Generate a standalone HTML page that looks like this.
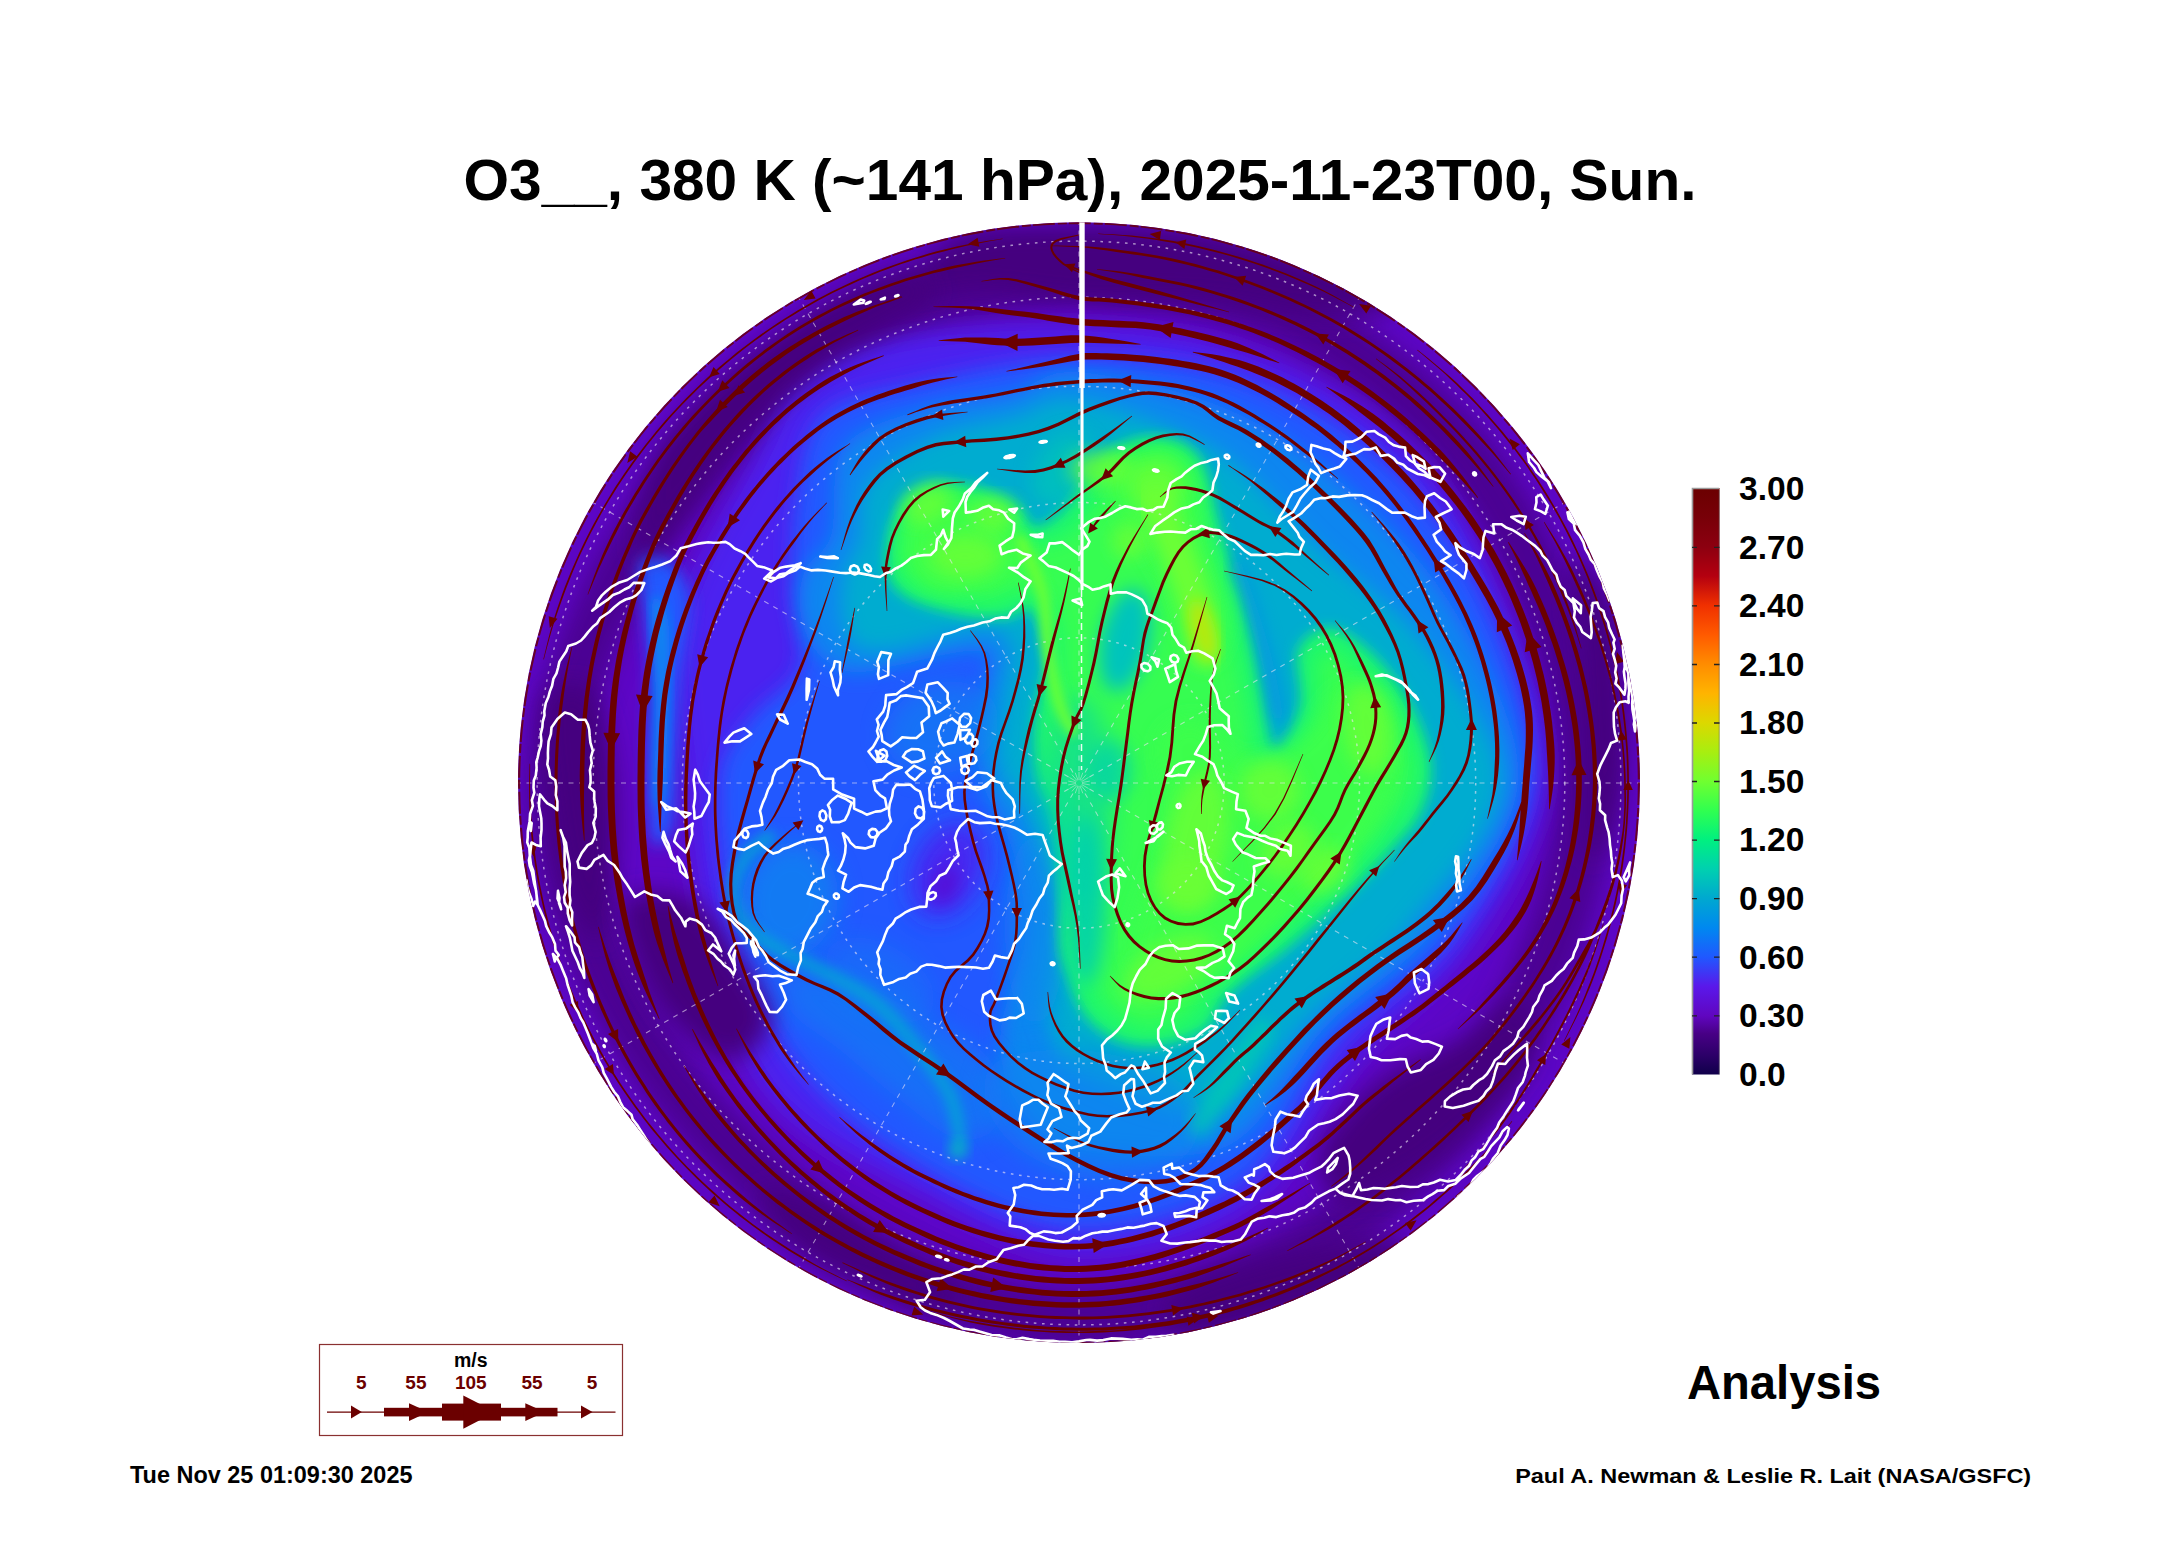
<!DOCTYPE html>
<html><head><meta charset="utf-8"><title>O3 380K</title>
<style>html,body{margin:0;padding:0;background:#fff}body{width:2165px;height:1561px;overflow:hidden}
svg{display:block;font-family:"Liberation Sans",sans-serif}</style></head>
<body><svg width="2165" height="1561" viewBox="0 0 2165 1561">
<rect width="2165" height="1561" fill="#fff"/>
<defs><clipPath id="clip"><ellipse cx="1079" cy="782.6" rx="561" ry="560.3"/></clipPath>
<filter id="b5" x="-30%" y="-30%" width="160%" height="160%"><feGaussianBlur stdDeviation="5"/></filter>
<filter id="b6" x="-30%" y="-30%" width="160%" height="160%"><feGaussianBlur stdDeviation="6"/></filter>
<filter id="b7" x="-30%" y="-30%" width="160%" height="160%"><feGaussianBlur stdDeviation="7"/></filter>
<filter id="b8" x="-30%" y="-30%" width="160%" height="160%"><feGaussianBlur stdDeviation="8"/></filter>
<filter id="b9" x="-30%" y="-30%" width="160%" height="160%"><feGaussianBlur stdDeviation="9"/></filter>
<filter id="b10" x="-30%" y="-30%" width="160%" height="160%"><feGaussianBlur stdDeviation="10"/></filter>
<filter id="b12" x="-30%" y="-30%" width="160%" height="160%"><feGaussianBlur stdDeviation="12"/></filter>
<filter id="b14" x="-30%" y="-30%" width="160%" height="160%"><feGaussianBlur stdDeviation="14"/></filter>
<filter id="er18" x="-10%" y="-10%" width="120%" height="120%"><feMorphology operator="erode" radius="16"/><feGaussianBlur stdDeviation="10"/></filter>
</defs>
<g clip-path="url(#clip)">
<rect x="500" y="200" width="1160" height="1160" fill="#5d06c6"/>
<path d="M1079.0 271.0C1111.7 277.5 1215.1 284.5 1274.9 310.0C1334.8 335.4 1393.6 377.0 1438.2 423.8C1482.9 470.6 1518.5 531.0 1542.8 590.9C1567.1 650.8 1584.3 719.1 1584.0 783.0C1583.7 846.9 1565.6 914.8 1540.9 974.3C1516.3 1033.9 1479.9 1091.9 1436.1 1140.1C1392.3 1188.3 1337.5 1233.3 1278.0 1263.4C1218.5 1293.6 1145.3 1321.0 1079.0 1321.0C1012.7 1321.0 939.5 1293.6 880.0 1263.4C820.5 1233.3 767.3 1187.6 721.9 1140.1C676.5 1092.5 635.3 1037.7 607.8 978.2C580.3 918.7 556.2 847.7 557.0 783.0C557.8 718.3 583.8 648.1 612.4 589.7C641.1 531.4 683.4 478.5 729.0 433.0C774.5 387.4 827.4 343.4 885.7 316.4C944.1 289.4 1046.8 278.6 1079.0 271.0" fill="none" stroke="#44007f" stroke-width="58" stroke-linecap="round" filter="url(#b12)" opacity="0.72"/>
<path d="M1079.0 327.0C1139.1 329.8 1200.4 335.6 1255.8 356.2C1311.2 376.8 1370.3 408.7 1411.3 450.7C1452.4 492.6 1479.9 552.3 1502.1 607.7C1524.4 663.1 1550.2 726.7 1545.0 783.0C1539.8 839.3 1502.2 899.1 1470.7 945.3C1439.3 991.5 1392.5 1017.2 1356.2 1060.2C1319.9 1103.2 1299.3 1170.9 1253.1 1203.4C1206.9 1235.8 1136.1 1257.3 1079.0 1255.0C1021.9 1252.7 962.5 1216.3 910.6 1189.5C858.8 1162.7 801.7 1136.2 767.9 1094.1C734.0 1052.0 721.4 988.7 707.6 936.8C693.8 885.0 689.6 836.2 685.0 783.0C680.4 729.8 668.2 671.7 679.9 617.7C691.6 563.7 735.3 498.2 755.1 459.1C775.0 420.1 775.7 403.2 799.1 383.3C822.5 363.3 848.7 348.9 895.3 339.5C942.0 330.2 1018.9 324.2 1079.0 327.0Z" fill="#4c24f0" filter="url(#b12)"/>
<path d="M1079.0 358.0C1134.4 357.4 1193.5 361.7 1245.8 380.2C1298.2 398.7 1352.2 430.3 1393.0 469.0C1433.7 507.8 1467.1 560.4 1490.1 612.7C1513.1 665.0 1537.2 728.8 1531.0 783.0C1524.8 837.2 1485.5 895.0 1453.2 938.0C1420.9 981.0 1372.0 1000.7 1337.1 1041.1C1302.2 1081.5 1286.6 1149.0 1243.6 1180.3C1200.5 1211.6 1132.9 1231.3 1079.0 1229.0C1025.1 1226.7 967.1 1193.8 920.2 1166.4C873.3 1139.0 828.4 1104.6 797.6 1064.4C766.8 1024.3 748.4 972.3 735.3 925.4C722.2 878.5 716.5 817.4 719.0 783.0C721.5 748.6 736.7 738.3 750.2 719.1C763.7 699.8 792.9 688.9 800.0 667.4C807.1 645.9 793.6 618.0 793.0 590.1C792.3 562.2 791.3 529.2 796.2 500.2C801.0 471.1 802.5 435.4 822.0 416.0C841.6 396.6 870.9 393.6 913.7 383.9C956.5 374.2 1023.6 358.6 1079.0 358.0Z" fill="#2258ff" filter="url(#b10)"/>
<path d="M640.0 560.0C643.8 550.0 659.7 553.3 668.0 560.0C676.3 566.7 688.0 580.0 690.0 600.0C692.0 620.0 682.3 653.3 680.0 680.0C677.7 706.7 677.3 735.0 676.0 760.0C674.7 785.0 676.0 816.7 672.0 830.0C668.0 843.3 656.0 851.7 652.0 840.0C648.0 828.3 648.3 786.7 648.0 760.0C647.7 733.3 650.5 703.3 650.0 680.0C649.5 656.7 646.7 640.0 645.0 620.0C643.3 600.0 636.2 570.0 640.0 560.0Z" fill="#2258ff" filter="url(#b8)"/>
<path d="M652.0 600.0C654.0 586.7 665.3 603.3 668.0 620.0C670.7 636.7 668.7 671.7 668.0 700.0C667.3 728.3 666.2 773.3 664.0 790.0C661.8 806.7 656.3 815.0 655.0 800.0C653.7 785.0 656.5 733.3 656.0 700.0C655.5 666.7 650.0 613.3 652.0 600.0Z" fill="#0a86f0" filter="url(#b6)"/>
<path d="M1079.0 372.0C1116.1 374.9 1185.7 390.2 1232.8 411.6C1280.0 433.0 1323.6 464.7 1361.8 500.2C1400.1 535.6 1436.4 577.0 1462.4 624.2C1488.4 671.3 1522.6 732.0 1518.0 783.0C1513.4 834.0 1467.0 889.4 1434.7 930.3C1402.4 971.2 1358.6 992.6 1324.4 1028.4C1290.1 1064.2 1269.9 1124.9 1229.0 1145.2C1188.1 1165.4 1110.5 1152.5 1079.0 1150.0C1047.5 1147.5 1051.5 1140.0 1040.0 1130.0C1028.5 1120.0 1016.7 1105.0 1010.0 1090.0C1003.3 1075.0 1000.0 1056.7 1000.0 1040.0C1000.0 1023.3 1005.8 1006.7 1010.0 990.0C1014.2 973.3 1023.3 958.3 1025.0 940.0C1026.7 921.7 1023.3 898.3 1020.0 880.0C1016.7 861.7 1010.8 845.0 1005.0 830.0C999.2 815.0 990.0 805.0 985.0 790.0C980.0 775.0 975.0 756.7 975.0 740.0C975.0 723.3 982.5 704.2 985.0 690.0C987.5 675.8 994.2 661.3 990.0 655.0C985.8 648.7 975.0 650.3 960.0 652.0C945.0 653.7 918.3 661.7 900.0 665.0C881.7 668.3 864.2 674.5 850.0 672.0C835.8 669.5 823.3 660.3 815.0 650.0C806.7 639.7 801.7 623.3 800.0 610.0C798.3 596.7 799.8 582.5 805.0 570.0C810.2 557.5 824.5 555.5 831.0 535.0C837.5 514.5 828.5 468.0 844.0 447.0C859.5 426.0 896.3 417.8 924.0 409.0C951.7 400.2 984.2 400.2 1010.0 394.0C1035.8 387.8 1041.9 369.1 1079.0 372.0Z" fill="#0a86f0" filter="url(#b10)"/>
<path d="M1079.0 400.0C1112.7 405.6 1177.3 426.1 1216.8 450.4C1256.2 474.8 1281.6 514.4 1315.9 546.1C1350.2 577.8 1392.0 601.2 1422.7 640.6C1453.4 680.1 1501.5 736.2 1500.0 783.0C1498.5 829.8 1444.8 882.8 1413.4 921.5C1382.1 960.3 1344.7 984.1 1311.6 1015.6C1278.5 1047.2 1253.6 1101.1 1214.9 1111.0C1176.1 1120.9 1106.5 1088.5 1079.0 1075.0C1051.5 1061.5 1056.5 1044.2 1050.0 1030.0C1043.5 1015.8 1040.8 1006.2 1040.0 990.0C1039.2 973.8 1043.7 952.2 1045.0 933.0C1046.3 913.8 1050.5 894.2 1048.0 875.0C1045.5 855.8 1037.2 834.0 1030.0 818.0C1022.8 802.0 1010.7 792.0 1005.0 779.0C999.3 766.0 996.0 754.8 996.0 740.0C996.0 725.2 1002.3 705.0 1005.0 690.0C1007.7 675.0 1013.7 660.0 1012.0 650.0C1010.3 640.0 1003.5 633.0 995.0 630.0C986.5 627.0 973.5 629.8 961.0 632.0C948.5 634.2 932.8 640.0 920.0 643.0C907.2 646.0 894.8 649.7 884.0 650.0C873.2 650.3 862.0 650.8 855.0 645.0C848.0 639.2 843.7 627.5 842.0 615.0C840.3 602.5 842.0 582.5 845.0 570.0C848.0 557.5 856.1 554.6 860.0 540.0C863.9 525.4 855.9 499.6 868.5 482.4C881.1 465.1 911.2 447.5 935.5 436.5C959.8 425.5 990.5 422.7 1014.4 416.6C1038.3 410.5 1045.3 394.4 1079.0 400.0Z" fill="#00acd0" filter="url(#b10)"/>
<path d="M996.5 708.2C998.7 714.3 999.2 721.7 997.8 728.5C996.4 735.2 992.8 742.6 988.0 748.7C983.2 754.7 976.3 760.7 969.1 764.8C961.9 769.0 953.1 772.2 944.9 773.6C936.7 775.1 927.6 775.0 920.1 773.4C912.5 771.9 905.0 768.5 899.6 764.2C894.1 760.0 889.7 754.0 887.5 747.8C885.3 741.7 884.8 734.3 886.2 727.5C887.6 720.8 891.2 713.4 896.0 707.3C900.8 701.3 907.7 695.3 914.9 691.2C922.1 687.0 930.9 683.8 939.1 682.4C947.3 680.9 956.4 681.0 963.9 682.6C971.5 684.1 979.0 687.5 984.4 691.8C989.9 696.0 994.3 702.0 996.5 708.2Z" fill="#0a86f0" filter="url(#b12)" opacity="0.55"/>
<path d="M837.3 908.3C835.8 916.6 832.5 925.4 828.2 932.3C823.9 939.2 817.9 945.6 811.6 949.9C805.3 954.1 797.7 956.9 790.7 957.5C783.7 958.2 776.0 956.8 769.7 953.8C763.3 950.8 757.1 945.6 752.7 939.5C748.2 933.4 744.7 925.2 743.0 917.3C741.4 909.3 741.3 899.9 742.7 891.7C744.2 883.4 747.5 874.6 751.8 867.7C756.1 860.8 762.1 854.4 768.4 850.1C774.7 845.9 782.3 843.1 789.3 842.5C796.3 841.8 804.0 843.2 810.3 846.2C816.7 849.2 822.9 854.4 827.3 860.5C831.8 866.6 835.3 874.8 837.0 882.7C838.6 890.7 838.7 900.1 837.3 908.3Z" fill="#0a86f0" filter="url(#b12)" opacity="0.75"/>
<path d="M790.0 970.0C801.7 965.8 836.7 976.7 860.0 985.0C883.3 993.3 908.3 1007.5 930.0 1020.0C951.7 1032.5 978.3 1043.3 990.0 1060.0C1001.7 1076.7 1005.0 1106.7 1000.0 1120.0C995.0 1133.3 976.7 1143.3 960.0 1140.0C943.3 1136.7 920.0 1115.0 900.0 1100.0C880.0 1085.0 858.3 1065.0 840.0 1050.0C821.7 1035.0 798.3 1023.3 790.0 1010.0C781.7 996.7 778.3 974.2 790.0 970.0Z" fill="#0a86f0" filter="url(#b12)" opacity="0.5"/>
<path d="M1065.0 930.0C1065.0 943.7 1063.9 958.8 1062.0 971.2C1060.1 983.6 1057.1 995.7 1053.7 1004.3C1050.3 1012.8 1045.9 1019.6 1041.7 1022.6C1037.4 1025.7 1032.6 1025.7 1028.3 1022.6C1024.1 1019.6 1019.7 1012.8 1016.3 1004.3C1012.9 995.7 1009.9 983.6 1008.0 971.2C1006.1 958.8 1005.0 943.7 1005.0 930.0C1005.0 916.3 1006.1 901.2 1008.0 888.8C1009.9 876.4 1012.9 864.3 1016.3 855.7C1019.7 847.2 1024.1 840.4 1028.3 837.4C1032.6 834.3 1037.4 834.3 1041.7 837.4C1045.9 840.4 1050.3 847.2 1053.7 855.7C1057.1 864.3 1060.1 876.4 1062.0 888.8C1063.9 901.2 1065.0 916.3 1065.0 930.0Z" fill="#0a86f0" filter="url(#b12)" opacity="0.7"/>
<path d="M1000.0 1060.0C1015.8 1051.7 1053.3 1048.3 1080.0 1050.0C1106.7 1051.7 1140.0 1060.0 1160.0 1070.0C1180.0 1080.0 1196.7 1095.0 1200.0 1110.0C1203.3 1125.0 1196.7 1148.3 1180.0 1160.0C1163.3 1171.7 1126.7 1181.7 1100.0 1180.0C1073.3 1178.3 1039.2 1163.3 1020.0 1150.0C1000.8 1136.7 988.3 1115.0 985.0 1100.0C981.7 1085.0 984.2 1068.3 1000.0 1060.0Z" fill="#0a86f0" filter="url(#b12)" opacity="0.6"/>
<path d="M932.0 1010.0C929.4 1014.4 924.8 1018.1 919.2 1020.2C913.7 1022.2 906.2 1023.1 898.7 1022.4C891.3 1021.7 882.4 1019.5 874.5 1016.2C866.6 1013.0 858.1 1008.1 851.4 1002.9C844.6 997.7 838.2 991.1 833.9 985.0C829.6 978.9 826.6 972.0 825.6 966.1C824.6 960.3 825.5 954.4 828.0 950.0C830.6 945.6 835.2 941.9 840.8 939.8C846.3 937.8 853.8 936.9 861.3 937.6C868.7 938.3 877.6 940.5 885.5 943.8C893.4 947.0 901.9 951.9 908.6 957.1C915.4 962.3 921.8 968.9 926.1 975.0C930.4 981.1 933.4 988.0 934.4 993.9C935.4 999.7 934.5 1005.6 932.0 1010.0Z" fill="#0a86f0" filter="url(#b12)" opacity="0.35"/>
<path d="M769.0 837.0C765.2 840.2 752.0 847.2 746.0 856.0C740.0 864.8 733.2 878.5 733.0 890.0C732.8 901.5 737.2 915.0 745.0 925.0C752.8 935.0 765.8 941.7 780.0 950.0C794.2 958.3 814.2 966.3 830.0 975.0C845.8 983.7 860.8 990.3 875.0 1002.0C889.2 1013.7 902.5 1029.5 915.0 1045.0C927.5 1060.5 942.5 1079.2 950.0 1095.0C957.5 1110.8 958.3 1132.5 960.0 1140.0" fill="none" stroke="#00acd0" stroke-width="13" stroke-linecap="round" filter="url(#b6)" opacity="0.75"/>
<path d="M968.0 1150.0C968.0 1151.4 967.6 1153.0 967.0 1154.3C966.4 1155.6 965.4 1156.9 964.2 1157.8C963.1 1158.7 961.6 1159.4 960.2 1159.7C958.8 1160.1 957.2 1160.1 955.8 1159.7C954.4 1159.4 952.9 1158.7 951.8 1157.8C950.6 1156.9 949.6 1155.6 949.0 1154.3C948.4 1153.0 948.0 1151.4 948.0 1150.0C948.0 1148.6 948.4 1147.0 949.0 1145.7C949.6 1144.4 950.6 1143.1 951.8 1142.2C952.9 1141.3 954.4 1140.6 955.8 1140.3C957.2 1139.9 958.8 1139.9 960.2 1140.3C961.6 1140.6 963.1 1141.3 964.2 1142.2C965.4 1143.1 966.4 1144.4 967.0 1145.7C967.6 1147.0 968.0 1148.6 968.0 1150.0Z" fill="#00d0ae" filter="url(#b6)" opacity="0.6"/>
<path d="M978.8 884.4C975.8 890.9 971.3 897.6 966.6 902.6C961.9 907.6 956.1 911.9 950.7 914.4C945.3 916.8 939.3 917.9 934.3 917.4C929.2 916.8 924.2 914.5 920.5 911.0C916.9 907.5 913.8 902.2 912.3 896.5C910.7 890.8 910.2 883.5 911.1 876.7C911.9 869.9 914.1 862.2 917.2 855.6C920.2 849.1 924.7 842.4 929.4 837.4C934.1 832.4 939.9 828.1 945.3 825.6C950.7 823.2 956.7 822.1 961.7 822.6C966.8 823.2 971.8 825.5 975.5 829.0C979.1 832.5 982.2 837.8 983.7 843.5C985.3 849.2 985.8 856.5 984.9 863.3C984.1 870.1 981.9 877.8 978.8 884.4Z" fill="#4c24f0" filter="url(#b12)" opacity="0.9"/>
<path d="M957.2 889.4C956.2 892.2 954.7 895.0 953.0 897.2C951.4 899.3 949.3 901.3 947.3 902.5C945.3 903.7 943.0 904.3 941.0 904.3C939.1 904.3 937.1 903.6 935.6 902.3C934.1 901.1 932.8 899.1 932.0 896.9C931.3 894.7 930.9 891.9 931.0 889.1C931.2 886.4 931.8 883.3 932.8 880.6C933.8 877.8 935.3 875.0 937.0 872.8C938.6 870.7 940.7 868.7 942.7 867.5C944.7 866.3 947.0 865.7 949.0 865.7C950.9 865.7 952.9 866.4 954.4 867.7C955.9 868.9 957.2 870.9 958.0 873.1C958.7 875.3 959.1 878.1 959.0 880.9C958.8 883.6 958.2 886.7 957.2 889.4Z" fill="#5d06c6" filter="url(#b8)" opacity="0.55"/>
<path d="M887.0 570.0C885.3 559.7 886.5 542.6 889.6 530.7C892.7 518.8 898.1 506.2 905.7 498.4C913.3 490.5 924.2 485.6 935.4 483.6C946.6 481.6 962.2 484.3 973.0 486.3C983.8 488.3 991.9 491.9 1000.0 495.7C1008.1 499.5 1015.8 503.8 1021.5 509.0C1027.2 514.2 1027.9 526.2 1034.0 527.0C1040.1 527.8 1051.0 520.2 1058.0 514.0C1065.0 507.8 1070.3 497.7 1076.0 490.0C1081.7 482.3 1086.3 474.7 1092.0 468.0C1097.7 461.3 1101.6 455.0 1110.0 450.0C1118.4 445.0 1131.3 439.2 1142.6 437.9C1153.8 436.5 1168.1 438.5 1177.5 441.9C1186.9 445.2 1193.6 450.4 1199.0 458.0C1204.4 465.6 1206.6 477.3 1209.8 487.6C1213.0 497.9 1214.8 508.8 1218.0 520.0C1221.2 531.2 1224.7 542.5 1228.7 555.0C1232.7 567.5 1238.1 582.0 1242.0 595.3C1245.9 608.6 1248.7 619.2 1252.0 635.0C1255.3 650.8 1258.2 670.8 1262.0 690.0C1265.8 709.2 1268.7 747.5 1275.0 750.0C1281.3 752.5 1296.2 721.7 1300.0 705.0C1303.8 688.3 1293.3 662.8 1298.0 650.0C1302.7 637.2 1317.3 628.8 1328.0 628.0C1338.7 627.2 1350.8 636.3 1362.0 645.0C1373.2 653.7 1385.3 666.7 1395.0 680.0C1404.7 693.3 1414.0 709.8 1420.0 725.0C1426.0 740.2 1431.0 756.0 1431.0 771.0C1431.0 786.0 1426.5 801.8 1420.0 815.0C1413.5 828.2 1402.3 838.3 1392.0 850.0C1381.7 861.7 1369.7 873.7 1358.0 885.0C1346.3 896.3 1334.2 907.2 1322.0 918.0C1309.8 928.8 1297.3 940.0 1285.0 950.0C1272.7 960.0 1258.2 969.7 1248.0 978.0C1237.8 986.3 1231.0 991.5 1224.0 1000.0C1217.0 1008.5 1215.4 1021.7 1206.0 1029.0C1196.6 1036.3 1180.4 1041.5 1167.6 1044.0C1154.8 1046.5 1140.6 1046.5 1129.0 1044.0C1117.4 1041.5 1106.3 1035.3 1098.0 1029.0C1089.7 1022.7 1084.0 1015.0 1079.0 1006.0C1074.0 997.0 1070.9 985.3 1067.7 975.0C1064.5 964.7 1061.1 960.7 1060.0 944.0C1058.9 927.3 1062.1 896.0 1061.0 875.0C1059.9 854.0 1057.3 833.7 1053.5 817.7C1049.7 801.7 1041.2 792.3 1038.0 779.0C1034.8 765.7 1034.0 751.2 1034.0 738.0C1034.0 724.8 1036.0 712.5 1038.0 699.7C1040.0 686.9 1045.8 673.8 1045.8 661.0C1045.8 648.2 1041.2 631.5 1038.0 622.8C1034.8 614.1 1031.3 609.7 1026.8 608.7C1022.2 607.7 1019.7 615.4 1010.7 616.8C1001.7 618.1 987.0 618.6 973.0 616.8C959.0 615.0 939.2 610.0 927.0 606.0C914.8 602.0 906.7 598.6 900.0 592.6C893.3 586.6 888.7 580.3 887.0 570.0Z" fill="#1cf66e" filter="url(#b7)"/>
<path d="M887.0 570.0C885.3 559.7 886.5 542.6 889.6 530.7C892.7 518.8 898.1 506.2 905.7 498.4C913.3 490.5 924.2 485.6 935.4 483.6C946.6 481.6 962.2 484.3 973.0 486.3C983.8 488.3 991.9 491.9 1000.0 495.7C1008.1 499.5 1015.8 503.8 1021.5 509.0C1027.2 514.2 1027.9 526.2 1034.0 527.0C1040.1 527.8 1051.0 520.2 1058.0 514.0C1065.0 507.8 1070.3 497.7 1076.0 490.0C1081.7 482.3 1086.3 474.7 1092.0 468.0C1097.7 461.3 1101.6 455.0 1110.0 450.0C1118.4 445.0 1131.3 439.2 1142.6 437.9C1153.8 436.5 1168.1 438.5 1177.5 441.9C1186.9 445.2 1193.6 450.4 1199.0 458.0C1204.4 465.6 1206.6 477.3 1209.8 487.6C1213.0 497.9 1214.8 508.8 1218.0 520.0C1221.2 531.2 1224.7 542.5 1228.7 555.0C1232.7 567.5 1238.1 582.0 1242.0 595.3C1245.9 608.6 1248.7 619.2 1252.0 635.0C1255.3 650.8 1258.2 670.8 1262.0 690.0C1265.8 709.2 1268.7 747.5 1275.0 750.0C1281.3 752.5 1296.2 721.7 1300.0 705.0C1303.8 688.3 1293.3 662.8 1298.0 650.0C1302.7 637.2 1317.3 628.8 1328.0 628.0C1338.7 627.2 1350.8 636.3 1362.0 645.0C1373.2 653.7 1385.3 666.7 1395.0 680.0C1404.7 693.3 1414.0 709.8 1420.0 725.0C1426.0 740.2 1431.0 756.0 1431.0 771.0C1431.0 786.0 1426.5 801.8 1420.0 815.0C1413.5 828.2 1402.3 838.3 1392.0 850.0C1381.7 861.7 1369.7 873.7 1358.0 885.0C1346.3 896.3 1334.2 907.2 1322.0 918.0C1309.8 928.8 1297.3 940.0 1285.0 950.0C1272.7 960.0 1258.2 969.7 1248.0 978.0C1237.8 986.3 1231.0 991.5 1224.0 1000.0C1217.0 1008.5 1215.4 1021.7 1206.0 1029.0C1196.6 1036.3 1180.4 1041.5 1167.6 1044.0C1154.8 1046.5 1140.6 1046.5 1129.0 1044.0C1117.4 1041.5 1106.3 1035.3 1098.0 1029.0C1089.7 1022.7 1084.0 1015.0 1079.0 1006.0C1074.0 997.0 1070.9 985.3 1067.7 975.0C1064.5 964.7 1061.1 960.7 1060.0 944.0C1058.9 927.3 1062.1 896.0 1061.0 875.0C1059.9 854.0 1057.3 833.7 1053.5 817.7C1049.7 801.7 1041.2 792.3 1038.0 779.0C1034.8 765.7 1034.0 751.2 1034.0 738.0C1034.0 724.8 1036.0 712.5 1038.0 699.7C1040.0 686.9 1045.8 673.8 1045.8 661.0C1045.8 648.2 1041.2 631.5 1038.0 622.8C1034.8 614.1 1031.3 609.7 1026.8 608.7C1022.2 607.7 1019.7 615.4 1010.7 616.8C1001.7 618.1 987.0 618.6 973.0 616.8C959.0 615.0 939.2 610.0 927.0 606.0C914.8 602.0 906.7 598.6 900.0 592.6C893.3 586.6 888.7 580.3 887.0 570.0Z" fill="#3cff4c" filter="url(#er18)" opacity="0.8"/>
<path d="M1262.0 1030.0C1256.7 1038.3 1240.3 1064.2 1230.0 1080.0C1219.7 1095.8 1205.0 1117.5 1200.0 1125.0" fill="none" stroke="#00d0ae" stroke-width="22" stroke-linecap="round" filter="url(#b8)" opacity="0.7"/>
<path d="M1236.0 565.0C1238.7 572.5 1246.7 593.3 1252.0 610.0C1257.3 626.7 1263.7 647.5 1268.0 665.0C1272.3 682.5 1276.3 706.7 1278.0 715.0" fill="none" stroke="#0a86f0" stroke-width="13" stroke-linecap="round" filter="url(#b8)" opacity="0.6"/>
<path d="M1148.5 645.0C1146.9 652.3 1144.3 660.2 1141.5 666.6C1138.6 672.9 1134.8 678.9 1131.2 682.9C1127.6 686.9 1123.3 689.8 1119.7 690.7C1116.0 691.6 1112.2 690.8 1109.2 688.5C1106.3 686.1 1103.6 681.8 1101.9 676.7C1100.2 671.5 1099.2 664.5 1099.2 657.6C1099.1 650.6 1100.0 642.4 1101.5 635.0C1103.1 627.7 1105.7 619.8 1108.5 613.4C1111.4 607.1 1115.2 601.1 1118.8 597.1C1122.4 593.1 1126.7 590.2 1130.3 589.3C1134.0 588.4 1137.8 589.2 1140.8 591.5C1143.7 593.9 1146.4 598.2 1148.1 603.3C1149.8 608.5 1150.8 615.5 1150.8 622.4C1150.9 629.4 1150.0 637.6 1148.5 645.0Z" fill="#00c4bc" filter="url(#b9)"/>
<path d="M1106.0 900.0C1106.0 912.3 1105.3 925.8 1104.0 936.9C1102.8 948.0 1100.7 958.8 1098.5 966.5C1096.2 974.1 1093.3 980.1 1090.5 982.9C1087.6 985.6 1084.4 985.6 1081.5 982.9C1078.7 980.1 1075.8 974.1 1073.5 966.5C1071.3 958.8 1069.2 948.0 1068.0 936.9C1066.7 925.8 1066.0 912.3 1066.0 900.0C1066.0 887.7 1066.7 874.2 1068.0 863.1C1069.2 852.0 1071.3 841.2 1073.5 833.5C1075.8 825.9 1078.7 819.9 1081.5 817.1C1084.4 814.4 1087.6 814.4 1090.5 817.1C1093.3 819.9 1096.2 825.9 1098.5 833.5C1100.7 841.2 1102.8 852.0 1104.0 863.1C1105.3 874.2 1106.0 887.7 1106.0 900.0Z" fill="#00d0ae" filter="url(#b10)" opacity="0.9"/>
<path d="M1132.0 770.0C1132.0 774.3 1131.2 779.1 1129.8 783.0C1128.4 786.9 1126.2 790.7 1123.7 793.5C1121.2 796.2 1118.0 798.3 1114.9 799.2C1111.8 800.2 1108.2 800.2 1105.1 799.2C1102.0 798.3 1098.8 796.2 1096.3 793.5C1093.8 790.7 1091.6 786.9 1090.2 783.0C1088.8 779.1 1088.0 774.3 1088.0 770.0C1088.0 765.7 1088.8 760.9 1090.2 757.0C1091.6 753.1 1093.8 749.3 1096.3 746.5C1098.8 743.8 1102.0 741.7 1105.1 740.8C1108.2 739.8 1111.8 739.8 1114.9 740.8C1118.0 741.7 1121.2 743.8 1123.7 746.5C1126.2 749.3 1128.4 753.1 1129.8 757.0C1131.2 760.9 1132.0 765.7 1132.0 770.0Z" fill="#00d0ae" filter="url(#b9)" opacity="0.7"/>
<path d="M1112.0 800.0C1112.0 815.2 1110.8 831.9 1108.6 845.6C1106.5 859.2 1103.0 872.6 1099.2 882.1C1095.4 891.6 1090.4 899.0 1085.6 902.4C1080.8 905.7 1075.2 905.7 1070.4 902.4C1065.6 899.0 1060.6 891.6 1056.8 882.1C1053.0 872.6 1049.5 859.2 1047.4 845.6C1045.2 831.9 1044.0 815.2 1044.0 800.0C1044.0 784.8 1045.2 768.1 1047.4 754.4C1049.5 740.8 1053.0 727.4 1056.8 717.9C1060.6 708.4 1065.6 701.0 1070.4 697.6C1075.2 694.3 1080.8 694.3 1085.6 697.6C1090.4 701.0 1095.4 708.4 1099.2 717.9C1103.0 727.4 1106.5 740.8 1108.6 754.4C1110.8 768.1 1112.0 784.8 1112.0 800.0Z" fill="#00d0ae" filter="url(#b12)" opacity="0.55"/>
<path d="M1084.5 483.0C1081.6 488.0 1077.6 493.0 1073.6 496.7C1069.6 500.4 1064.8 503.5 1060.4 505.2C1056.1 506.8 1051.3 507.4 1047.5 506.7C1043.7 505.9 1040.0 503.8 1037.5 500.9C1035.0 497.9 1033.1 493.6 1032.3 489.0C1031.6 484.4 1031.8 478.6 1033.0 473.3C1034.2 468.0 1036.6 462.0 1039.5 457.0C1042.4 452.0 1046.4 447.0 1050.4 443.3C1054.4 439.6 1059.2 436.5 1063.6 434.8C1067.9 433.2 1072.7 432.6 1076.5 433.3C1080.3 434.1 1084.0 436.2 1086.5 439.1C1089.0 442.1 1090.9 446.4 1091.7 451.0C1092.4 455.6 1092.2 461.4 1091.0 466.7C1089.8 472.0 1087.4 478.0 1084.5 483.0Z" fill="#00d0ae" filter="url(#b10)" opacity="0.5"/>
<path d="M902.8 533.7C904.3 522.4 909.2 510.9 917.6 504.0C926.0 497.1 941.7 492.0 953.0 492.0C964.3 492.0 976.2 499.0 985.5 504.0C994.8 509.0 1002.6 515.1 1009.0 522.0C1015.4 528.9 1024.0 537.2 1024.0 545.5C1024.0 553.8 1017.4 565.1 1009.0 572.0C1000.6 578.9 985.5 583.5 973.7 587.0C961.9 590.5 948.8 595.3 938.0 592.8C927.2 590.3 914.6 581.9 908.7 572.0C902.8 562.1 901.3 545.0 902.8 533.7Z" fill="#3cff4c" filter="url(#b10)" opacity="0.9"/>
<path d="M1112.0 470.0C1114.2 459.5 1124.5 455.7 1135.0 452.0C1145.5 448.3 1164.1 443.7 1174.7 448.0C1185.3 452.3 1193.5 465.3 1198.4 477.6C1203.3 489.9 1201.9 507.8 1204.3 522.0C1206.7 536.2 1209.0 547.2 1213.0 563.0C1217.0 578.8 1228.0 600.2 1228.0 616.5C1228.0 632.8 1219.4 655.9 1213.0 660.8C1206.6 665.7 1196.9 658.3 1189.5 646.0C1182.1 633.7 1176.2 603.8 1168.8 587.0C1161.4 570.2 1152.8 557.5 1145.0 545.5C1137.2 533.5 1127.5 527.6 1122.0 515.0C1116.5 502.4 1109.8 480.5 1112.0 470.0Z" fill="#3cff4c" filter="url(#b10)" opacity="0.9"/>
<path d="M1160.0 740.0C1165.0 725.0 1186.7 716.7 1200.0 720.0C1213.3 723.3 1223.3 756.7 1240.0 760.0C1256.7 763.3 1283.3 751.7 1300.0 740.0C1316.7 728.3 1325.8 696.7 1340.0 690.0C1354.2 683.3 1376.3 686.7 1385.0 700.0C1393.7 713.3 1394.5 748.3 1392.0 770.0C1389.5 791.7 1382.0 810.8 1370.0 830.0C1358.0 849.2 1336.7 868.3 1320.0 885.0C1303.3 901.7 1287.5 914.2 1270.0 930.0C1252.5 945.8 1233.3 970.0 1215.0 980.0C1196.7 990.0 1174.2 995.0 1160.0 990.0C1145.8 985.0 1131.7 968.3 1130.0 950.0C1128.3 931.7 1143.3 903.3 1150.0 880.0C1156.7 856.7 1168.3 833.3 1170.0 810.0C1171.7 786.7 1155.0 755.0 1160.0 740.0Z" fill="#3cff4c" filter="url(#b10)" opacity="0.9"/>
<path d="M949.5 491.0C950.8 493.3 951.4 496.2 951.2 499.1C951.0 501.9 949.8 505.2 948.1 508.1C946.3 511.0 943.7 514.0 940.8 516.3C937.9 518.6 934.2 520.8 930.8 522.1C927.3 523.4 923.4 524.2 920.0 524.3C916.6 524.4 913.2 523.7 910.6 522.5C908.0 521.3 905.8 519.3 904.5 517.0C903.2 514.7 902.6 511.8 902.8 508.9C903.0 506.1 904.2 502.8 905.9 499.9C907.7 497.0 910.3 494.0 913.2 491.7C916.1 489.4 919.8 487.2 923.2 485.9C926.7 484.6 930.6 483.8 934.0 483.7C937.4 483.6 940.8 484.3 943.4 485.5C946.0 486.7 948.2 488.7 949.5 491.0Z" fill="#6cff34" filter="url(#b9)" opacity="0.8"/>
<path d="M1016.0 514.0C1016.0 516.5 1015.2 519.2 1013.8 521.4C1012.4 523.6 1010.2 525.8 1007.7 527.3C1005.2 528.8 1002.0 530.0 998.9 530.6C995.8 531.1 992.2 531.1 989.1 530.6C986.0 530.0 982.8 528.8 980.3 527.3C977.8 525.8 975.6 523.6 974.2 521.4C972.8 519.2 972.0 516.5 972.0 514.0C972.0 511.5 972.8 508.8 974.2 506.6C975.6 504.4 977.8 502.2 980.3 500.7C982.8 499.2 986.0 498.0 989.1 497.4C992.2 496.9 995.8 496.9 998.9 497.4C1002.0 498.0 1005.2 499.2 1007.7 500.7C1010.2 502.2 1012.4 504.4 1013.8 506.6C1015.2 508.8 1016.0 511.5 1016.0 514.0Z" fill="#6cff34" filter="url(#b9)" opacity="0.8"/>
<path d="M1001.0 556.0C1001.0 559.2 999.7 562.7 997.4 565.5C995.2 568.4 991.5 571.2 987.4 573.2C983.4 575.2 978.1 576.7 973.0 577.4C967.9 578.2 962.1 578.2 957.0 577.4C951.9 576.7 946.6 575.2 942.6 573.2C938.5 571.2 934.8 568.4 932.6 565.5C930.3 562.7 929.0 559.2 929.0 556.0C929.0 552.8 930.3 549.3 932.6 546.5C934.8 543.6 938.5 540.8 942.6 538.8C946.6 536.8 951.9 535.3 957.0 534.6C962.1 533.8 967.9 533.8 973.0 534.6C978.1 535.3 983.4 536.8 987.4 538.8C991.5 540.8 995.2 543.6 997.4 546.5C999.7 549.3 1001.0 552.8 1001.0 556.0Z" fill="#6cff34" filter="url(#b9)" opacity="0.8"/>
<path d="M1134.0 469.0C1134.0 471.6 1132.8 474.5 1130.8 476.8C1128.8 479.2 1125.6 481.4 1122.0 483.1C1118.3 484.7 1113.6 486.0 1109.1 486.5C1104.6 487.1 1099.4 487.1 1094.9 486.5C1090.4 486.0 1085.7 484.7 1082.0 483.1C1078.4 481.4 1075.2 479.2 1073.2 476.8C1071.2 474.5 1070.0 471.6 1070.0 469.0C1070.0 466.4 1071.2 463.5 1073.2 461.2C1075.2 458.8 1078.4 456.6 1082.0 454.9C1085.7 453.3 1090.4 452.0 1094.9 451.5C1099.4 450.9 1104.6 450.9 1109.1 451.5C1113.6 452.0 1118.3 453.3 1122.0 454.9C1125.6 456.6 1128.8 458.8 1130.8 461.2C1132.8 463.5 1134.0 466.4 1134.0 469.0Z" fill="#6cff34" filter="url(#b9)" opacity="0.8"/>
<path d="M1183.0 487.0C1183.0 490.9 1182.0 495.2 1180.3 498.7C1178.6 502.2 1175.9 505.7 1172.8 508.1C1169.8 510.5 1165.8 512.5 1162.0 513.3C1158.2 514.2 1153.8 514.2 1150.0 513.3C1146.2 512.5 1142.2 510.5 1139.2 508.1C1136.1 505.7 1133.4 502.2 1131.7 498.7C1130.0 495.2 1129.0 490.9 1129.0 487.0C1129.0 483.1 1130.0 478.8 1131.7 475.3C1133.4 471.8 1136.1 468.3 1139.2 465.9C1142.2 463.5 1146.2 461.5 1150.0 460.7C1153.8 459.8 1158.2 459.8 1162.0 460.7C1165.8 461.5 1169.8 463.5 1172.8 465.9C1175.9 468.3 1178.6 471.8 1180.3 475.3C1182.0 478.8 1183.0 483.1 1183.0 487.0Z" fill="#6cff34" filter="url(#b9)" opacity="0.8"/>
<path d="M1147.0 541.0C1147.0 543.6 1146.3 546.5 1145.2 548.8C1144.1 551.2 1142.3 553.4 1140.2 555.1C1138.2 556.7 1135.5 558.0 1133.0 558.5C1130.5 559.1 1127.5 559.1 1125.0 558.5C1122.5 558.0 1119.8 556.7 1117.8 555.1C1115.7 553.4 1113.9 551.2 1112.8 548.8C1111.7 546.5 1111.0 543.6 1111.0 541.0C1111.0 538.4 1111.7 535.5 1112.8 533.2C1113.9 530.8 1115.7 528.6 1117.8 526.9C1119.8 525.3 1122.5 524.0 1125.0 523.5C1127.5 522.9 1130.5 522.9 1133.0 523.5C1135.5 524.0 1138.2 525.3 1140.2 526.9C1142.3 528.6 1144.1 530.8 1145.2 533.2C1146.3 535.5 1147.0 538.4 1147.0 541.0Z" fill="#6cff34" filter="url(#b9)" opacity="0.8"/>
<path d="M1391.8 725.7C1392.7 732.2 1392.8 739.6 1392.2 745.8C1391.5 751.9 1389.9 758.0 1387.8 762.5C1385.7 767.0 1382.7 770.7 1379.5 772.7C1376.4 774.6 1372.5 775.1 1369.0 774.2C1365.4 773.2 1361.5 770.4 1358.2 766.7C1354.9 763.0 1351.7 757.5 1349.4 751.8C1347.0 746.0 1345.2 738.9 1344.2 732.3C1343.3 725.8 1343.2 718.4 1343.8 712.2C1344.5 706.1 1346.1 700.0 1348.2 695.5C1350.3 691.0 1353.3 687.3 1356.5 685.3C1359.6 683.4 1363.5 682.9 1367.0 683.8C1370.6 684.8 1374.5 687.6 1377.8 691.3C1381.1 695.0 1384.3 700.5 1386.6 706.2C1389.0 712.0 1390.8 719.1 1391.8 725.7Z" fill="#6cff34" filter="url(#b9)" opacity="0.8"/>
<path d="M1225.5 845.2C1223.8 855.2 1220.8 865.9 1217.3 874.6C1213.9 883.3 1209.4 891.5 1204.9 897.1C1200.5 902.8 1195.3 906.9 1190.7 908.4C1186.2 909.9 1181.3 909.0 1177.6 906.0C1173.8 903.1 1170.3 897.5 1168.1 890.6C1165.8 883.8 1164.4 874.5 1164.1 865.2C1163.8 855.9 1164.7 844.8 1166.5 834.8C1168.2 824.8 1171.2 814.1 1174.7 805.4C1178.1 796.7 1182.6 788.5 1187.1 782.9C1191.5 777.2 1196.7 773.1 1201.3 771.6C1205.8 770.1 1210.7 771.0 1214.4 774.0C1218.2 776.9 1221.7 782.5 1223.9 789.4C1226.2 796.2 1227.6 805.5 1227.9 814.8C1228.2 824.1 1227.3 835.2 1225.5 845.2Z" fill="#6cff34" filter="url(#b9)" opacity="0.8"/>
<path d="M1344.9 853.3C1346.8 855.5 1348.1 858.5 1348.5 861.6C1348.9 864.6 1348.6 868.3 1347.5 871.6C1346.4 874.8 1344.4 878.4 1342.0 881.2C1339.6 884.1 1336.3 886.8 1333.1 888.7C1329.9 890.5 1326.0 891.9 1322.6 892.4C1319.2 892.9 1315.6 892.7 1312.6 891.7C1309.7 890.8 1306.9 888.9 1305.1 886.7C1303.2 884.5 1301.9 881.5 1301.5 878.4C1301.1 875.4 1301.4 871.7 1302.5 868.4C1303.6 865.2 1305.6 861.6 1308.0 858.8C1310.4 855.9 1313.7 853.2 1316.9 851.3C1320.1 849.5 1324.0 848.1 1327.4 847.6C1330.8 847.1 1334.4 847.3 1337.4 848.3C1340.3 849.2 1343.1 851.1 1344.9 853.3Z" fill="#6cff34" filter="url(#b9)" opacity="0.8"/>
<path d="M1219.0 885.0C1219.0 888.8 1217.8 892.9 1215.8 896.3C1213.8 899.7 1210.6 903.0 1207.0 905.3C1203.3 907.7 1198.6 909.5 1194.1 910.3C1189.6 911.2 1184.4 911.2 1179.9 910.3C1175.4 909.5 1170.7 907.7 1167.0 905.3C1163.4 903.0 1160.2 899.7 1158.2 896.3C1156.2 892.9 1155.0 888.8 1155.0 885.0C1155.0 881.2 1156.2 877.1 1158.2 873.7C1160.2 870.3 1163.4 867.0 1167.0 864.7C1170.7 862.3 1175.4 860.5 1179.9 859.7C1184.4 858.8 1189.6 858.8 1194.1 859.7C1198.6 860.5 1203.3 862.3 1207.0 864.7C1210.6 867.0 1213.8 870.3 1215.8 873.7C1217.8 877.1 1219.0 881.2 1219.0 885.0Z" fill="#6cff34" filter="url(#b9)" opacity="0.8"/>
<path d="M1311.0 830.7C1313.2 833.4 1314.8 837.0 1315.4 840.6C1316.0 844.2 1315.6 848.5 1314.4 852.4C1313.2 856.2 1310.9 860.3 1308.2 863.6C1305.4 866.9 1301.7 870.1 1297.9 872.2C1294.2 874.3 1289.7 875.9 1285.7 876.4C1281.7 876.9 1277.4 876.5 1274.0 875.4C1270.5 874.2 1267.2 871.9 1265.0 869.3C1262.8 866.6 1261.2 863.0 1260.6 859.4C1260.0 855.8 1260.4 851.5 1261.6 847.6C1262.8 843.8 1265.1 839.7 1267.8 836.4C1270.6 833.1 1274.3 829.9 1278.1 827.8C1281.8 825.7 1286.3 824.1 1290.3 823.6C1294.3 823.1 1298.6 823.5 1302.0 824.6C1305.5 825.8 1308.8 828.1 1311.0 830.7Z" fill="#6cff34" filter="url(#b9)" opacity="0.8"/>
<path d="M1211.3 943.0C1213.1 946.1 1213.5 950.5 1212.4 954.9C1211.3 959.3 1208.5 964.6 1204.8 969.3C1201.0 974.1 1195.5 979.3 1189.8 983.5C1184.1 987.8 1177.1 991.8 1170.6 994.7C1164.0 997.5 1156.8 999.6 1150.8 1000.5C1144.8 1001.4 1138.8 1001.2 1134.4 999.9C1130.1 998.7 1126.5 996.1 1124.7 993.0C1122.9 989.9 1122.5 985.5 1123.6 981.1C1124.7 976.7 1127.5 971.4 1131.2 966.7C1135.0 961.9 1140.5 956.7 1146.2 952.5C1151.9 948.2 1158.9 944.2 1165.4 941.3C1172.0 938.5 1179.2 936.4 1185.2 935.5C1191.2 934.6 1197.2 934.8 1201.6 936.1C1205.9 937.3 1209.5 939.9 1211.3 943.0Z" fill="#6cff34" filter="url(#b9)" opacity="0.8"/>
<path d="M1300.0 790.0C1300.0 794.3 1298.9 799.1 1297.0 803.0C1295.1 806.9 1292.1 810.7 1288.7 813.5C1285.3 816.2 1280.9 818.3 1276.7 819.2C1272.4 820.2 1267.6 820.2 1263.3 819.2C1259.1 818.3 1254.7 816.2 1251.3 813.5C1247.9 810.7 1244.9 806.9 1243.0 803.0C1241.1 799.1 1240.0 794.3 1240.0 790.0C1240.0 785.7 1241.1 780.9 1243.0 777.0C1244.9 773.1 1247.9 769.3 1251.3 766.5C1254.7 763.8 1259.1 761.7 1263.3 760.8C1267.6 759.8 1272.4 759.8 1276.7 760.8C1280.9 761.7 1285.3 763.8 1288.7 766.5C1292.1 769.3 1295.1 773.1 1297.0 777.0C1298.9 780.9 1300.0 785.7 1300.0 790.0Z" fill="#6cff34" filter="url(#b9)" opacity="0.8"/>
<path d="M1021.0 541.0C1024.7 550.0 1038.5 577.0 1043.0 595.0C1047.5 613.0 1045.3 631.0 1048.0 649.0C1050.7 667.0 1055.0 689.5 1059.0 703.0C1063.0 716.5 1069.8 725.5 1072.0 730.0" fill="none" stroke="#6cff34" stroke-width="12" stroke-linecap="round" filter="url(#b5)" opacity="0.9"/>
<path d="M1156.0 501.0C1160.0 510.8 1173.2 541.8 1180.0 560.0C1186.8 578.2 1192.7 594.7 1197.0 610.0C1201.3 625.3 1204.5 645.0 1206.0 652.0" fill="none" stroke="#6cff34" stroke-width="32" stroke-linecap="round" filter="url(#b8)"/>
<path d="M1214.6 626.9C1215.8 631.4 1216.7 636.4 1217.0 640.6C1217.4 644.8 1217.3 649.1 1216.7 652.2C1216.1 655.4 1215.0 658.0 1213.7 659.4C1212.3 660.9 1210.4 661.4 1208.5 660.8C1206.6 660.3 1204.3 658.5 1202.2 656.1C1200.2 653.7 1198.0 650.0 1196.2 646.2C1194.3 642.4 1192.6 637.6 1191.4 633.1C1190.2 628.6 1189.3 623.6 1189.0 619.4C1188.6 615.2 1188.7 610.9 1189.3 607.8C1189.9 604.6 1191.0 602.0 1192.3 600.6C1193.7 599.1 1195.6 598.6 1197.5 599.2C1199.4 599.7 1201.7 601.5 1203.8 603.9C1205.8 606.3 1208.0 610.0 1209.8 613.8C1211.7 617.6 1213.4 622.4 1214.6 626.9Z" fill="#b4ea0a" filter="url(#b7)"/>
<path d="M960.0 235.0C990.0 222.7 1040.0 226.5 1080.0 226.0C1120.0 225.5 1160.0 226.0 1200.0 232.0C1240.0 238.0 1286.7 250.7 1320.0 262.0C1353.3 273.3 1398.3 290.7 1400.0 300.0C1401.7 309.3 1363.3 318.0 1330.0 318.0C1296.7 318.0 1241.7 303.0 1200.0 300.0C1158.3 297.0 1116.7 301.7 1080.0 300.0C1043.3 298.3 1010.0 290.0 980.0 290.0C950.0 290.0 903.3 309.2 900.0 300.0C896.7 290.8 930.0 247.3 960.0 235.0Z" fill="#44007f" filter="url(#b12)"/>
<path d="M700.0 400.0C725.0 375.0 766.7 341.7 800.0 320.0C833.3 298.3 878.3 273.3 900.0 270.0C921.7 266.7 941.7 285.0 930.0 300.0C918.3 315.0 861.7 336.7 830.0 360.0C798.3 383.3 765.0 413.3 740.0 440.0C715.0 466.7 696.7 500.0 680.0 520.0C663.3 540.0 645.0 568.3 640.0 560.0C635.0 551.7 640.0 496.7 650.0 470.0C660.0 443.3 675.0 425.0 700.0 400.0Z" fill="#44007f" filter="url(#b12)"/>
<path d="M545.0 700.0C551.7 681.7 578.8 680.0 590.0 690.0C601.2 700.0 607.8 731.7 612.0 760.0C616.2 788.3 617.0 830.0 615.0 860.0C613.0 890.0 607.5 933.3 600.0 940.0C592.5 946.7 578.3 923.3 570.0 900.0C561.7 876.7 554.2 833.3 550.0 800.0C545.8 766.7 538.3 718.3 545.0 700.0Z" fill="#44007f" filter="url(#b12)"/>
<path d="M625.0 900.0C634.2 890.0 670.8 890.0 690.0 900.0C709.2 910.0 726.7 940.0 740.0 960.0C753.3 980.0 771.7 1003.3 770.0 1020.0C768.3 1036.7 746.7 1060.0 730.0 1060.0C713.3 1060.0 685.8 1036.7 670.0 1020.0C654.2 1003.3 642.5 980.0 635.0 960.0C627.5 940.0 615.8 910.0 625.0 900.0Z" fill="#44007f" filter="url(#b12)"/>
<path d="M1570.0 560.0C1575.0 550.0 1600.8 576.7 1610.0 600.0C1619.2 623.3 1623.3 666.7 1625.0 700.0C1626.7 733.3 1625.8 773.3 1620.0 800.0C1614.2 826.7 1595.8 866.7 1590.0 860.0C1584.2 853.3 1586.7 793.3 1585.0 760.0C1583.3 726.7 1582.5 693.3 1580.0 660.0C1577.5 626.7 1565.0 570.0 1570.0 560.0Z" fill="#44007f" filter="url(#b12)"/>
<path d="M1380.0 1080.0C1403.3 1061.7 1436.7 1053.3 1460.0 1040.0C1483.3 1026.7 1508.3 996.7 1520.0 1000.0C1531.7 1003.3 1538.3 1038.3 1530.0 1060.0C1521.7 1081.7 1491.7 1110.0 1470.0 1130.0C1448.3 1150.0 1421.7 1168.3 1400.0 1180.0C1378.3 1191.7 1353.3 1205.0 1340.0 1200.0C1326.7 1195.0 1313.3 1170.0 1320.0 1150.0C1326.7 1130.0 1356.7 1098.3 1380.0 1080.0Z" fill="#44007f" filter="url(#b12)"/>
<path d="M1180.0 1290.0C1200.0 1275.8 1263.3 1258.3 1300.0 1250.0C1336.7 1241.7 1386.7 1233.3 1400.0 1240.0C1413.3 1246.7 1400.0 1276.7 1380.0 1290.0C1360.0 1303.3 1313.3 1312.5 1280.0 1320.0C1246.7 1327.5 1196.7 1340.0 1180.0 1335.0C1163.3 1330.0 1160.0 1304.2 1180.0 1290.0Z" fill="#44007f" filter="url(#b12)"/>
<path d="M760.0 1190.0C766.7 1185.0 806.7 1198.3 830.0 1210.0C853.3 1221.7 878.3 1246.7 900.0 1260.0C921.7 1273.3 953.3 1281.7 960.0 1290.0C966.7 1298.3 956.7 1311.7 940.0 1310.0C923.3 1308.3 885.0 1291.7 860.0 1280.0C835.0 1268.3 806.7 1255.0 790.0 1240.0C773.3 1225.0 753.3 1195.0 760.0 1190.0Z" fill="#44007f" filter="url(#b12)"/>
<g fill="none" stroke="#ece4f4" stroke-width="1.5" stroke-dasharray="2.6 5.6" opacity="0.62"><circle cx="1079" cy="783" r="541.9"/><circle cx="1079" cy="783" r="485.8"/><circle cx="1079" cy="783" r="396.7"/><circle cx="1079" cy="783" r="280.5"/><circle cx="1079" cy="783" r="145.2"/></g>
<g fill="none" stroke="#ece4f4" stroke-width="1.05" stroke-dasharray="5 5.5" opacity="0.6"><path d="M1079.0 771.0L1079.0 222.0"/><path d="M1085.0 772.6L1359.5 297.2"/><path d="M1089.4 777.0L1564.8 502.5"/><path d="M1091.0 783.0L1640.0 783.0"/><path d="M1089.4 789.0L1564.8 1063.5"/><path d="M1085.0 793.4L1359.5 1268.8"/><path d="M1079.0 795.0L1079.0 1344.0"/><path d="M1073.0 793.4L798.5 1268.8"/><path d="M1068.6 789.0L593.2 1063.5"/><path d="M1067.0 783.0L518.0 783.0"/><path d="M1068.6 777.0L593.2 502.5"/><path d="M1073.0 772.6L798.5 297.2"/></g>
<g stroke="#e8e8e8" stroke-width="0.8" opacity=".6"><path d="M1079.0 780.0L1079.0 772.0"/><path d="M1080.0 780.2L1082.8 772.7"/><path d="M1080.9 780.7L1086.1 774.6"/><path d="M1081.6 781.5L1088.5 777.5"/><path d="M1082.0 782.5L1089.8 781.1"/><path d="M1082.0 783.5L1089.8 784.9"/><path d="M1081.6 784.5L1088.5 788.5"/><path d="M1080.9 785.3L1086.1 791.4"/><path d="M1080.0 785.8L1082.8 793.3"/><path d="M1079.0 786.0L1079.0 794.0"/><path d="M1078.0 785.8L1075.2 793.3"/><path d="M1077.1 785.3L1071.9 791.4"/><path d="M1076.4 784.5L1069.5 788.5"/><path d="M1076.0 783.5L1068.2 784.9"/><path d="M1076.0 782.5L1068.2 781.1"/><path d="M1076.4 781.5L1069.5 777.5"/><path d="M1077.1 780.7L1071.9 774.6"/><path d="M1078.0 780.2L1075.2 772.7"/></g>
<path d="M1517.5 860.3L1518.7 855.8L1520.3 849.3L1522.0 842.0L1523.5 835.0L1524.7 828.6L1525.7 822.1L1526.6 815.7L1527.4 809.2L1528.0 802.7L1528.5 796.1L1528.9 789.6L1529.3 783.3L1529.9 777.2L1530.4 771.4L1530.9 765.6L1531.4 759.7L1531.9 753.8L1532.4 747.8L1532.7 741.8L1532.9 735.7L1533.0 729.7L1532.9 723.8L1532.6 717.7L1532.0 711.4L1531.1 704.9L1530.0 698.2L1528.7 691.5L1527.2 684.9L1525.6 678.4L1523.8 672.0L1521.9 665.6L1519.9 659.2L1517.7 652.9L1515.5 646.7L1513.1 640.5L1510.6 634.2L1507.8 627.6L1504.7 620.9L1501.6 614.2L1498.3 607.6L1494.9 601.2L1491.3 594.8L1487.7 588.5L1484.0 582.3L1480.2 576.0L1476.3 569.7L1472.5 563.5L1468.9 557.8L1465.6 552.5L1462.4 547.6L1459.4 542.8L1456.2 538.0L1452.9 533.1L1449.6 528.3L1446.2 523.5L1442.8 518.7L1439.3 514.0L1435.7 509.3L1432.1 504.6L1428.5 500.0L1424.8 495.4L1421.0 490.9L1417.2 486.4L1413.4 482.0L1409.5 477.6L1405.6 473.3L1401.6 469.1L1397.4 464.7L1392.9 460.2L1388.2 455.5L1383.5 450.9L1378.7 446.4L1373.9 441.9L1369.0 437.5L1364.1 433.2L1359.1 428.9L1354.0 424.7L1348.9 420.6L1343.7 416.5L1338.5 412.6L1333.2 408.6L1327.8 404.8L1322.4 401.1L1316.9 397.4L1311.4 393.9L1305.7 390.4L1300.0 387.0L1294.3 383.8L1288.5 380.7L1282.6 377.6L1276.7 374.7L1270.6 371.9L1264.5 369.2L1258.2 366.6L1251.9 364.2L1245.5 362.0L1239.0 360.1L1232.5 358.4L1225.9 356.9L1219.4 355.6L1212.1 354.3L1204.5 353.3L1197.7 352.4L1192.9 351.8L1192.8 352.4L1197.4 353.8L1204.0 355.7L1211.3 358.0L1218.2 360.2L1224.5 362.2L1230.7 364.4L1237.0 366.6L1243.2 368.8L1249.4 371.1L1255.5 373.5L1261.7 375.9L1267.7 378.4L1273.6 381.1L1279.4 384.0L1285.2 386.9L1290.9 389.9L1296.6 393.1L1302.2 396.4L1307.7 399.7L1313.2 403.2L1318.6 406.8L1324.0 410.4L1329.3 414.1L1334.5 418.0L1339.7 421.8L1344.8 425.8L1349.8 429.9L1354.8 434.0L1359.8 438.2L1364.7 442.4L1369.5 446.7L1374.3 451.1L1379.0 455.6L1383.7 460.1L1388.4 464.7L1392.8 469.2L1396.9 473.5L1400.9 477.7L1404.7 481.9L1408.6 486.2L1412.4 490.6L1416.1 495.0L1419.8 499.5L1423.5 504.0L1427.1 508.6L1430.6 513.2L1434.1 517.8L1437.6 522.5L1441.0 527.2L1444.3 532.0L1447.6 536.7L1450.8 541.6L1454.0 546.3L1457.0 551.0L1460.1 555.9L1463.4 561.2L1467.0 567.0L1470.7 573.1L1474.6 579.4L1478.3 585.7L1481.9 591.9L1485.4 598.1L1488.9 604.4L1492.2 610.7L1495.4 617.2L1498.4 623.8L1501.3 630.4L1504.1 636.9L1506.6 643.1L1508.9 649.2L1511.0 655.3L1513.1 661.4L1515.0 667.7L1516.9 674.0L1518.6 680.3L1520.2 686.6L1521.6 693.0L1522.9 699.5L1524.0 706.0L1524.8 712.2L1525.3 718.2L1525.7 724.0L1525.8 729.8L1525.8 735.6L1525.7 741.5L1525.4 747.4L1524.9 753.3L1524.5 759.2L1524.1 765.0L1523.6 770.8L1523.1 776.7L1522.7 782.7L1522.2 789.1L1521.7 795.6L1521.2 802.1L1520.7 808.6L1520.3 815.1L1519.9 821.5L1519.5 828.0L1519.1 834.4L1518.5 841.4L1517.9 848.9L1517.3 855.6L1516.9 860.2ZM1140.7 344.0L1135.2 343.0L1127.3 341.5L1118.5 340.0L1110.1 338.7L1102.4 337.5L1094.7 336.5L1086.9 335.7L1079.0 335.3L1071.1 335.3L1063.3 335.8L1055.5 336.4L1047.8 337.0L1040.0 337.5L1032.0 338.0L1024.3 338.5L1017.0 338.7L1010.4 338.6L1004.2 338.4L998.1 338.0L991.7 337.8L985.2 337.6L978.6 337.5L971.9 337.4L965.2 337.6L957.9 338.2L950.2 339.0L943.4 339.8L938.7 340.4L938.7 341.0L943.5 341.1L950.3 341.2L958.0 341.4L965.2 341.8L971.7 342.4L978.2 343.2L984.8 344.1L991.3 344.7L997.6 345.2L1003.8 345.6L1010.2 345.9L1017.1 346.0L1024.6 345.8L1032.5 345.4L1040.4 344.9L1048.3 344.4L1056.1 343.9L1063.8 343.4L1071.4 343.0L1079.0 342.7L1086.6 342.8L1094.2 342.9L1101.9 343.2L1109.7 343.5L1118.1 343.8L1127.1 344.1L1135.1 344.4L1140.6 344.6ZM883.6 355.3L878.7 356.9L871.6 359.2L863.7 361.9L856.3 364.7L849.7 367.5L843.1 370.5L836.5 373.7L830.1 377.1L823.8 380.8L817.6 384.8L811.6 388.9L805.8 392.9L800.4 396.9L795.3 400.9L790.4 405.0L785.5 409.1L780.6 413.4L775.8 417.8L771.1 422.3L766.5 426.9L762.0 431.5L757.5 436.2L753.2 441.0L748.9 445.9L744.7 450.8L740.7 455.8L736.7 460.9L732.7 466.0L728.9 471.1L725.1 476.4L721.5 481.6L717.9 486.9L714.3 492.2L710.9 497.6L707.5 503.0L704.2 508.5L701.0 513.9L697.8 519.4L694.7 525.0L691.7 530.5L688.7 536.1L685.7 541.7L682.8 547.3L680.1 553.0L677.6 558.6L675.2 564.2L673.0 569.8L670.9 575.4L668.7 581.0L666.7 586.6L664.7 592.3L662.7 598.0L660.9 603.7L659.1 609.4L657.4 615.1L655.7 620.8L654.1 626.6L652.6 632.3L651.2 638.1L649.8 643.8L648.5 649.6L647.2 655.4L646.1 661.2L645.0 667.0L644.0 672.8L643.1 678.7L642.3 684.5L641.5 690.3L640.9 696.2L640.3 702.0L639.8 707.9L639.4 713.7L639.0 719.5L638.7 725.3L638.4 731.1L638.2 736.9L638.1 742.7L637.9 748.5L637.8 754.3L637.7 760.0L637.6 765.7L637.6 771.3L637.5 777.1L637.5 783.0L637.5 789.2L637.6 795.6L637.6 802.1L637.8 808.6L638.0 815.0L638.3 821.4L638.6 827.8L639.0 834.3L639.4 840.7L640.0 847.1L640.6 853.5L641.2 860.0L642.0 866.4L642.8 872.8L643.7 879.2L644.6 885.7L645.7 892.1L646.8 898.5L648.0 904.9L649.2 911.4L650.6 917.8L652.0 924.3L653.5 930.7L655.2 937.0L657.0 943.0L659.0 948.8L661.1 954.6L663.3 960.4L665.8 966.7L668.5 973.3L671.0 979.2L672.7 983.3L673.3 983.1L672.1 978.8L670.3 972.7L668.4 965.8L666.7 959.3L665.2 953.3L663.7 947.4L662.3 941.5L660.9 935.5L659.4 929.3L658.0 922.9L656.6 916.5L655.3 910.1L654.1 903.8L653.0 897.4L652.0 891.1L651.0 884.7L650.2 878.3L649.3 872.0L648.6 865.6L647.9 859.2L647.3 852.9L646.8 846.5L646.3 840.2L645.8 833.8L645.5 827.5L645.2 821.1L644.9 814.8L644.7 808.4L644.6 802.0L644.5 795.6L644.5 789.2L644.5 783.0L644.5 777.1L644.6 771.4L644.6 765.8L644.7 760.1L644.8 754.4L644.9 748.6L645.0 742.9L645.2 737.2L645.4 731.4L645.6 725.6L645.9 719.9L646.2 714.1L646.6 708.4L647.1 702.6L647.6 696.9L648.2 691.1L648.9 685.4L649.6 679.6L650.5 673.9L651.4 668.1L652.4 662.4L653.5 656.7L654.7 650.9L655.9 645.2L657.2 639.5L658.5 633.8L660.0 628.1L661.5 622.4L663.0 616.7L664.6 611.1L666.3 605.4L668.1 599.7L669.9 594.1L671.8 588.5L673.8 582.8L675.8 577.2L677.9 571.7L680.0 566.1L682.3 560.6L684.6 555.0L687.2 549.5L690.0 543.9L692.9 538.3L695.9 532.8L698.8 527.2L701.8 521.7L704.9 516.2L708.1 510.8L711.3 505.3L714.6 500.0L718.0 494.6L721.5 489.3L725.0 484.0L728.6 478.8L732.3 473.6L736.1 468.5L740.0 463.4L743.9 458.4L747.9 453.5L752.1 448.6L756.3 443.8L760.6 439.0L765.0 434.4L769.4 429.8L774.0 425.3L778.7 420.9L783.4 416.6L788.2 412.3L793.1 408.3L798.0 404.3L803.1 400.4L808.4 396.5L814.1 392.6L820.1 388.6L826.3 384.8L832.4 381.1L838.6 377.5L844.9 374.1L851.2 370.8L857.6 367.6L864.7 364.3L872.3 360.9L879.1 358.0L883.8 355.9ZM692.1 1029.4L694.0 1033.6L696.7 1039.5L699.7 1046.2L702.8 1052.4L705.7 1058.1L708.7 1063.7L711.9 1069.2L715.1 1074.7L718.5 1080.2L722.1 1085.5L725.7 1090.8L729.5 1096.0L733.3 1101.3L737.1 1106.4L741.1 1111.5L745.1 1116.6L749.3 1121.6L753.4 1126.5L757.7 1131.4L762.0 1136.3L766.4 1141.1L770.9 1145.8L775.4 1150.5L780.0 1155.2L784.7 1159.8L789.4 1164.3L794.2 1168.8L799.1 1173.2L804.1 1177.6L809.1 1181.9L814.2 1186.1L819.3 1190.2L824.5 1194.3L829.8 1198.3L835.2 1202.3L840.6 1206.1L846.1 1209.9L851.6 1213.6L857.2 1217.2L862.9 1220.8L868.6 1224.2L874.4 1227.6L880.3 1230.8L886.2 1234.0L892.1 1237.1L898.1 1240.0L904.1 1242.9L910.4 1245.8L916.8 1248.7L923.4 1251.5L930.1 1254.4L936.9 1257.1L943.6 1259.6L950.4 1262.1L957.3 1264.4L964.2 1266.6L971.1 1268.7L978.1 1270.7L985.2 1272.5L992.2 1274.2L999.3 1275.8L1006.5 1277.3L1013.6 1278.6L1020.8 1279.8L1028.0 1280.8L1035.3 1281.7L1042.6 1282.5L1049.8 1283.1L1057.1 1283.5L1064.4 1283.8L1071.7 1284.0L1079.0 1284.0L1086.3 1283.8L1093.6 1283.5L1100.9 1282.9L1108.2 1282.3L1115.5 1281.4L1122.7 1280.4L1129.9 1279.3L1137.1 1278.0L1144.2 1276.6L1151.3 1275.0L1158.4 1273.3L1165.4 1271.5L1172.4 1269.6L1179.3 1267.5L1186.2 1265.4L1193.0 1263.1L1199.8 1260.8L1206.6 1258.3L1213.3 1255.8L1219.9 1253.1L1226.6 1250.2L1233.2 1247.2L1239.6 1244.1L1245.8 1241.0L1252.2 1237.6L1258.6 1233.9L1264.2 1230.6L1268.0 1228.3L1267.8 1227.8L1263.7 1229.7L1257.8 1232.5L1251.2 1235.5L1244.6 1238.4L1238.2 1240.9L1231.6 1243.4L1224.8 1245.9L1218.1 1248.4L1211.4 1250.8L1204.8 1253.3L1198.1 1255.6L1191.3 1257.9L1184.5 1260.1L1177.7 1262.1L1170.8 1264.1L1163.9 1266.0L1157.0 1267.7L1150.0 1269.4L1143.0 1270.9L1136.0 1272.2L1128.9 1273.5L1121.8 1274.6L1114.7 1275.5L1107.6 1276.4L1100.5 1277.0L1093.3 1277.5L1086.1 1277.8L1079.0 1278.0L1071.8 1278.0L1064.6 1277.9L1057.4 1277.6L1050.3 1277.2L1043.1 1276.6L1036.0 1275.9L1028.8 1275.0L1021.7 1274.0L1014.6 1272.9L1007.6 1271.6L1000.5 1270.2L993.5 1268.7L986.5 1267.0L979.6 1265.2L972.7 1263.3L965.8 1261.3L959.0 1259.2L952.2 1256.9L945.5 1254.6L938.8 1252.1L932.1 1249.5L925.4 1246.8L918.9 1243.9L912.5 1241.1L906.3 1238.3L900.2 1235.5L894.3 1232.7L888.4 1229.7L882.6 1226.6L876.8 1223.4L871.0 1220.2L865.3 1216.8L859.7 1213.4L854.1 1209.8L848.6 1206.2L843.1 1202.5L837.7 1198.7L832.4 1194.8L827.1 1190.9L821.9 1186.9L816.8 1182.8L811.8 1178.7L806.8 1174.4L801.8 1170.2L797.0 1165.8L792.2 1161.4L787.5 1156.9L782.8 1152.4L778.2 1147.8L773.7 1143.1L769.3 1138.4L764.9 1133.6L760.6 1128.8L756.4 1124.0L752.2 1119.1L748.2 1114.1L744.2 1109.1L740.3 1104.0L736.4 1098.9L732.7 1093.8L729.0 1088.5L725.5 1083.2L722.0 1077.9L718.6 1072.6L715.2 1067.2L711.8 1061.9L708.5 1056.5L705.2 1051.1L701.7 1045.1L698.1 1038.8L694.9 1033.1L692.7 1029.1ZM1331.4 1186.8L1334.9 1184.2L1340.1 1180.5L1345.9 1176.3L1351.4 1171.9L1356.6 1167.6L1361.8 1163.0L1367.1 1158.3L1372.2 1153.6L1377.2 1148.9L1382.1 1144.1L1387.0 1139.3L1392.0 1134.6L1397.0 1130.0L1402.2 1125.3L1407.3 1120.7L1412.2 1116.3L1417.0 1112.1L1421.6 1108.0L1426.1 1104.0L1430.8 1099.9L1435.4 1095.8L1440.1 1091.6L1444.8 1087.5L1449.4 1083.2L1454.1 1078.9L1458.7 1074.6L1463.3 1070.3L1467.9 1065.8L1472.5 1061.3L1477.0 1056.8L1481.4 1052.2L1485.8 1047.4L1490.1 1042.7L1494.4 1037.8L1498.5 1032.8L1502.6 1027.8L1506.7 1022.8L1510.7 1017.6L1514.6 1012.4L1518.5 1007.2L1522.4 1001.9L1526.2 996.5L1530.0 991.1L1533.7 985.7L1537.3 980.1L1540.8 974.5L1544.3 968.9L1547.7 963.2L1551.0 957.4L1554.2 951.5L1557.4 945.6L1560.4 939.6L1563.2 933.6L1566.0 927.4L1568.6 921.3L1571.2 915.1L1573.6 908.8L1575.8 902.4L1578.0 896.1L1580.0 889.7L1582.0 883.2L1583.8 876.7L1585.5 870.2L1587.1 863.6L1588.6 857.0L1590.0 850.4L1591.3 843.7L1592.4 837.1L1593.4 830.4L1594.3 823.6L1595.1 816.9L1595.7 810.2L1596.3 803.4L1596.7 796.8L1597.0 790.0L1597.1 783.0L1597.1 775.8L1597.0 768.3L1596.7 760.8L1596.3 753.3L1595.8 745.9L1595.1 738.5L1594.3 731.1L1593.4 723.7L1592.4 716.4L1591.2 709.0L1590.0 701.7L1588.6 694.4L1587.1 687.1L1585.4 679.9L1583.7 672.7L1581.9 665.5L1579.9 658.4L1577.9 651.3L1575.7 644.2L1573.5 637.1L1571.1 630.1L1568.7 623.2L1566.1 616.2L1563.5 609.3L1560.8 602.4L1558.0 595.6L1555.1 588.8L1552.1 582.1L1549.0 575.7L1545.9 569.4L1542.6 563.2L1539.2 557.1L1535.4 550.4L1531.2 543.5L1527.4 537.3L1524.7 533.0L1524.2 533.3L1526.5 537.8L1529.9 544.2L1533.6 551.4L1537.0 558.3L1539.9 564.6L1542.8 570.9L1545.6 577.3L1548.5 583.8L1551.3 590.4L1554.2 597.1L1557.0 604.0L1559.7 610.8L1562.3 617.6L1564.8 624.5L1567.3 631.5L1569.6 638.4L1571.8 645.4L1573.9 652.4L1575.9 659.5L1577.9 666.6L1579.7 673.7L1581.4 680.8L1583.0 688.0L1584.5 695.2L1585.8 702.4L1587.1 709.7L1588.2 717.0L1589.3 724.3L1590.2 731.6L1590.9 738.9L1591.6 746.2L1592.1 753.6L1592.5 761.0L1592.8 768.4L1592.9 775.8L1592.9 783.0L1592.7 789.9L1592.5 796.6L1592.1 803.2L1591.6 809.8L1591.0 816.5L1590.2 823.1L1589.4 829.8L1588.4 836.4L1587.4 843.1L1586.2 849.7L1584.9 856.2L1583.5 862.8L1582.0 869.3L1580.4 875.8L1578.6 882.2L1576.8 888.7L1574.8 895.0L1572.7 901.4L1570.5 907.7L1568.2 913.9L1565.8 920.1L1563.2 926.2L1560.5 932.3L1557.7 938.3L1554.8 944.3L1551.7 950.2L1548.5 956.0L1545.3 961.8L1541.9 967.4L1538.5 973.1L1535.0 978.7L1531.4 984.2L1527.7 989.6L1524.0 995.0L1520.2 1000.3L1516.4 1005.6L1512.5 1010.8L1508.6 1016.0L1504.6 1021.1L1500.6 1026.2L1496.5 1031.1L1492.4 1036.1L1488.2 1040.9L1483.9 1045.7L1479.5 1050.4L1475.1 1055.0L1470.6 1059.5L1466.1 1064.0L1461.5 1068.4L1456.9 1072.7L1452.3 1077.0L1447.7 1081.3L1443.0 1085.5L1438.3 1089.7L1433.7 1093.8L1429.0 1098.0L1424.4 1102.0L1419.8 1106.1L1415.2 1110.1L1410.5 1114.4L1405.5 1118.8L1400.4 1123.4L1395.2 1128.0L1390.2 1132.7L1385.2 1137.4L1380.2 1142.2L1375.3 1146.9L1370.4 1151.7L1365.4 1156.5L1360.3 1161.4L1355.3 1166.1L1350.3 1170.6L1345.0 1175.1L1339.4 1179.6L1334.5 1183.6L1331.0 1186.3ZM1493.6 486.5L1490.7 482.4L1486.4 476.6L1481.6 470.1L1477.0 464.0L1472.6 458.5L1468.2 453.1L1463.6 447.7L1459.0 442.5L1454.3 437.4L1449.5 432.4L1444.6 427.4L1439.5 422.4L1434.3 417.4L1429.0 412.4L1423.6 407.4L1418.1 402.5L1412.6 397.8L1407.0 393.0L1401.4 388.4L1395.7 383.9L1389.9 379.4L1384.1 375.0L1378.2 370.7L1372.2 366.4L1366.2 362.3L1360.2 358.2L1354.0 354.2L1347.9 350.3L1341.6 346.5L1335.4 342.8L1329.0 339.2L1322.6 335.6L1316.2 332.2L1309.7 328.8L1303.2 325.5L1296.6 322.3L1290.0 319.3L1283.5 316.3L1276.8 313.4L1269.9 310.5L1262.8 307.7L1255.5 304.9L1248.2 302.2L1240.8 299.5L1233.4 297.0L1226.0 294.7L1218.5 292.4L1211.1 290.2L1203.6 288.1L1196.0 286.1L1188.4 284.3L1180.8 282.5L1173.1 280.9L1165.3 279.4L1157.6 278.0L1150.2 276.6L1143.4 275.3L1136.8 274.1L1130.3 273.0L1123.8 272.0L1116.5 271.0L1108.7 270.2L1101.8 269.5L1097.0 269.0L1096.9 269.6L1101.7 270.3L1108.6 271.3L1116.3 272.5L1123.5 273.7L1130.0 275.0L1136.3 276.4L1142.8 277.9L1149.7 279.3L1157.1 280.8L1164.8 282.2L1172.6 283.7L1180.2 285.3L1187.8 287.1L1195.3 288.9L1202.8 290.9L1210.3 293.0L1217.7 295.2L1225.1 297.5L1232.5 299.9L1239.8 302.4L1247.1 305.0L1254.4 307.8L1261.7 310.6L1268.7 313.4L1275.5 316.3L1282.2 319.2L1288.7 322.2L1295.2 325.3L1301.7 328.5L1308.2 331.7L1314.6 335.1L1321.0 338.6L1327.3 342.1L1333.6 345.8L1339.8 349.5L1346.0 353.3L1352.1 357.2L1358.2 361.2L1364.2 365.3L1370.1 369.4L1376.0 373.6L1381.9 377.9L1387.7 382.3L1393.4 386.8L1399.0 391.3L1404.6 395.9L1410.2 400.6L1415.6 405.4L1421.1 410.2L1426.4 415.2L1431.7 420.2L1436.9 425.1L1441.9 430.1L1446.7 435.1L1451.5 440.0L1456.3 445.1L1461.0 450.1L1465.8 455.2L1470.5 460.3L1475.1 465.5L1480.1 471.3L1485.3 477.5L1489.9 483.0L1493.1 486.8ZM826.5 502.6L823.2 506.0L818.3 510.7L813.0 516.2L808.1 521.4L803.7 526.5L799.4 531.7L795.3 536.9L791.4 541.8L788.0 546.4L784.8 550.9L781.8 555.2L778.9 559.7L775.9 564.2L773.0 568.9L770.2 573.5L767.5 578.2L764.9 583.0L762.3 587.9L759.8 592.7L757.4 597.4L755.1 601.9L753.0 606.2L751.0 610.6L749.0 614.9L747.1 619.4L745.2 623.9L743.4 628.4L741.7 632.9L740.0 637.4L738.4 642.0L736.8 646.6L735.3 651.1L733.9 655.7L732.5 660.4L731.1 665.0L729.8 669.6L728.6 674.3L727.4 678.9L726.2 683.6L725.1 688.2L724.1 692.9L723.1 697.6L722.2 702.3L721.4 707.0L720.6 711.8L719.9 716.5L719.2 721.2L718.6 726.0L718.1 730.7L717.6 735.5L717.1 740.2L716.7 744.9L716.3 749.7L715.9 754.4L715.6 759.2L715.2 763.9L714.9 768.6L714.6 773.3L714.4 778.0L714.2 782.9L714.0 788.1L713.9 793.4L713.8 798.8L713.8 804.2L713.8 809.5L713.9 814.9L714.1 820.2L714.3 825.5L714.6 830.9L714.9 836.2L715.3 841.6L715.8 846.9L716.2 852.3L716.8 857.7L717.4 863.0L718.1 868.4L718.8 873.8L719.5 879.2L720.3 884.5L721.2 889.9L722.1 895.4L723.1 900.8L724.1 906.2L725.2 911.6L726.4 916.7L727.7 921.7L729.0 926.7L730.3 931.7L731.7 936.7L733.1 941.8L734.6 946.8L736.1 951.8L737.7 956.9L739.4 961.9L741.1 966.9L742.8 972.0L744.7 977.0L746.6 982.0L748.5 987.0L750.6 991.9L752.7 996.9L754.8 1001.9L757.1 1006.8L759.4 1011.7L761.8 1016.6L764.3 1021.5L766.8 1026.3L769.5 1031.1L772.2 1035.9L775.0 1040.6L777.8 1045.3L780.8 1050.0L784.0 1054.5L787.2 1059.0L790.6 1063.5L794.0 1067.8L797.8 1072.6L802.0 1077.5L805.8 1081.8L808.4 1084.8L808.8 1084.4L806.4 1081.3L802.9 1076.7L799.1 1071.6L795.5 1066.7L792.4 1062.1L789.3 1057.6L786.3 1053.0L783.3 1048.4L780.4 1043.7L777.5 1039.1L774.8 1034.4L772.0 1029.7L769.4 1024.9L766.9 1020.1L764.4 1015.3L762.0 1010.4L759.7 1005.6L757.5 1000.7L755.3 995.8L753.2 990.8L751.2 985.9L749.3 980.9L747.4 976.0L745.6 971.0L743.8 966.0L742.1 961.0L740.5 956.0L738.9 951.0L737.3 946.0L735.9 941.0L734.4 936.0L733.1 930.9L731.7 926.0L730.4 921.0L729.2 916.0L728.0 911.0L726.9 905.7L725.9 900.3L724.9 894.9L724.0 889.5L723.1 884.1L722.3 878.7L721.5 873.4L720.8 868.0L720.1 862.7L719.5 857.4L719.0 852.0L718.5 846.7L718.0 841.4L717.6 836.0L717.3 830.7L717.0 825.4L716.8 820.1L716.6 814.8L716.5 809.5L716.5 804.2L716.5 798.8L716.6 793.5L716.7 788.2L716.8 783.1L717.1 778.2L717.3 773.4L717.6 768.8L717.9 764.1L718.2 759.4L718.6 754.6L718.9 749.9L719.3 745.2L719.8 740.4L720.2 735.7L720.7 731.0L721.3 726.3L721.9 721.6L722.5 716.9L723.2 712.2L724.0 707.5L724.9 702.8L725.8 698.1L726.7 693.5L727.7 688.8L728.8 684.2L730.0 679.6L731.2 674.9L732.4 670.3L733.7 665.7L735.0 661.1L736.4 656.5L737.8 652.0L739.3 647.4L740.9 642.9L742.5 638.3L744.1 633.8L745.9 629.3L747.7 624.9L749.5 620.4L751.4 616.0L753.4 611.7L755.4 607.4L757.5 603.1L759.8 598.6L762.1 593.9L764.6 589.1L767.2 584.3L769.8 579.5L772.5 574.9L775.3 570.2L778.2 565.7L781.1 561.1L784.0 556.7L787.0 552.4L790.2 548.0L793.6 543.4L797.2 538.4L801.1 533.1L805.2 527.7L809.4 522.5L814.0 517.1L819.1 511.5L823.7 506.5L827.0 503.0ZM839.3 1117.5L842.2 1120.3L846.4 1124.4L851.2 1128.9L855.8 1133.2L860.1 1136.9L864.4 1140.6L868.9 1144.3L873.4 1147.8L878.1 1151.2L882.8 1154.5L887.6 1157.7L892.4 1160.9L897.3 1163.9L902.3 1166.9L907.3 1169.9L912.4 1172.7L917.5 1175.4L922.6 1178.1L927.8 1180.6L933.1 1183.2L938.7 1185.8L944.3 1188.4L950.1 1191.0L955.9 1193.5L961.7 1195.8L967.6 1198.0L973.5 1200.2L979.5 1202.2L985.5 1204.2L991.5 1206.0L997.6 1207.7L1003.7 1209.2L1009.8 1210.7L1016.0 1212.0L1022.3 1213.2L1028.5 1214.3L1034.8 1215.2L1041.1 1215.9L1047.4 1216.6L1053.7 1217.0L1060.0 1217.3L1066.4 1217.5L1072.8 1217.5L1079.1 1217.3L1085.4 1216.9L1091.8 1216.4L1098.1 1215.7L1104.4 1214.8L1110.6 1213.8L1116.9 1212.6L1123.0 1211.2L1129.2 1209.8L1135.3 1208.2L1141.4 1206.4L1147.4 1204.5L1153.4 1202.6L1159.3 1200.5L1165.2 1198.3L1171.0 1196.0L1176.7 1193.7L1182.5 1191.2L1188.1 1188.7L1193.8 1186.1L1199.3 1183.5L1204.9 1180.9L1210.5 1178.1L1216.0 1175.3L1221.2 1172.5L1226.2 1169.6L1230.9 1166.7L1235.4 1163.7L1239.9 1160.7L1244.4 1157.5L1248.9 1154.3L1253.2 1151.1L1257.6 1147.8L1261.8 1144.4L1266.0 1141.1L1270.2 1137.6L1274.3 1134.2L1278.3 1130.7L1282.4 1127.2L1286.3 1123.7L1290.2 1120.2L1294.1 1116.8L1298.0 1113.3L1301.8 1109.8L1305.7 1106.0L1309.6 1101.7L1313.5 1097.3L1317.3 1092.8L1321.1 1088.4L1324.8 1084.1L1328.5 1079.7L1332.2 1075.5L1336.0 1071.6L1340.0 1067.8L1344.2 1064.1L1348.5 1060.5L1352.7 1057.2L1356.9 1054.0L1361.0 1051.0L1365.1 1048.1L1369.3 1045.2L1373.7 1042.2L1378.1 1039.3L1382.6 1036.4L1387.1 1033.4L1391.7 1030.4L1396.3 1027.4L1400.9 1024.4L1405.6 1021.3L1410.3 1018.1L1415.0 1014.9L1419.7 1011.6L1424.3 1008.2L1428.8 1004.8L1433.2 1001.3L1437.7 997.7L1442.5 993.9L1447.7 989.8L1453.3 985.5L1458.9 981.0L1464.6 976.4L1470.2 971.8L1475.9 967.2L1481.6 962.4L1487.1 957.4L1492.6 952.3L1498.0 947.1L1503.3 941.7L1508.3 936.1L1513.1 930.2L1517.7 924.2L1521.9 918.0L1525.7 911.8L1528.9 905.6L1531.5 899.5L1533.7 893.3L1535.7 887.0L1537.6 880.0L1539.3 872.6L1540.7 865.9L1541.6 861.3L1541.0 861.1L1539.4 865.6L1537.1 871.9L1534.4 879.0L1531.7 885.6L1529.2 891.5L1526.5 897.3L1523.7 903.1L1520.5 908.9L1516.9 914.8L1512.8 920.8L1508.5 926.7L1504.0 932.5L1499.2 937.9L1494.2 943.3L1488.9 948.5L1483.5 953.5L1478.1 958.4L1472.5 963.2L1466.9 967.8L1461.3 972.4L1455.7 977.0L1450.1 981.5L1444.7 985.9L1439.5 990.1L1434.7 994.0L1430.2 997.6L1425.9 1001.0L1421.5 1004.4L1416.9 1007.8L1412.3 1011.1L1407.6 1014.3L1403.0 1017.4L1398.4 1020.5L1393.7 1023.5L1389.1 1026.5L1384.5 1029.5L1380.0 1032.4L1375.5 1035.4L1371.0 1038.3L1366.6 1041.2L1362.4 1044.2L1358.2 1047.1L1354.0 1050.1L1349.7 1053.3L1345.4 1056.7L1341.0 1060.3L1336.7 1064.1L1332.5 1068.0L1328.5 1072.1L1324.7 1076.4L1321.0 1080.8L1317.2 1085.1L1313.4 1089.5L1309.6 1093.9L1305.7 1098.2L1302.0 1102.3L1298.2 1105.9L1294.4 1109.3L1290.5 1112.7L1286.6 1116.1L1282.6 1119.5L1278.7 1123.0L1274.7 1126.5L1270.7 1129.9L1266.6 1133.3L1262.5 1136.7L1258.3 1140.0L1254.1 1143.3L1249.8 1146.6L1245.5 1149.8L1241.2 1153.0L1236.8 1156.1L1232.3 1159.1L1227.9 1162.1L1223.3 1165.0L1218.6 1167.8L1213.5 1170.6L1208.1 1173.4L1202.6 1176.2L1197.1 1178.9L1191.6 1181.5L1186.1 1184.1L1180.5 1186.7L1174.8 1189.1L1169.2 1191.5L1163.4 1193.8L1157.6 1196.0L1151.8 1198.1L1145.9 1200.0L1140.0 1201.9L1134.0 1203.7L1128.0 1205.3L1122.0 1206.7L1115.9 1208.1L1109.8 1209.3L1103.7 1210.3L1097.5 1211.1L1091.3 1211.8L1085.1 1212.3L1078.9 1212.7L1072.7 1212.9L1066.5 1212.9L1060.2 1212.7L1054.0 1212.4L1047.8 1212.0L1041.6 1211.4L1035.4 1210.6L1029.2 1209.8L1023.1 1208.7L1016.9 1207.6L1010.8 1206.3L1004.7 1204.9L998.7 1203.4L992.7 1201.8L986.7 1200.0L980.8 1198.1L974.9 1196.2L969.1 1194.1L963.2 1191.9L957.5 1189.6L951.7 1187.3L946.0 1184.8L940.3 1182.2L934.8 1179.6L929.5 1177.1L924.3 1174.6L919.2 1172.0L914.2 1169.4L909.2 1166.6L904.2 1163.8L899.3 1160.8L894.4 1157.8L889.6 1154.7L884.8 1151.5L880.1 1148.3L875.5 1145.0L870.8 1141.7L866.2 1138.3L861.7 1134.9L857.2 1131.5L852.3 1127.6L847.3 1123.4L842.8 1119.7L839.7 1117.0ZM1549.7 809.3L1550.4 804.6L1551.5 797.9L1552.6 790.4L1553.5 783.1L1554.0 776.3L1554.4 769.5L1554.7 762.6L1554.7 755.8L1554.5 748.9L1554.0 742.1L1553.4 735.3L1552.7 728.5L1552.0 721.7L1551.1 714.9L1550.1 708.1L1549.0 701.4L1547.8 694.6L1546.5 687.9L1545.1 681.2L1543.6 674.5L1541.9 667.9L1540.2 661.3L1538.4 654.7L1536.5 648.1L1534.5 641.6L1532.3 635.1L1530.1 628.6L1527.8 622.1L1525.4 615.7L1522.9 609.3L1520.3 603.0L1517.7 596.8L1515.0 590.7L1512.3 584.8L1509.5 578.9L1506.6 573.1L1503.6 567.3L1500.5 561.5L1497.4 555.8L1494.2 550.1L1490.8 544.5L1487.4 538.9L1484.0 533.4L1480.4 527.9L1476.8 522.5L1473.1 517.1L1469.3 511.8L1465.4 506.6L1461.5 501.4L1457.5 496.2L1453.4 491.1L1449.3 486.1L1445.1 481.1L1440.8 476.2L1436.4 471.4L1432.0 466.6L1427.5 461.9L1423.0 457.3L1418.4 452.7L1413.7 448.2L1408.9 443.6L1403.9 439.1L1398.9 434.6L1393.8 430.2L1388.6 425.9L1383.4 421.6L1378.2 417.5L1372.8 413.5L1367.3 409.7L1361.7 406.0L1356.0 402.5L1350.2 399.1L1343.8 395.6L1337.0 392.0L1330.9 388.9L1326.6 386.8L1326.3 387.3L1330.2 390.1L1335.7 394.1L1341.9 398.6L1347.8 402.9L1353.0 406.8L1358.3 410.9L1363.5 414.9L1368.7 419.0L1373.9 423.1L1379.1 427.1L1384.2 431.2L1389.3 435.4L1394.3 439.8L1399.3 444.2L1404.2 448.6L1409.0 453.1L1413.6 457.6L1418.2 462.1L1422.6 466.7L1427.0 471.3L1431.4 476.0L1435.7 480.8L1439.9 485.6L1444.0 490.5L1448.1 495.4L1452.1 500.4L1456.1 505.5L1459.9 510.6L1463.7 515.8L1467.4 521.1L1471.1 526.4L1474.6 531.7L1478.1 537.1L1481.5 542.6L1484.9 548.1L1488.1 553.6L1491.3 559.2L1494.4 564.8L1497.4 570.5L1500.3 576.3L1503.1 582.0L1505.8 587.8L1508.5 593.6L1511.1 599.6L1513.7 605.7L1516.2 612.0L1518.7 618.3L1521.0 624.6L1523.2 631.0L1525.4 637.4L1527.5 643.8L1529.4 650.2L1531.3 656.7L1533.1 663.2L1534.7 669.7L1536.3 676.2L1537.8 682.8L1539.1 689.4L1540.4 696.0L1541.6 702.6L1542.6 709.2L1543.6 715.9L1544.4 722.6L1545.2 729.3L1545.8 735.9L1546.3 742.6L1546.7 749.4L1547.1 756.1L1547.5 762.8L1547.9 769.5L1548.2 776.2L1548.5 782.9L1548.7 790.1L1548.9 797.8L1549.0 804.5L1549.1 809.3ZM1279.4 362.8L1275.2 360.6L1269.1 357.5L1262.3 354.0L1255.7 350.9L1249.7 348.3L1243.7 345.8L1237.6 343.3L1231.1 341.1L1224.1 338.9L1216.9 336.9L1209.5 335.0L1202.2 333.2L1195.0 331.5L1187.7 329.9L1180.4 328.3L1173.1 326.9L1165.9 325.5L1158.6 324.3L1151.3 323.2L1143.6 322.3L1135.7 321.6L1127.5 321.2L1119.4 320.8L1111.3 320.5L1103.1 320.1L1094.7 319.7L1086.7 319.3L1079.3 318.8L1072.8 318.1L1066.8 317.4L1061.1 316.6L1055.1 315.8L1049.0 314.9L1042.8 314.0L1036.5 313.1L1030.2 312.2L1024.0 311.5L1018.0 310.9L1011.7 310.2L1004.7 309.5L996.6 308.6L987.7 307.7L978.5 306.8L969.3 306.2L959.5 306.0L949.1 306.1L939.9 306.3L933.4 306.5L933.4 307.1L939.8 307.3L949.1 307.5L959.4 308.0L969.1 308.7L978.1 309.9L987.2 311.4L996.0 312.9L1004.1 314.2L1011.1 315.2L1017.4 316.0L1023.4 316.7L1029.4 317.6L1035.7 318.6L1041.9 319.6L1048.0 320.7L1054.2 321.7L1060.2 322.7L1065.9 323.6L1072.0 324.5L1078.7 325.2L1086.3 325.8L1094.4 326.2L1102.7 326.6L1111.0 327.0L1119.1 327.4L1127.2 327.7L1135.2 328.1L1143.0 328.7L1150.4 329.6L1157.6 330.7L1164.7 332.0L1171.9 333.3L1179.1 334.8L1186.3 336.3L1193.5 338.0L1200.6 339.7L1207.9 341.6L1215.1 343.5L1222.2 345.5L1229.1 347.5L1235.5 349.4L1241.8 351.3L1247.9 353.1L1254.1 355.1L1261.0 357.3L1268.2 359.7L1274.7 361.8L1279.2 363.3ZM858.0 329.8L853.6 331.7L847.3 334.3L840.3 337.4L833.7 340.4L827.8 343.4L821.9 346.4L816.0 349.6L810.3 353.0L804.7 356.5L799.2 360.2L793.8 364.0L788.4 368.0L782.9 372.1L777.5 376.4L772.1 380.8L766.8 385.3L761.6 389.9L756.5 394.5L751.5 399.3L746.6 404.2L741.8 409.1L737.1 414.1L732.5 419.2L727.9 424.4L723.5 429.6L719.1 434.9L714.9 440.3L710.7 445.7L706.6 451.2L702.6 456.7L698.7 462.3L694.8 467.9L691.1 473.6L687.4 479.3L683.8 485.1L680.2 490.8L676.8 496.6L673.4 502.5L670.1 508.4L666.8 514.3L663.6 520.2L660.4 526.1L657.4 532.1L654.5 538.1L651.8 544.1L649.3 550.0L646.9 556.0L644.5 561.9L642.2 567.9L640.0 573.9L637.9 579.9L635.8 585.9L633.7 592.0L631.8 598.0L629.9 604.1L628.1 610.2L626.4 616.3L624.7 622.4L623.1 628.5L621.6 634.6L620.2 640.8L618.8 646.9L617.5 653.1L616.3 659.3L615.2 665.5L614.2 671.7L613.2 677.9L612.4 684.1L611.6 690.3L610.9 696.5L610.3 702.7L609.8 709.0L609.4 715.2L609.0 721.4L608.6 727.6L608.3 733.8L608.1 739.9L607.9 746.1L607.8 752.3L607.7 758.4L607.6 764.5L607.5 770.6L607.5 776.7L607.5 783.0L607.6 789.7L607.6 796.5L607.8 803.4L608.0 810.4L608.3 817.2L608.7 824.0L609.1 830.9L609.6 837.7L610.2 844.6L610.8 851.4L611.6 858.3L612.4 865.1L613.3 871.9L614.2 878.8L615.3 885.6L616.5 892.4L617.7 899.2L619.0 906.0L620.4 912.8L622.0 919.6L623.6 926.4L625.3 933.2L627.1 940.0L629.0 946.6L630.9 953.0L632.9 959.2L635.0 965.4L637.2 971.5L639.6 977.6L642.1 983.7L644.7 989.7L647.4 995.7L650.5 1002.2L653.9 1009.0L657.0 1015.1L659.1 1019.3L659.6 1019.1L658.0 1014.7L655.6 1008.3L652.9 1001.2L650.4 994.5L648.3 988.3L646.3 982.1L644.3 975.9L642.3 969.7L640.2 963.6L638.2 957.5L636.3 951.3L634.4 945.0L632.7 938.5L631.0 931.8L629.3 925.0L627.8 918.3L626.4 911.6L625.1 904.8L623.9 898.1L622.7 891.4L621.6 884.6L620.6 877.8L619.7 871.1L618.9 864.3L618.2 857.5L617.5 850.8L616.9 844.0L616.4 837.2L615.9 830.4L615.5 823.7L615.2 816.9L614.9 810.1L614.7 803.3L614.6 796.4L614.5 789.6L614.5 783.0L614.5 776.7L614.5 770.6L614.5 764.6L614.6 758.5L614.7 752.4L614.8 746.3L614.9 740.1L615.1 734.0L615.3 727.9L615.6 721.7L615.9 715.6L616.3 709.4L616.8 703.3L617.3 697.1L617.9 691.0L618.6 684.9L619.3 678.7L620.2 672.6L621.1 666.4L622.1 660.3L623.2 654.2L624.4 648.1L625.7 642.0L627.0 635.9L628.5 629.8L629.9 623.7L631.5 617.7L633.1 611.6L634.8 605.5L636.6 599.5L638.5 593.5L640.4 587.5L642.4 581.5L644.5 575.5L646.6 569.5L648.8 563.5L651.0 557.6L653.3 551.7L655.7 545.8L658.3 539.9L661.1 534.0L664.1 528.0L667.2 522.1L670.3 516.2L673.5 510.3L676.8 504.4L680.1 498.6L683.5 492.8L686.9 487.0L690.5 481.3L694.1 475.6L697.8 469.9L701.6 464.3L705.5 458.8L709.4 453.3L713.4 447.8L717.6 442.4L721.8 437.1L726.1 431.8L730.5 426.6L735.0 421.5L739.6 416.4L744.2 411.4L749.0 406.5L753.8 401.7L758.8 397.0L763.8 392.3L768.9 387.8L774.2 383.3L779.5 379.0L784.9 374.7L790.3 370.6L795.7 366.7L801.1 363.0L806.6 359.4L812.1 355.8L817.6 352.3L823.3 348.9L828.9 345.5L834.7 342.3L841.0 338.9L847.9 335.5L854.0 332.5L858.2 330.4ZM683.8 1066.2L686.2 1070.3L689.6 1076.3L693.5 1082.9L697.3 1089.2L701.0 1094.8L704.7 1100.4L708.6 1105.9L712.6 1111.3L716.7 1116.6L721.0 1121.8L725.3 1127.0L729.7 1132.1L734.2 1137.2L738.7 1142.2L743.4 1147.1L748.0 1152.0L752.8 1156.8L757.6 1161.6L762.5 1166.3L767.5 1170.9L772.5 1175.5L777.6 1180.0L782.8 1184.4L788.1 1188.8L793.4 1193.1L798.7 1197.3L804.2 1201.5L809.6 1205.6L815.2 1209.6L820.8 1213.5L826.5 1217.4L832.2 1221.1L838.0 1224.8L843.9 1228.4L849.8 1232.0L855.8 1235.4L861.8 1238.8L867.9 1242.1L874.0 1245.2L880.2 1248.3L886.3 1251.3L892.6 1254.2L898.9 1257.0L905.3 1259.8L912.0 1262.6L918.9 1265.4L925.9 1268.1L932.9 1270.7L939.8 1273.2L946.9 1275.5L954.0 1277.8L961.1 1279.9L968.3 1282.0L975.5 1283.9L982.7 1285.7L990.0 1287.3L997.3 1288.9L1004.6 1290.3L1012.0 1291.6L1019.3 1292.7L1026.8 1293.7L1034.2 1294.6L1041.6 1295.4L1049.1 1295.9L1056.6 1296.4L1064.0 1296.7L1071.5 1296.9L1079.0 1296.9L1086.5 1296.7L1094.0 1296.4L1101.5 1295.9L1108.9 1295.3L1116.4 1294.4L1123.8 1293.5L1131.2 1292.4L1138.6 1291.1L1145.9 1289.7L1153.2 1288.2L1160.4 1286.6L1167.7 1284.8L1174.9 1282.9L1182.0 1281.0L1189.1 1278.9L1196.2 1276.7L1203.2 1274.3L1210.1 1271.7L1217.0 1269.1L1223.8 1266.4L1231.2 1263.3L1239.0 1260.1L1246.0 1257.1L1250.8 1255.0L1250.6 1254.4L1245.6 1256.1L1238.5 1258.5L1230.4 1261.2L1222.8 1263.6L1215.8 1265.8L1208.8 1267.9L1201.7 1269.9L1194.7 1271.9L1187.6 1273.9L1180.6 1275.9L1173.5 1277.8L1166.4 1279.6L1159.2 1281.2L1152.0 1282.8L1144.8 1284.2L1137.6 1285.6L1130.3 1286.8L1123.0 1287.8L1115.7 1288.8L1108.4 1289.5L1101.1 1290.2L1093.7 1290.6L1086.3 1291.0L1079.0 1291.1L1071.6 1291.1L1064.2 1291.0L1056.9 1290.7L1049.5 1290.2L1042.1 1289.7L1034.8 1288.9L1027.5 1288.1L1020.2 1287.1L1012.9 1286.0L1005.6 1284.8L998.3 1283.4L991.1 1281.9L983.9 1280.3L976.8 1278.6L969.7 1276.8L962.6 1274.8L955.5 1272.8L948.5 1270.6L941.5 1268.3L934.6 1265.9L927.6 1263.4L920.7 1260.7L913.9 1258.0L907.2 1255.3L900.8 1252.6L894.5 1249.9L888.3 1247.1L882.2 1244.2L876.0 1241.2L869.9 1238.1L863.9 1234.9L857.9 1231.6L852.0 1228.2L846.1 1224.8L840.3 1221.2L834.5 1217.6L828.8 1213.9L823.1 1210.1L817.5 1206.3L812.0 1202.3L806.5 1198.3L801.1 1194.2L795.8 1190.1L790.5 1185.8L785.3 1181.5L780.1 1177.1L775.1 1172.7L770.0 1168.1L765.1 1163.6L760.2 1158.9L755.4 1154.2L750.7 1149.4L746.0 1144.6L741.4 1139.7L736.9 1134.7L732.5 1129.7L728.2 1124.6L723.9 1119.4L719.7 1114.2L715.6 1109.0L711.5 1103.7L707.4 1098.4L703.4 1093.1L699.4 1087.8L695.2 1081.8L690.9 1075.5L687.0 1069.8L684.3 1065.8ZM1394.6 861.8L1396.6 859.1L1399.5 855.3L1402.9 851.1L1406.2 847.0L1409.6 843.3L1413.1 839.5L1416.8 835.7L1420.3 831.7L1423.6 827.7L1426.7 823.8L1430.0 819.5L1433.7 814.8L1438.2 809.2L1443.2 803.2L1448.3 796.8L1452.9 790.3L1457.2 783.8L1461.2 777.1L1464.9 770.3L1467.8 763.2L1469.9 755.7L1471.4 748.1L1472.3 740.4L1472.9 732.8L1473.0 725.4L1472.6 718.1L1471.9 710.9L1471.0 703.7L1470.0 696.5L1468.8 689.3L1467.2 682.2L1465.2 675.1L1462.7 668.2L1459.6 661.4L1456.4 654.7L1453.1 648.1L1449.6 641.5L1445.9 634.8L1442.4 628.4L1439.3 622.5L1436.8 617.4L1434.8 612.8L1432.9 608.3L1430.9 603.8L1428.8 599.1L1426.7 594.3L1424.6 589.6L1422.4 584.9L1420.1 580.2L1417.8 575.5L1415.4 570.9L1413.0 566.2L1410.5 561.7L1407.9 557.3L1405.2 552.8L1402.2 548.2L1398.9 543.6L1395.3 538.8L1391.5 534.1L1387.7 529.4L1383.5 524.5L1378.9 519.4L1374.8 514.9L1371.9 511.8L1371.4 512.2L1374.1 515.5L1378.0 520.2L1382.3 525.5L1386.2 530.6L1389.8 535.4L1393.3 540.3L1396.6 545.2L1399.8 549.9L1402.7 554.4L1405.3 558.8L1407.9 563.2L1410.4 567.6L1412.9 572.2L1415.2 576.8L1417.5 581.5L1419.7 586.1L1421.9 590.8L1424.1 595.5L1426.2 600.2L1428.3 604.9L1430.3 609.5L1432.2 613.9L1434.3 618.6L1436.7 623.8L1439.9 629.7L1443.4 636.2L1447.0 642.8L1450.4 649.5L1453.7 656.0L1456.9 662.7L1459.8 669.3L1462.3 676.0L1464.3 682.9L1465.8 689.9L1467.0 697.0L1468.0 704.1L1468.9 711.2L1469.6 718.3L1470.0 725.5L1469.9 732.7L1469.4 740.1L1468.5 747.6L1467.2 755.1L1465.1 762.2L1462.3 769.1L1458.9 775.8L1454.9 782.3L1450.7 788.8L1446.2 795.2L1441.1 801.5L1436.1 807.6L1431.6 813.1L1427.9 817.9L1424.6 822.1L1421.5 826.0L1418.3 830.0L1414.9 834.0L1411.5 838.0L1408.1 842.0L1404.9 845.9L1401.7 850.2L1398.6 854.7L1396.0 858.7L1394.1 861.4ZM1338.1 478.6L1334.9 475.7L1330.2 471.5L1325.1 467.0L1320.4 462.8L1316.3 459.2L1312.4 455.7L1308.5 452.3L1304.5 449.0L1300.3 445.7L1296.1 442.4L1291.9 439.2L1287.6 436.1L1283.3 433.0L1279.0 430.0L1274.6 427.0L1270.0 424.0L1265.2 420.9L1260.1 417.7L1255.0 414.6L1249.8 411.5L1244.6 408.6L1239.4 405.6L1234.1 402.8L1228.7 400.2L1223.2 397.7L1217.6 395.3L1212.0 393.1L1206.3 391.2L1200.7 389.4L1195.0 387.9L1189.3 386.5L1183.6 385.2L1177.9 384.1L1172.1 383.1L1166.3 382.3L1160.5 381.5L1154.7 380.9L1148.9 380.4L1143.1 379.9L1137.3 379.5L1131.6 379.2L1125.8 378.9L1120.1 378.7L1114.2 378.6L1108.4 378.6L1102.4 378.7L1096.5 378.9L1090.6 379.1L1084.7 379.5L1078.9 379.9L1073.0 380.4L1067.2 381.0L1061.5 381.5L1055.8 382.1L1050.1 382.9L1043.9 383.8L1037.4 384.9L1030.5 386.3L1023.5 387.7L1016.5 389.1L1009.6 390.5L1002.5 391.9L995.7 393.4L989.4 394.6L983.8 395.5L978.7 396.3L973.8 397.0L968.8 397.8L963.5 398.6L958.3 399.3L953.0 400.1L947.8 401.1L942.5 402.2L937.3 403.4L932.1 404.8L927.0 406.4L921.5 408.5L915.8 410.9L910.7 413.1L907.2 414.6L907.5 415.2L911.1 413.9L916.3 412.1L922.1 410.2L927.6 408.5L932.7 407.3L937.9 406.3L943.2 405.3L948.4 404.4L953.6 403.5L958.8 402.7L964.0 401.9L969.3 401.0L974.3 400.3L979.2 399.5L984.3 398.7L990.0 397.8L996.3 396.6L1003.2 395.2L1010.2 393.7L1017.2 392.3L1024.1 391.0L1031.1 389.6L1038.0 388.3L1044.5 387.3L1050.5 386.4L1056.2 385.7L1061.8 385.1L1067.5 384.6L1073.3 384.1L1079.1 383.6L1085.0 383.2L1090.8 382.9L1096.6 382.7L1102.5 382.5L1108.4 382.5L1114.2 382.5L1119.9 382.6L1125.7 382.8L1131.4 383.1L1137.1 383.5L1142.8 383.9L1148.6 384.4L1154.3 384.9L1160.0 385.6L1165.7 386.3L1171.4 387.2L1177.1 388.1L1182.8 389.2L1188.4 390.5L1194.0 391.8L1199.5 393.3L1205.1 395.0L1210.6 396.9L1216.1 399.0L1221.6 401.2L1227.0 403.6L1232.4 406.2L1237.6 408.9L1242.8 411.7L1248.0 414.6L1253.2 417.6L1258.3 420.7L1263.4 423.8L1268.2 426.8L1272.8 429.8L1277.2 432.7L1281.5 435.7L1285.7 438.7L1290.0 441.8L1294.2 445.0L1298.4 448.2L1302.5 451.4L1306.6 454.6L1310.7 457.7L1314.8 460.9L1319.1 464.3L1324.0 468.2L1329.4 472.5L1334.3 476.3L1337.7 479.0ZM849.9 443.3L846.6 445.4L841.9 448.2L836.6 451.5L831.7 454.8L827.3 457.8L823.0 461.0L818.8 464.2L814.5 467.8L810.1 471.6L805.6 475.7L801.3 479.9L797.0 484.2L792.8 488.5L788.8 492.9L784.8 497.4L780.9 501.9L777.1 506.5L773.4 511.2L769.8 515.9L766.3 520.7L762.8 525.5L759.4 530.4L756.1 535.4L752.9 540.3L749.7 545.4L746.6 550.4L743.6 555.5L740.7 560.6L737.8 565.8L734.9 571.0L732.1 576.2L729.5 581.3L727.1 586.2L724.8 591.0L722.7 595.7L720.6 600.5L718.5 605.4L716.5 610.2L714.6 615.1L712.7 620.0L710.9 625.0L709.2 629.9L707.5 634.9L705.8 639.8L704.2 644.8L702.7 649.8L701.3 654.9L699.9 659.9L698.5 664.9L697.2 670.0L696.0 675.1L694.9 680.2L693.8 685.3L692.8 690.4L691.9 695.5L691.0 700.6L690.2 705.8L689.5 710.9L688.9 716.1L688.3 721.2L687.8 726.4L687.3 731.5L686.9 736.7L686.5 741.8L686.1 746.9L685.8 752.1L685.5 757.2L685.2 762.4L685.0 767.4L684.7 772.5L684.5 777.6L684.3 782.9L684.1 788.5L684.0 794.3L684.0 800.1L684.0 805.9L684.0 811.7L684.2 817.4L684.3 823.2L684.6 829.0L684.9 834.8L685.2 840.5L685.6 846.3L686.1 852.1L686.7 857.9L687.3 863.7L687.9 869.5L688.6 875.3L689.4 881.1L690.2 887.0L691.1 892.8L692.1 898.6L693.1 904.5L694.2 910.3L695.4 916.2L696.6 921.9L697.9 927.5L699.3 932.9L700.7 938.3L702.3 943.6L703.9 949.0L705.7 954.4L707.5 959.7L709.4 965.1L711.6 970.9L714.1 977.0L716.2 982.5L717.8 986.3L718.3 986.1L717.1 982.2L715.4 976.5L713.5 970.3L711.7 964.3L710.2 958.9L708.7 953.5L707.3 948.0L705.9 942.6L704.4 937.3L703.0 931.9L701.6 926.6L700.2 921.1L699.0 915.4L697.9 909.7L696.8 903.8L695.7 898.0L694.8 892.2L693.9 886.4L693.0 880.6L692.2 874.9L691.5 869.1L690.8 863.3L690.2 857.6L689.7 851.8L689.2 846.0L688.8 840.3L688.4 834.6L688.1 828.8L687.8 823.1L687.7 817.3L687.5 811.6L687.4 805.9L687.4 800.1L687.5 794.3L687.6 788.6L687.7 783.1L687.9 777.8L688.1 772.7L688.4 767.6L688.6 762.5L688.9 757.4L689.2 752.3L689.5 747.2L689.9 742.0L690.3 736.9L690.7 731.8L691.1 726.7L691.7 721.6L692.2 716.5L692.9 711.3L693.6 706.2L694.3 701.1L695.2 696.1L696.1 691.0L697.1 685.9L698.1 680.9L699.2 675.8L700.4 670.8L701.7 665.8L703.0 660.8L704.4 655.8L705.8 650.8L707.3 645.8L708.9 640.8L710.5 635.9L712.2 631.0L713.9 626.0L715.7 621.1L717.5 616.3L719.5 611.4L721.4 606.6L723.5 601.7L725.5 597.0L727.6 592.3L729.9 587.5L732.2 582.7L734.8 577.6L737.6 572.5L740.4 567.2L743.3 562.1L746.2 557.0L749.2 552.0L752.3 546.9L755.4 542.0L758.6 537.0L761.9 532.1L765.2 527.3L768.7 522.5L772.2 517.7L775.8 513.0L779.5 508.4L783.2 503.8L787.1 499.3L791.0 494.9L795.0 490.5L799.1 486.3L803.4 482.1L807.8 477.9L812.2 473.9L816.5 470.1L820.6 466.5L824.7 463.0L828.7 459.7L832.9 456.4L837.5 452.9L842.6 449.3L847.1 446.1L850.2 443.8ZM736.1 1028.7L737.9 1032.4L740.5 1037.9L743.5 1044.0L746.4 1049.7L749.2 1054.9L752.2 1060.0L755.2 1065.1L758.3 1070.1L761.6 1075.1L765.0 1079.9L768.6 1084.8L772.1 1089.5L775.8 1094.3L779.5 1099.0L783.3 1103.6L787.2 1108.2L791.1 1112.7L795.1 1117.3L799.1 1121.7L803.3 1126.2L807.5 1130.5L811.8 1134.8L816.1 1139.1L820.5 1143.3L825.0 1147.5L829.5 1151.6L834.1 1155.6L838.8 1159.6L843.6 1163.5L848.4 1167.3L853.3 1171.1L858.2 1174.8L863.2 1178.4L868.3 1181.9L873.4 1185.4L878.6 1188.8L883.9 1192.1L889.2 1195.3L894.6 1198.4L900.1 1201.5L905.5 1204.4L911.0 1207.2L916.6 1210.0L922.4 1212.7L928.3 1215.5L934.4 1218.3L940.6 1221.1L946.8 1223.7L953.1 1226.2L959.4 1228.6L965.7 1230.8L972.1 1233.0L978.6 1235.1L985.1 1237.0L991.6 1238.8L998.2 1240.5L1004.8 1242.0L1011.4 1243.4L1018.1 1244.7L1024.8 1245.8L1031.5 1246.8L1038.3 1247.6L1045.1 1248.3L1051.8 1248.8L1058.6 1249.2L1065.5 1249.4L1072.3 1249.5L1079.1 1249.3L1085.9 1249.0L1092.7 1248.5L1099.5 1247.8L1106.3 1246.9L1113.0 1245.9L1119.7 1244.6L1126.3 1243.3L1133.0 1241.7L1139.5 1240.1L1146.1 1238.3L1152.6 1236.4L1159.0 1234.3L1165.4 1232.2L1171.7 1230.0L1178.0 1227.6L1184.2 1225.2L1190.4 1222.7L1196.6 1220.2L1202.6 1217.5L1208.7 1214.9L1214.7 1212.2L1220.8 1209.4L1226.8 1206.6L1232.5 1203.7L1237.9 1200.9L1243.1 1198.1L1248.1 1195.2L1253.1 1192.3L1258.1 1189.2L1263.1 1186.2L1268.0 1183.1L1272.9 1179.9L1277.8 1176.7L1282.6 1173.5L1287.3 1170.2L1292.0 1166.9L1296.7 1163.5L1301.3 1160.1L1305.9 1156.7L1310.5 1153.2L1315.0 1149.8L1319.5 1146.4L1323.9 1142.8L1328.5 1139.0L1333.1 1134.9L1337.8 1130.6L1342.5 1126.2L1347.1 1121.9L1351.7 1117.6L1356.2 1113.2L1360.7 1108.9L1365.3 1104.7L1370.1 1100.7L1375.0 1096.7L1379.9 1092.8L1384.7 1088.9L1389.2 1085.2L1393.6 1081.6L1398.0 1078.1L1402.4 1074.5L1407.4 1070.5L1412.7 1066.2L1417.4 1062.4L1420.7 1059.8L1420.4 1059.3L1416.9 1061.8L1412.0 1065.3L1406.5 1069.2L1401.3 1073.0L1396.7 1076.3L1392.1 1079.6L1387.5 1083.0L1382.8 1086.6L1378.0 1090.4L1373.1 1094.3L1368.1 1098.3L1363.3 1102.4L1358.6 1106.6L1354.0 1110.9L1349.5 1115.2L1344.9 1119.5L1340.2 1123.8L1335.5 1128.2L1330.8 1132.4L1326.2 1136.3L1321.7 1140.0L1317.2 1143.4L1312.7 1146.7L1308.2 1150.0L1303.5 1153.4L1298.9 1156.7L1294.2 1159.9L1289.5 1163.2L1284.7 1166.3L1279.9 1169.5L1275.1 1172.6L1270.2 1175.7L1265.3 1178.7L1260.3 1181.7L1255.4 1184.6L1250.3 1187.5L1245.3 1190.4L1240.3 1193.1L1235.2 1195.9L1229.9 1198.6L1224.3 1201.4L1218.4 1204.1L1212.3 1206.8L1206.3 1209.5L1200.3 1212.2L1194.3 1214.8L1188.2 1217.3L1182.1 1219.8L1175.9 1222.2L1169.7 1224.5L1163.5 1226.8L1157.2 1228.9L1150.9 1230.9L1144.5 1232.8L1138.1 1234.6L1131.6 1236.2L1125.1 1237.7L1118.6 1239.1L1112.0 1240.3L1105.5 1241.3L1098.9 1242.2L1092.2 1242.9L1085.6 1243.4L1078.9 1243.7L1072.2 1243.8L1065.6 1243.8L1058.9 1243.6L1052.2 1243.2L1045.6 1242.7L1038.9 1242.1L1032.3 1241.3L1025.7 1240.3L1019.1 1239.2L1012.5 1238.0L1005.9 1236.7L999.4 1235.2L993.0 1233.6L986.5 1231.8L980.1 1230.0L973.7 1228.0L967.4 1225.9L961.1 1223.7L954.9 1221.4L948.7 1219.0L942.5 1216.5L936.4 1213.8L930.3 1211.1L924.4 1208.4L918.7 1205.7L913.1 1203.0L907.7 1200.3L902.2 1197.4L896.9 1194.5L891.5 1191.4L886.2 1188.3L881.0 1185.1L875.8 1181.8L870.7 1178.4L865.7 1174.9L860.7 1171.4L855.7 1167.8L850.9 1164.1L846.1 1160.3L841.4 1156.5L836.7 1152.6L832.1 1148.6L827.6 1144.6L823.1 1140.5L818.7 1136.4L814.4 1132.2L810.1 1127.9L805.9 1123.6L801.8 1119.2L797.8 1114.8L793.8 1110.4L789.9 1105.9L786.0 1101.3L782.3 1096.7L778.6 1092.1L774.9 1087.4L771.4 1082.7L767.9 1077.9L764.6 1073.1L761.2 1068.2L757.9 1063.3L754.7 1058.5L751.5 1053.5L748.4 1048.6L745.1 1043.1L741.7 1037.3L738.7 1032.0L736.6 1028.4ZM1458.1 1029.3L1461.4 1026.3L1466.1 1022.1L1471.4 1017.3L1476.3 1012.7L1480.8 1008.4L1485.2 1003.9L1489.6 999.5L1494.0 994.9L1498.3 990.3L1502.6 985.5L1506.8 980.7L1511.0 975.8L1515.1 970.9L1519.2 965.8L1523.2 960.7L1527.2 955.5L1531.0 950.2L1534.7 944.8L1538.3 939.4L1541.8 933.8L1545.1 928.1L1548.3 922.4L1551.3 916.6L1554.2 910.7L1556.9 904.7L1559.4 898.6L1561.8 892.5L1564.0 886.4L1566.1 880.2L1568.1 873.9L1569.9 867.6L1571.7 861.2L1573.2 854.9L1574.7 848.4L1576.0 842.0L1577.1 835.5L1578.2 829.0L1579.1 822.5L1579.8 815.9L1580.5 809.4L1581.0 802.9L1581.4 796.4L1581.7 789.8L1581.8 783.0L1581.8 776.0L1581.7 768.7L1581.4 761.4L1581.0 754.2L1580.4 747.0L1579.7 739.8L1578.9 732.6L1578.0 725.4L1576.9 718.3L1575.7 711.2L1574.4 704.1L1573.0 697.1L1571.4 690.0L1569.8 683.0L1568.0 676.1L1566.1 669.1L1564.1 662.2L1562.0 655.4L1559.9 648.5L1557.6 641.8L1555.2 635.0L1552.8 628.3L1550.2 621.6L1547.6 615.0L1544.9 608.3L1542.1 601.7L1539.2 595.2L1536.3 588.8L1533.2 582.6L1530.0 576.6L1526.7 570.7L1523.2 564.9L1519.3 558.6L1515.1 552.0L1511.2 546.1L1508.6 542.1L1508.0 542.4L1510.2 546.7L1513.4 553.0L1516.9 559.9L1520.1 566.6L1522.9 572.7L1525.7 578.8L1528.4 584.9L1531.2 591.1L1534.0 597.5L1536.9 604.0L1539.7 610.5L1542.4 617.1L1545.0 623.6L1547.5 630.3L1549.9 636.9L1552.3 643.6L1554.5 650.3L1556.6 657.1L1558.7 663.8L1560.7 670.7L1562.5 677.5L1564.3 684.4L1565.9 691.3L1567.4 698.2L1568.8 705.2L1570.1 712.2L1571.3 719.2L1572.4 726.2L1573.3 733.3L1574.1 740.4L1574.8 747.4L1575.3 754.5L1575.7 761.7L1576.0 768.9L1576.2 776.0L1576.2 783.0L1576.0 789.6L1575.8 796.1L1575.4 802.5L1574.9 808.9L1574.3 815.4L1573.6 821.8L1572.8 828.2L1571.8 834.6L1570.8 841.0L1569.6 847.4L1568.3 853.7L1566.8 860.0L1565.3 866.3L1563.6 872.6L1561.7 878.8L1559.7 884.9L1557.6 891.0L1555.4 897.1L1553.0 903.1L1550.4 909.0L1547.7 914.8L1544.8 920.6L1541.8 926.3L1538.6 931.9L1535.2 937.4L1531.7 942.8L1528.1 948.2L1524.4 953.5L1520.5 958.7L1516.6 963.7L1512.6 968.8L1508.5 973.7L1504.3 978.6L1500.1 983.4L1495.9 988.1L1491.7 992.8L1487.5 997.5L1483.3 1002.1L1479.2 1006.8L1474.9 1011.3L1470.3 1016.2L1465.3 1021.2L1460.8 1025.7L1457.7 1028.9ZM1478.1 497.6L1475.3 493.6L1471.3 487.9L1466.7 481.6L1462.3 475.7L1458.1 470.4L1453.8 465.2L1449.4 460.1L1445.0 455.0L1440.4 450.1L1435.7 445.4L1430.9 440.7L1426.0 435.9L1420.9 431.2L1415.7 426.4L1410.4 421.7L1405.1 417.1L1399.7 412.6L1394.3 408.1L1388.8 403.7L1383.3 399.4L1377.6 395.2L1372.0 391.1L1366.3 387.0L1360.5 383.1L1354.7 379.2L1348.8 375.4L1342.8 371.6L1336.8 368.0L1330.8 364.4L1324.7 361.0L1318.6 357.6L1312.4 354.3L1306.2 351.1L1300.0 347.9L1293.7 344.9L1287.3 342.0L1280.9 339.1L1274.4 336.3L1268.0 333.6L1261.6 331.1L1255.2 328.7L1248.9 326.4L1242.7 324.2L1236.3 322.2L1230.0 320.2L1223.6 318.3L1217.1 316.5L1210.7 314.8L1204.2 313.2L1197.7 311.7L1191.2 310.3L1184.7 308.9L1178.1 307.7L1171.6 306.5L1165.0 305.3L1158.5 304.3L1151.9 303.3L1145.3 302.4L1138.7 301.5L1132.1 300.7L1125.5 300.0L1118.9 299.3L1112.3 298.6L1105.7 298.0L1099.2 297.7L1092.9 297.5L1086.4 297.1L1079.4 296.1L1071.4 294.2L1062.8 291.7L1053.8 289.0L1044.8 286.5L1035.6 284.0L1026.1 281.5L1016.8 279.3L1008.2 278.0L1000.2 278.1L992.5 279.0L986.0 280.2L981.4 281.0L981.5 281.6L986.1 281.0L992.6 280.1L1000.2 279.5L1008.1 279.9L1016.4 281.4L1025.5 283.9L1034.8 286.8L1044.0 289.5L1052.9 292.3L1061.8 295.2L1070.5 297.8L1078.6 299.9L1086.0 301.0L1092.7 301.4L1099.0 301.6L1105.4 302.0L1111.9 302.6L1118.5 303.3L1125.1 304.0L1131.7 304.8L1138.2 305.6L1144.8 306.5L1151.3 307.4L1157.8 308.4L1164.3 309.5L1170.8 310.7L1177.3 311.9L1183.8 313.2L1190.3 314.6L1196.7 316.0L1203.1 317.5L1209.6 319.2L1215.9 320.9L1222.3 322.7L1228.6 324.6L1234.9 326.6L1241.2 328.7L1247.4 330.8L1253.6 333.1L1259.8 335.6L1266.1 338.1L1272.5 340.8L1278.9 343.6L1285.2 346.5L1291.5 349.5L1297.7 352.5L1303.9 355.7L1310.0 358.9L1316.1 362.2L1322.1 365.6L1328.1 369.0L1334.1 372.6L1340.0 376.2L1345.9 379.9L1351.7 383.7L1357.4 387.6L1363.1 391.5L1368.8 395.5L1374.4 399.6L1379.9 403.8L1385.4 408.1L1390.8 412.4L1396.2 416.8L1401.5 421.3L1406.8 425.8L1412.0 430.5L1417.2 435.2L1422.2 439.9L1427.0 444.6L1431.7 449.3L1436.4 454.0L1441.0 458.8L1445.7 463.5L1450.4 468.3L1455.0 473.1L1459.6 478.0L1464.6 483.4L1469.8 489.2L1474.4 494.3L1477.6 497.9ZM902.1 297.0L897.4 298.3L890.7 300.3L883.2 302.5L876.1 304.8L869.6 307.0L863.2 309.4L856.8 311.8L850.5 314.4L844.2 317.1L838.0 320.0L831.9 323.0L825.8 326.1L819.7 329.2L813.7 332.5L807.7 335.9L801.8 339.3L796.0 342.9L790.2 346.5L784.5 350.3L778.8 354.2L773.0 358.3L767.3 362.6L761.6 367.0L756.0 371.5L750.6 376.1L745.2 380.8L739.9 385.6L734.7 390.5L729.6 395.5L724.6 400.6L719.7 405.7L714.8 410.9L710.1 416.2L705.5 421.6L700.9 427.1L696.4 432.6L692.1 438.2L687.8 443.8L683.6 449.5L679.4 455.2L675.4 461.0L671.4 466.8L667.5 472.7L663.7 478.7L660.0 484.6L656.4 490.6L652.8 496.6L649.3 502.7L645.8 508.8L642.4 514.9L639.0 521.1L635.9 527.3L632.9 533.4L630.1 539.5L627.4 545.5L624.7 551.7L622.1 557.8L619.6 564.0L617.1 570.2L614.7 576.4L612.4 582.7L610.2 588.9L608.0 595.2L606.0 601.5L604.0 607.9L602.0 614.2L600.2 620.6L598.4 627.0L596.7 633.4L595.1 639.8L593.6 646.2L592.2 652.7L590.8 659.1L589.5 665.6L588.4 672.1L587.3 678.6L586.3 685.1L585.4 691.6L584.5 698.1L583.8 704.7L583.1 711.2L582.5 717.7L582.0 724.3L581.5 730.8L581.1 737.3L580.7 743.9L580.4 750.4L580.2 756.9L580.0 763.4L579.8 769.8L579.7 776.3L579.8 783.0L579.9 790.0L580.2 797.3L580.6 804.7L581.1 812.0L581.8 819.9L582.6 828.2L583.5 835.7L584.0 840.8L584.6 840.8L584.5 835.6L584.3 828.1L584.1 819.8L584.0 811.9L584.0 804.6L584.0 797.2L584.1 790.0L584.2 783.0L584.3 776.3L584.4 769.8L584.5 763.5L584.7 757.0L584.9 750.6L585.1 744.1L585.5 737.6L585.8 731.1L586.3 724.6L586.8 718.1L587.4 711.6L588.0 705.1L588.7 698.6L589.5 692.2L590.4 685.7L591.3 679.2L592.4 672.8L593.5 666.3L594.7 659.9L596.1 653.5L597.5 647.1L598.9 640.7L600.5 634.3L602.2 628.0L603.9 621.6L605.7 615.3L607.5 609.0L609.5 602.7L611.5 596.4L613.6 590.1L615.8 583.9L618.1 577.7L620.4 571.5L622.8 565.3L625.3 559.1L627.9 553.0L630.5 546.9L633.1 540.8L635.9 534.8L638.8 528.7L641.9 522.6L645.2 516.5L648.6 510.4L652.0 504.3L655.5 498.2L659.1 492.2L662.7 486.2L666.4 480.3L670.1 474.4L674.0 468.5L677.9 462.7L681.9 457.0L686.0 451.3L690.2 445.6L694.4 440.0L698.8 434.4L703.2 428.9L707.7 423.5L712.3 418.2L717.0 412.9L721.8 407.7L726.7 402.6L731.6 397.5L736.7 392.6L741.9 387.7L747.1 383.0L752.4 378.3L757.8 373.7L763.4 369.3L769.0 364.9L774.7 360.7L780.4 356.6L786.1 352.7L791.8 348.9L797.5 345.3L803.3 341.8L809.1 338.3L815.1 335.0L821.0 331.7L827.1 328.6L833.1 325.6L839.3 322.6L845.4 319.8L851.6 317.0L857.9 314.3L864.1 311.6L870.4 309.0L876.7 306.5L883.7 304.0L891.1 301.4L897.7 299.1L902.3 297.6ZM598.1 927.0L599.3 932.1L601.0 939.5L603.0 947.8L605.0 955.4L607.0 962.2L609.0 968.8L611.2 975.2L613.5 981.7L615.9 988.2L618.5 994.6L621.2 1000.9L624.0 1007.3L626.8 1013.6L629.7 1019.9L632.7 1026.1L635.8 1032.4L639.0 1038.5L642.2 1044.7L645.6 1050.8L649.0 1056.8L652.5 1062.8L656.1 1068.8L659.8 1074.7L663.5 1080.6L667.4 1086.4L671.3 1092.2L675.3 1098.0L679.4 1103.6L683.6 1109.2L687.8 1114.8L692.1 1120.3L696.6 1125.7L701.1 1131.1L705.6 1136.4L710.3 1141.7L715.0 1146.9L719.8 1152.0L724.7 1157.1L729.7 1162.0L734.7 1167.0L739.8 1171.8L745.0 1176.6L750.2 1181.3L755.5 1186.0L760.9 1190.6L766.3 1195.1L771.8 1199.5L777.3 1203.9L783.0 1208.1L788.6 1212.3L794.4 1216.5L800.2 1220.5L806.1 1224.5L812.0 1228.4L818.0 1232.2L824.0 1235.9L830.1 1239.5L836.2 1243.1L842.4 1246.6L848.7 1250.0L855.0 1253.2L861.3 1256.4L867.7 1259.6L874.1 1262.6L880.6 1265.5L887.0 1268.3L893.6 1271.0L900.3 1273.7L907.3 1276.4L914.4 1279.1L921.7 1281.6L928.9 1284.1L936.2 1286.4L943.5 1288.6L950.8 1290.7L958.2 1292.7L965.5 1294.6L973.0 1296.3L980.4 1297.9L987.9 1299.4L995.4 1300.8L1002.9 1302.1L1010.5 1303.2L1018.1 1304.2L1025.6 1305.1L1033.2 1305.9L1040.9 1306.5L1048.5 1307.0L1056.2 1307.4L1063.9 1307.7L1071.6 1307.8L1079.0 1307.7L1086.1 1307.6L1093.0 1307.3L1099.7 1306.9L1106.5 1306.3L1113.4 1305.7L1120.2 1304.9L1127.0 1304.0L1133.8 1303.0L1140.5 1301.9L1147.3 1300.6L1154.0 1299.3L1160.7 1297.9L1167.4 1296.4L1174.0 1294.8L1180.6 1293.1L1187.2 1291.3L1193.7 1289.4L1200.2 1287.3L1206.6 1285.0L1213.0 1282.7L1219.9 1280.1L1227.2 1277.2L1233.7 1274.6L1238.2 1272.8L1238.0 1272.2L1233.3 1273.7L1226.7 1275.8L1219.2 1278.0L1212.1 1280.1L1205.6 1281.8L1199.1 1283.5L1192.5 1285.1L1185.9 1286.7L1179.4 1288.3L1172.8 1289.9L1166.2 1291.5L1159.6 1292.9L1153.0 1294.2L1146.3 1295.5L1139.7 1296.6L1133.0 1297.7L1126.3 1298.6L1119.5 1299.5L1112.8 1300.2L1106.0 1300.9L1099.4 1301.4L1092.7 1301.8L1086.0 1302.1L1079.0 1302.3L1071.6 1302.3L1064.1 1302.2L1056.4 1301.9L1048.8 1301.6L1041.3 1301.1L1033.7 1300.5L1026.2 1299.8L1018.7 1298.9L1011.2 1298.0L1003.8 1296.9L996.3 1295.7L988.9 1294.3L981.5 1292.9L974.1 1291.3L966.7 1289.7L959.4 1287.9L952.1 1286.0L944.8 1283.9L937.6 1281.8L930.4 1279.6L923.2 1277.2L916.0 1274.7L908.9 1272.2L902.0 1269.6L895.3 1266.9L888.7 1264.3L882.3 1261.6L875.9 1258.7L869.5 1255.8L863.1 1252.8L856.8 1249.6L850.5 1246.4L844.3 1243.1L838.1 1239.7L832.0 1236.2L825.9 1232.7L819.9 1229.0L814.0 1225.3L808.1 1221.4L802.2 1217.5L796.5 1213.6L790.7 1209.5L785.1 1205.3L779.5 1201.1L773.9 1196.8L768.5 1192.4L763.0 1188.0L757.7 1183.4L752.4 1178.8L747.2 1174.1L742.1 1169.4L737.0 1164.6L732.0 1159.7L727.1 1154.7L722.3 1149.7L717.5 1144.6L712.8 1139.5L708.2 1134.2L703.6 1128.9L699.2 1123.6L694.8 1118.2L690.5 1112.7L686.3 1107.2L682.2 1101.6L678.1 1095.9L674.2 1090.2L670.3 1084.5L666.5 1078.7L662.8 1072.8L659.2 1066.9L655.7 1061.0L652.2 1055.0L648.9 1049.0L645.6 1042.9L642.4 1036.8L639.3 1030.6L636.2 1024.4L633.3 1018.2L630.4 1012.0L627.7 1005.7L625.0 999.4L622.4 993.0L619.9 986.6L617.4 980.2L614.9 973.9L612.4 967.6L610.0 961.2L607.7 954.6L605.2 947.2L602.6 939.1L600.3 931.9L598.7 926.8ZM1287.4 1251.0L1291.7 1248.9L1297.9 1245.8L1304.9 1242.4L1311.4 1239.0L1317.3 1235.8L1323.1 1232.5L1328.9 1229.2L1334.7 1225.8L1340.4 1222.3L1346.0 1218.6L1351.6 1214.9L1357.1 1211.2L1362.6 1207.3L1368.0 1203.4L1373.4 1199.5L1378.7 1195.5L1384.0 1191.4L1389.2 1187.3L1394.5 1183.1L1399.6 1178.9L1404.7 1174.7L1409.8 1170.4L1414.9 1166.0L1419.9 1161.7L1424.9 1157.3L1429.9 1152.8L1434.9 1148.4L1439.8 1143.9L1444.7 1139.4L1449.6 1134.8L1454.5 1130.3L1459.4 1125.6L1464.2 1121.0L1469.1 1116.3L1473.9 1111.6L1478.6 1106.8L1483.4 1101.9L1488.1 1097.1L1492.7 1092.1L1497.3 1087.1L1501.9 1082.1L1506.4 1076.9L1510.9 1071.7L1515.3 1066.5L1519.6 1061.2L1523.8 1055.8L1528.0 1050.3L1532.1 1044.8L1536.2 1039.2L1540.2 1033.6L1544.1 1027.9L1548.0 1022.1L1551.8 1016.3L1555.6 1010.5L1559.3 1004.6L1563.0 998.7L1566.6 992.7L1570.1 986.6L1573.5 980.5L1576.8 974.3L1580.1 968.0L1583.3 961.7L1586.3 955.4L1589.3 948.9L1592.0 942.5L1594.7 936.1L1597.2 929.5L1599.8 922.7L1602.5 915.5L1605.2 908.0L1607.9 900.4L1610.3 892.8L1612.5 885.2L1614.5 877.5L1616.3 869.8L1618.0 862.0L1619.6 853.5L1621.1 844.4L1622.3 836.3L1623.2 830.6L1622.6 830.5L1621.7 836.2L1620.3 844.3L1618.7 853.3L1616.9 861.8L1615.1 869.4L1613.0 877.1L1610.8 884.7L1608.4 892.2L1605.9 899.7L1603.1 907.3L1600.3 914.7L1597.5 921.8L1594.9 928.6L1592.3 935.1L1589.6 941.5L1586.9 947.9L1583.9 954.2L1580.9 960.6L1577.8 966.8L1574.5 973.1L1571.2 979.2L1567.8 985.3L1564.3 991.3L1560.8 997.3L1557.1 1003.2L1553.4 1009.1L1549.6 1014.9L1545.8 1020.7L1542.0 1026.4L1538.0 1032.1L1534.1 1037.7L1530.0 1043.2L1525.9 1048.7L1521.8 1054.2L1517.5 1059.5L1513.3 1064.8L1508.9 1070.1L1504.5 1075.2L1500.0 1080.3L1495.4 1085.4L1490.8 1090.4L1486.2 1095.3L1481.5 1100.1L1476.8 1105.0L1472.0 1109.7L1467.3 1114.4L1462.4 1119.1L1457.6 1123.8L1452.7 1128.4L1447.9 1132.9L1443.0 1137.5L1438.0 1142.0L1433.1 1146.4L1428.2 1150.9L1423.2 1155.3L1418.2 1159.7L1413.2 1164.1L1408.1 1168.4L1403.1 1172.7L1398.0 1176.9L1392.8 1181.1L1387.6 1185.3L1382.4 1189.4L1377.1 1193.4L1371.8 1197.4L1366.5 1201.3L1361.1 1205.2L1355.6 1209.0L1350.1 1212.7L1344.5 1216.4L1338.9 1220.0L1333.3 1223.5L1327.7 1227.1L1322.0 1230.6L1316.3 1234.0L1310.5 1237.4L1304.2 1241.1L1297.4 1244.8L1291.3 1248.2L1287.1 1250.5ZM1193.7 1098.0L1196.8 1096.1L1201.1 1093.4L1206.0 1090.2L1210.4 1087.0L1214.3 1083.7L1218.1 1080.2L1221.7 1076.7L1225.3 1073.2L1228.9 1069.7L1232.3 1066.2L1235.7 1062.8L1239.1 1059.6L1242.3 1056.7L1245.5 1054.1L1248.7 1051.4L1251.9 1048.7L1255.0 1045.9L1258.0 1043.0L1261.0 1040.1L1264.0 1037.2L1267.0 1034.4L1269.9 1031.5L1272.8 1028.6L1275.8 1025.7L1278.7 1022.9L1281.6 1020.1L1284.6 1017.4L1287.6 1014.7L1290.6 1012.0L1293.7 1009.4L1296.8 1006.9L1300.0 1004.4L1303.3 1001.9L1306.7 999.6L1310.1 997.2L1313.6 994.8L1317.1 992.5L1320.7 990.2L1324.4 987.9L1328.1 985.6L1331.9 983.2L1335.7 980.8L1339.6 978.5L1343.4 976.0L1347.3 973.5L1351.2 971.0L1355.1 968.4L1359.1 965.8L1362.9 963.1L1366.7 960.3L1370.5 957.5L1374.6 954.6L1379.0 951.7L1383.6 948.7L1388.4 945.6L1393.2 942.5L1398.0 939.3L1403.0 936.1L1407.9 932.7L1412.8 929.3L1417.7 925.7L1422.6 922.0L1427.4 918.2L1432.0 914.2L1436.4 910.1L1440.8 905.7L1444.9 901.3L1448.7 896.9L1452.2 892.4L1455.5 888.0L1458.5 883.4L1461.4 878.8L1464.4 873.6L1467.3 867.9L1469.8 862.9L1471.6 859.4L1471.1 859.1L1469.0 862.4L1466.0 867.2L1462.6 872.5L1459.3 877.4L1456.0 881.7L1452.7 885.9L1449.3 890.1L1445.6 894.2L1441.8 898.5L1437.8 902.9L1433.6 907.1L1429.2 911.2L1424.8 915.1L1420.1 918.8L1415.3 922.5L1410.5 926.0L1405.6 929.4L1400.7 932.7L1395.8 935.9L1391.0 939.1L1386.2 942.3L1381.4 945.4L1376.8 948.4L1372.3 951.4L1368.2 954.3L1364.3 957.1L1360.6 959.8L1356.8 962.5L1352.9 965.1L1349.0 967.7L1345.2 970.2L1341.3 972.7L1337.4 975.1L1333.6 977.5L1329.8 979.9L1326.1 982.3L1322.3 984.6L1318.7 987.0L1315.0 989.3L1311.5 991.7L1308.0 994.1L1304.5 996.5L1301.1 998.9L1297.8 1001.4L1294.5 1004.0L1291.4 1006.6L1288.3 1009.3L1285.2 1012.0L1282.2 1014.7L1279.2 1017.5L1276.3 1020.4L1273.3 1023.2L1270.4 1026.1L1267.5 1029.0L1264.6 1031.9L1261.6 1034.8L1258.7 1037.7L1255.7 1040.6L1252.7 1043.5L1249.7 1046.3L1246.6 1049.0L1243.5 1051.6L1240.2 1054.3L1236.9 1057.2L1233.5 1060.5L1230.1 1063.9L1226.6 1067.5L1223.1 1071.1L1219.7 1074.7L1216.2 1078.4L1212.8 1082.0L1209.2 1085.5L1205.0 1088.9L1200.4 1092.4L1196.3 1095.4L1193.4 1097.5ZM1487.7 818.8L1489.1 814.4L1491.0 808.2L1493.1 801.1L1494.8 794.3L1496.1 788.1L1497.1 781.7L1498.0 775.4L1498.6 769.0L1499.1 762.7L1499.3 756.3L1499.4 749.8L1499.2 743.4L1499.0 737.0L1498.5 730.5L1497.9 724.0L1497.2 717.6L1496.4 711.2L1495.4 704.7L1494.3 698.4L1493.0 692.0L1491.7 685.7L1490.2 679.3L1488.6 673.1L1486.9 666.8L1485.1 660.6L1483.2 654.3L1481.2 648.2L1479.1 642.1L1476.9 636.1L1474.6 630.3L1472.2 624.5L1469.6 618.7L1467.0 613.0L1464.2 607.4L1461.4 601.8L1458.5 596.2L1455.5 590.7L1452.4 585.2L1449.3 579.8L1446.1 574.4L1442.9 569.0L1439.5 563.6L1436.2 558.3L1433.0 553.2L1429.9 548.3L1426.9 543.7L1424.0 539.2L1420.9 534.7L1417.8 530.1L1414.7 525.5L1411.5 521.0L1408.3 516.5L1405.0 512.0L1401.6 507.6L1398.3 503.2L1394.8 498.8L1391.3 494.5L1387.8 490.2L1384.1 485.9L1380.4 481.7L1376.7 477.6L1372.8 473.5L1369.0 469.5L1365.0 465.5L1361.1 461.5L1357.1 457.6L1353.0 453.8L1348.9 449.9L1344.7 446.2L1340.5 442.4L1336.2 438.8L1331.9 435.1L1327.5 431.6L1323.1 428.1L1318.6 424.6L1314.1 421.2L1309.5 418.0L1305.0 414.8L1300.3 411.6L1295.5 408.4L1290.4 405.0L1285.1 401.5L1279.7 398.1L1274.2 394.7L1268.7 391.5L1263.2 388.4L1257.6 385.3L1251.9 382.4L1246.2 379.7L1240.5 377.0L1234.6 374.5L1228.5 372.2L1222.2 370.0L1215.8 368.1L1209.2 366.3L1202.7 364.7L1196.1 363.3L1189.6 362.0L1183.0 360.9L1176.5 359.8L1169.9 358.8L1163.4 357.9L1156.8 357.0L1150.2 356.2L1143.6 355.6L1136.8 355.0L1130.2 354.5L1123.9 354.1L1118.1 353.8L1112.5 353.5L1107.0 353.3L1101.4 353.2L1096.2 353.0L1091.1 352.9L1085.4 353.0L1078.6 353.9L1070.3 355.5L1061.0 357.9L1051.4 360.5L1042.0 362.8L1032.3 365.1L1021.9 367.5L1012.8 369.6L1006.4 371.1L1006.5 371.6L1013.0 370.7L1022.3 369.4L1032.8 367.9L1042.8 366.4L1052.3 364.7L1062.1 362.9L1071.4 361.3L1079.4 360.1L1085.8 359.6L1091.1 359.5L1096.0 359.5L1101.3 359.6L1106.8 359.7L1112.2 359.9L1117.7 360.2L1123.5 360.6L1129.8 361.0L1136.3 361.5L1143.0 362.0L1149.5 362.7L1156.0 363.4L1162.5 364.3L1169.0 365.2L1175.4 366.3L1181.9 367.3L1188.4 368.4L1194.8 369.7L1201.2 371.0L1207.6 372.6L1214.0 374.3L1220.3 376.2L1226.4 378.2L1232.2 380.4L1238.0 382.7L1243.6 385.3L1249.3 387.9L1254.9 390.7L1260.4 393.6L1265.9 396.6L1271.3 399.6L1276.7 402.8L1282.1 406.2L1287.4 409.5L1292.5 412.8L1297.4 416.0L1302.1 419.1L1306.6 422.2L1311.1 425.4L1315.6 428.6L1320.1 432.0L1324.5 435.4L1328.8 438.9L1333.1 442.4L1337.4 446.0L1341.6 449.7L1345.7 453.4L1349.8 457.1L1353.9 460.9L1357.9 464.8L1361.9 468.7L1365.8 472.6L1369.6 476.6L1373.4 480.6L1377.2 484.7L1380.8 488.8L1384.4 493.0L1388.0 497.2L1391.5 501.5L1394.9 505.8L1398.3 510.2L1401.6 514.6L1404.9 519.0L1408.1 523.4L1411.3 527.9L1414.4 532.4L1417.5 537.0L1420.5 541.5L1423.5 546.0L1426.5 550.5L1429.5 555.3L1432.7 560.4L1436.0 565.7L1439.3 571.1L1442.6 576.5L1445.7 581.9L1448.8 587.3L1451.8 592.7L1454.8 598.2L1457.7 603.7L1460.5 609.2L1463.2 614.8L1465.7 620.5L1468.2 626.2L1470.6 631.9L1472.8 637.7L1475.0 643.6L1477.1 649.6L1479.1 655.7L1481.0 661.8L1482.7 668.0L1484.4 674.2L1486.0 680.4L1487.4 686.6L1488.8 692.9L1490.0 699.1L1491.1 705.5L1492.1 711.8L1492.9 718.1L1493.7 724.5L1494.3 730.8L1494.7 737.2L1495.0 743.5L1495.1 749.9L1495.1 756.2L1494.8 762.5L1494.5 768.8L1494.2 775.1L1493.7 781.4L1493.2 787.6L1492.4 793.9L1491.1 800.6L1489.6 807.8L1488.2 814.2L1487.2 818.7ZM957.3 376.4L952.8 376.9L946.2 377.5L939.0 378.3L932.3 379.2L926.5 380.3L920.9 381.5L915.5 382.8L910.1 384.3L904.6 385.8L899.1 387.4L893.6 389.2L888.2 391.0L882.7 392.9L877.3 394.8L871.9 396.9L866.5 399.1L861.2 401.3L855.9 403.7L850.6 406.2L845.4 408.9L840.3 411.7L835.3 414.6L830.4 417.6L825.5 420.8L820.5 424.2L815.7 427.8L810.8 431.6L806.1 435.3L801.5 439.2L796.9 443.1L792.4 447.1L788.0 451.2L783.6 455.4L779.3 459.6L775.1 464.0L771.0 468.3L766.9 472.8L763.0 477.3L759.0 481.8L755.2 486.4L751.4 491.1L747.7 495.8L744.1 500.6L740.6 505.4L737.1 510.3L733.7 515.2L730.3 520.1L727.0 525.1L723.8 530.1L720.7 535.1L717.6 540.2L714.5 545.3L711.5 550.4L708.6 555.6L705.7 560.8L703.0 566.0L700.4 571.2L698.0 576.4L695.6 581.5L693.4 586.7L691.1 591.9L689.0 597.1L686.9 602.4L684.8 607.7L682.9 613.0L681.0 618.3L679.2 623.6L677.4 629.0L675.7 634.4L674.1 639.8L672.6 645.2L671.1 650.6L669.7 656.1L668.4 661.5L667.1 667.0L665.9 672.5L664.9 678.0L663.9 683.5L663.0 689.1L662.2 694.6L661.5 700.2L660.9 705.7L660.4 711.3L659.9 716.8L659.5 722.4L659.2 727.9L658.9 733.5L658.6 739.0L658.4 744.5L658.3 750.0L658.1 755.5L657.9 761.0L657.7 766.4L657.5 771.8L657.4 777.3L657.3 782.9L657.4 788.9L657.5 795.0L657.7 801.2L658.0 807.4L658.5 814.1L659.0 821.2L659.6 827.5L660.0 831.9L660.6 831.9L660.8 827.5L661.0 821.2L661.3 814.1L661.5 807.4L661.8 801.3L662.1 795.1L662.4 789.0L662.7 783.1L662.9 777.4L663.0 772.0L663.1 766.6L663.3 761.2L663.4 755.7L663.6 750.2L663.8 744.7L664.0 739.2L664.2 733.7L664.5 728.2L664.8 722.7L665.2 717.3L665.7 711.8L666.2 706.3L666.8 700.8L667.4 695.3L668.2 689.9L669.1 684.4L670.0 678.9L671.0 673.5L672.1 668.1L673.3 662.7L674.6 657.3L676.0 651.9L677.4 646.5L678.9 641.1L680.4 635.8L682.0 630.5L683.7 625.1L685.5 619.8L687.3 614.6L689.2 609.3L691.2 604.0L693.2 598.8L695.3 593.6L697.4 588.4L699.7 583.3L701.9 578.2L704.3 573.1L706.8 568.0L709.4 562.8L712.2 557.7L715.1 552.5L718.1 547.4L721.0 542.3L724.1 537.2L727.2 532.2L730.3 527.2L733.6 522.3L736.9 517.3L740.2 512.5L743.7 507.7L747.2 502.9L750.8 498.1L754.4 493.5L758.1 488.8L761.9 484.3L765.8 479.8L769.8 475.3L773.8 470.9L777.9 466.6L782.1 462.4L786.3 458.2L790.6 454.1L795.0 450.1L799.5 446.1L804.0 442.2L808.6 438.5L813.4 434.8L818.1 431.1L823.0 427.6L827.8 424.3L832.6 421.2L837.5 418.3L842.5 415.5L847.5 412.8L852.6 410.2L857.7 407.8L863.0 405.5L868.2 403.3L873.5 401.2L878.9 399.2L884.3 397.4L889.7 395.5L895.1 393.8L900.5 392.2L906.0 390.6L911.4 389.0L916.8 387.3L922.1 385.6L927.4 384.0L933.0 382.4L939.4 380.9L946.5 379.3L952.9 378.0L957.4 377.0ZM667.7 906.1L668.3 910.6L669.2 917.2L670.3 924.4L671.4 931.1L672.7 937.1L674.0 942.9L675.5 948.6L677.1 954.3L678.9 960.1L680.8 965.8L682.7 971.4L684.8 977.1L686.8 982.8L689.0 988.4L691.2 994.1L693.5 999.7L695.9 1005.3L698.3 1010.8L700.8 1016.4L703.4 1021.9L706.1 1027.4L708.9 1032.9L711.7 1038.4L714.6 1043.8L717.6 1049.2L720.7 1054.6L723.8 1059.9L727.0 1065.2L730.3 1070.4L733.7 1075.6L737.2 1080.8L740.8 1085.9L744.4 1091.0L748.1 1096.0L751.9 1101.0L755.8 1105.9L759.7 1110.8L763.7 1115.6L767.8 1120.4L772.0 1125.2L776.2 1129.9L780.5 1134.5L784.8 1139.1L789.3 1143.7L793.8 1148.1L798.3 1152.6L802.9 1157.0L807.6 1161.3L812.4 1165.5L817.2 1169.7L822.2 1173.9L827.1 1177.9L832.2 1181.9L837.3 1185.9L842.4 1189.7L847.6 1193.5L852.9 1197.2L858.3 1200.9L863.7 1204.4L869.2 1207.9L874.7 1211.3L880.3 1214.6L886.0 1217.9L891.7 1221.0L897.5 1224.0L903.2 1226.9L909.1 1229.8L915.1 1232.6L921.3 1235.5L927.7 1238.4L934.2 1241.3L940.7 1244.0L947.3 1246.6L953.9 1249.1L960.5 1251.5L967.2 1253.8L973.9 1256.0L980.7 1258.0L987.5 1260.0L994.4 1261.8L1001.3 1263.4L1008.2 1265.0L1015.2 1266.4L1022.2 1267.6L1029.3 1268.7L1036.3 1269.7L1043.4 1270.5L1050.5 1271.1L1057.6 1271.6L1064.8 1271.9L1071.9 1272.0L1079.1 1272.0L1086.2 1271.7L1093.3 1271.3L1100.5 1270.7L1107.6 1269.9L1114.6 1268.9L1121.7 1267.7L1128.7 1266.4L1135.6 1265.0L1142.6 1263.3L1149.4 1261.6L1156.3 1259.7L1163.1 1257.7L1169.8 1255.6L1176.5 1253.3L1183.1 1251.0L1189.7 1248.6L1196.3 1246.1L1202.7 1243.5L1209.2 1240.9L1215.6 1238.2L1221.9 1235.5L1228.3 1232.8L1234.6 1230.0L1240.9 1226.9L1247.0 1223.7L1253.1 1220.3L1259.0 1216.8L1264.9 1213.2L1270.7 1209.7L1276.4 1206.0L1282.1 1202.3L1287.8 1198.5L1294.0 1194.4L1300.4 1190.0L1306.2 1186.1L1310.2 1183.4L1309.8 1182.9L1305.7 1185.3L1299.7 1188.8L1292.9 1192.7L1286.5 1196.4L1280.6 1199.7L1274.6 1202.9L1268.6 1206.1L1262.6 1209.3L1256.6 1212.7L1250.7 1216.0L1244.7 1219.3L1238.6 1222.4L1232.5 1225.2L1226.2 1227.9L1219.8 1230.5L1213.5 1233.1L1207.1 1235.7L1200.6 1238.2L1194.2 1240.7L1187.7 1243.2L1181.2 1245.5L1174.6 1247.8L1168.0 1249.9L1161.3 1252.0L1154.6 1254.0L1147.9 1255.8L1141.1 1257.5L1134.3 1259.1L1127.5 1260.6L1120.6 1261.9L1113.7 1263.0L1106.8 1264.0L1099.9 1264.7L1092.9 1265.3L1085.9 1265.8L1078.9 1266.0L1072.0 1266.1L1065.0 1265.9L1058.0 1265.6L1051.0 1265.2L1044.0 1264.6L1037.0 1263.8L1030.1 1262.9L1023.2 1261.8L1016.3 1260.6L1009.4 1259.3L1002.6 1257.8L995.8 1256.2L989.0 1254.4L982.3 1252.6L975.6 1250.6L968.9 1248.5L962.3 1246.3L955.7 1244.0L949.2 1241.5L942.7 1239.0L936.3 1236.4L929.8 1233.6L923.5 1230.8L917.3 1228.0L911.3 1225.2L905.4 1222.4L899.7 1219.6L894.0 1216.7L888.4 1213.6L882.7 1210.5L877.2 1207.3L871.7 1204.0L866.2 1200.6L860.8 1197.1L855.5 1193.5L850.2 1189.9L845.0 1186.2L839.9 1182.4L834.8 1178.5L829.8 1174.6L824.8 1170.6L820.0 1166.6L815.1 1162.4L810.4 1158.2L805.7 1154.0L801.1 1149.7L796.6 1145.3L792.1 1140.9L787.7 1136.4L783.3 1131.8L779.1 1127.2L774.9 1122.6L770.7 1117.9L766.7 1113.2L762.7 1108.4L758.8 1103.5L754.9 1098.7L751.2 1093.7L747.5 1088.7L743.9 1083.7L740.4 1078.6L737.0 1073.5L733.6 1068.3L730.4 1063.1L727.2 1057.9L724.1 1052.6L721.1 1047.2L718.2 1041.9L715.4 1036.5L712.6 1031.0L709.9 1025.6L707.3 1020.1L704.8 1014.6L702.3 1009.1L700.0 1003.5L697.7 998.0L695.4 992.4L693.3 986.8L691.2 981.2L689.2 975.5L687.3 969.9L685.5 964.2L683.7 958.5L681.9 952.9L680.0 947.3L678.2 941.7L676.4 936.1L674.7 930.4L672.9 923.8L671.0 916.8L669.4 910.4L668.3 906.0ZM1005.2 257.9L1000.0 258.5L992.6 259.5L984.2 260.6L976.3 261.7L969.2 262.9L962.0 264.2L954.8 265.6L947.7 267.1L940.6 268.8L933.5 270.5L926.4 272.4L919.4 274.4L912.4 276.5L905.4 278.6L898.4 280.9L891.5 283.2L884.6 285.7L877.7 288.2L870.9 290.9L864.1 293.6L857.3 296.5L850.6 299.4L843.9 302.5L837.3 305.7L830.7 308.9L824.1 312.4L817.7 315.8L811.3 319.4L805.2 322.9L799.2 326.5L793.3 330.2L787.4 334.0L781.6 337.9L775.8 341.9L770.1 346.0L764.5 350.1L758.9 354.4L753.4 358.7L747.9 363.1L742.5 367.6L737.2 372.1L732.0 376.7L726.8 381.4L721.7 386.2L716.6 391.0L711.6 395.9L706.7 400.9L701.8 405.9L697.0 411.0L692.3 416.1L687.7 421.3L683.1 426.6L678.6 431.9L674.2 437.3L669.9 442.8L665.6 448.3L661.4 453.9L657.3 459.5L653.3 465.2L649.4 470.9L645.5 476.7L641.7 482.5L638.0 488.4L634.3 494.3L630.8 500.2L627.3 506.2L623.8 512.3L620.5 518.3L617.2 524.4L614.0 530.6L610.9 536.7L607.9 543.0L605.0 549.3L602.2 555.6L599.6 562.0L597.0 568.4L594.3 575.5L591.6 583.0L589.2 589.7L587.6 594.4L588.1 594.6L590.0 590.0L592.7 583.4L595.8 576.1L598.7 569.1L601.6 562.9L604.5 556.6L607.4 550.4L610.4 544.2L613.5 538.0L616.6 531.9L619.7 525.8L623.0 519.7L626.3 513.6L629.7 507.6L633.2 501.7L636.7 495.7L640.4 489.9L644.1 484.0L647.8 478.2L651.7 472.5L655.6 466.8L659.6 461.1L663.7 455.5L667.8 450.0L672.1 444.5L676.4 439.1L680.7 433.7L685.2 428.4L689.7 423.1L694.4 417.9L699.1 412.8L703.8 407.8L708.6 402.8L713.5 397.8L718.5 393.0L723.5 388.2L728.6 383.4L733.8 378.8L739.0 374.2L744.3 369.6L749.7 365.2L755.1 360.8L760.6 356.5L766.1 352.3L771.7 348.2L777.4 344.1L783.1 340.1L788.9 336.3L794.7 332.5L800.6 328.8L806.6 325.3L812.7 321.7L819.0 318.2L825.4 314.7L831.9 311.3L838.5 308.1L845.1 304.9L851.7 301.9L858.4 298.9L865.1 296.1L871.8 293.3L878.6 290.7L885.5 288.2L892.3 285.7L899.2 283.4L906.2 281.1L913.1 279.0L920.1 276.9L927.1 275.0L934.1 273.1L941.2 271.4L948.3 269.7L955.3 268.0L962.4 266.4L969.5 264.9L976.6 263.4L984.5 262.0L992.7 260.5L1000.1 259.3L1005.3 258.5ZM571.6 647.1L570.4 651.8L568.6 658.7L566.7 666.4L565.1 673.8L563.7 680.5L562.3 687.3L561.1 694.0L560.1 700.8L559.1 707.7L558.3 714.5L557.6 721.3L557.0 728.2L556.4 735.0L555.9 741.8L555.5 748.7L555.1 755.6L554.9 762.3L554.7 769.1L554.5 775.9L554.5 783.0L554.5 790.4L554.7 798.1L554.9 805.8L555.2 813.5L555.6 821.1L556.2 828.7L556.8 836.3L557.5 843.9L558.4 851.5L559.3 859.1L560.3 866.7L561.5 874.2L562.7 881.8L564.1 889.3L565.5 896.8L567.1 904.3L568.7 911.8L570.5 919.2L572.4 926.6L574.3 934.1L576.4 941.5L578.6 948.9L580.9 956.2L583.2 963.4L585.6 970.4L588.0 977.1L590.5 983.8L593.1 990.5L595.8 997.1L598.6 1003.8L601.4 1010.4L604.4 1017.0L607.4 1023.6L610.5 1030.1L613.7 1036.6L617.0 1043.0L620.4 1049.4L623.8 1055.8L627.4 1062.1L631.0 1068.3L634.7 1074.5L638.6 1080.7L642.5 1086.8L646.4 1092.9L650.5 1098.9L654.7 1104.9L658.9 1110.8L663.3 1116.6L667.7 1122.4L672.2 1128.1L676.8 1133.7L681.5 1139.3L686.2 1144.8L691.1 1150.3L696.0 1155.6L701.0 1160.9L706.1 1166.1L711.3 1171.3L716.5 1176.4L721.9 1181.3L727.3 1186.3L732.7 1191.1L738.3 1195.9L743.9 1200.5L749.6 1205.0L755.4 1209.4L761.3 1213.8L767.3 1218.0L773.9 1222.5L781.0 1227.1L787.3 1231.2L791.7 1234.0L792.0 1233.5L787.7 1230.5L781.6 1226.1L774.8 1221.2L768.4 1216.5L762.6 1212.0L757.0 1207.5L751.3 1202.9L745.8 1198.2L740.2 1193.6L734.7 1188.8L729.3 1184.0L723.9 1179.2L718.6 1174.2L713.4 1169.2L708.3 1164.0L703.2 1158.8L698.2 1153.6L693.3 1148.2L688.5 1142.8L683.8 1137.4L679.1 1131.8L674.6 1126.2L670.1 1120.5L665.7 1114.8L661.4 1109.0L657.2 1103.1L653.1 1097.2L649.0 1091.2L645.1 1085.1L641.2 1079.1L637.4 1072.9L633.7 1066.7L630.1 1060.5L626.6 1054.2L623.2 1047.9L619.8 1041.5L616.6 1035.1L613.4 1028.7L610.3 1022.2L607.3 1015.7L604.4 1009.1L601.5 1002.5L598.8 995.9L596.1 989.3L593.5 982.6L591.0 976.0L588.6 969.3L586.2 962.4L583.9 955.3L581.7 948.0L579.5 940.6L577.4 933.2L575.4 925.9L573.6 918.5L571.8 911.1L570.2 903.6L568.6 896.2L567.2 888.7L565.8 881.2L564.6 873.7L563.4 866.2L562.4 858.7L561.4 851.2L560.6 843.6L559.8 836.1L559.2 828.5L558.7 820.9L558.2 813.3L557.9 805.7L557.7 798.0L557.6 790.4L557.5 783.0L557.6 776.0L557.7 769.2L557.9 762.4L558.2 755.7L558.5 748.9L558.9 742.0L559.4 735.2L560.0 728.4L560.6 721.6L561.4 714.8L562.2 708.0L563.1 701.3L563.9 694.5L564.9 687.7L565.9 680.9L567.0 674.1L568.3 666.8L569.8 659.0L571.2 652.0L572.2 647.2ZM842.4 1262.9L847.0 1265.2L853.8 1268.6L861.3 1272.3L868.6 1275.7L875.2 1278.7L881.8 1281.6L888.6 1284.4L895.5 1287.0L902.7 1289.7L910.1 1292.2L917.6 1294.6L925.1 1297.0L932.6 1299.2L940.1 1301.2L947.7 1303.2L955.3 1305.0L962.9 1306.8L970.5 1308.4L978.2 1309.9L985.8 1311.3L993.5 1312.6L1001.3 1313.8L1009.0 1314.8L1016.7 1315.8L1024.5 1316.6L1032.3 1317.3L1040.0 1318.0L1047.8 1318.5L1055.7 1318.9L1063.6 1319.1L1071.4 1319.3L1079.0 1319.4L1086.2 1319.4L1093.2 1319.3L1100.1 1319.0L1107.1 1318.7L1114.1 1318.3L1121.1 1317.8L1128.1 1317.3L1135.1 1316.6L1142.1 1315.8L1149.0 1315.0L1156.0 1314.1L1162.9 1313.0L1169.9 1311.9L1176.8 1310.8L1183.7 1309.5L1190.6 1308.2L1197.4 1306.8L1204.1 1305.3L1211.0 1303.8L1218.0 1302.0L1225.5 1300.1L1233.2 1298.1L1241.1 1295.9L1248.8 1293.6L1256.5 1291.3L1264.1 1288.8L1271.6 1286.3L1279.2 1283.6L1286.7 1280.9L1294.2 1278.0L1301.6 1275.0L1309.0 1271.9L1316.3 1268.6L1323.6 1265.2L1330.8 1261.6L1337.9 1258.0L1345.6 1253.7L1353.7 1249.1L1360.8 1245.0L1365.8 1242.1L1365.5 1241.5L1360.5 1244.3L1353.2 1248.3L1345.1 1252.7L1337.3 1256.7L1330.1 1260.2L1322.8 1263.5L1315.5 1266.7L1308.1 1269.8L1300.7 1272.8L1293.3 1275.8L1285.9 1278.6L1278.4 1281.3L1270.8 1283.9L1263.3 1286.4L1255.7 1288.8L1248.1 1291.1L1240.4 1293.4L1232.6 1295.5L1224.8 1297.6L1217.4 1299.4L1210.3 1301.1L1203.5 1302.7L1196.8 1304.1L1190.1 1305.5L1183.2 1306.8L1176.3 1308.1L1169.4 1309.2L1162.5 1310.3L1155.6 1311.3L1148.7 1312.2L1141.7 1313.1L1134.8 1313.8L1127.8 1314.5L1120.9 1315.1L1113.9 1315.5L1106.9 1315.9L1100.0 1316.2L1093.2 1316.5L1086.2 1316.6L1079.0 1316.6L1071.5 1316.5L1063.7 1316.3L1055.8 1316.1L1048.0 1315.7L1040.2 1315.2L1032.5 1314.5L1024.8 1313.8L1017.1 1313.0L1009.3 1312.0L1001.7 1311.0L994.0 1309.8L986.3 1308.6L978.7 1307.2L971.1 1305.7L963.5 1304.1L955.9 1302.3L948.4 1300.5L940.9 1298.5L933.4 1296.5L925.9 1294.3L918.5 1292.0L911.0 1289.5L903.7 1287.0L896.5 1284.4L889.5 1281.9L882.7 1279.4L876.0 1276.8L869.3 1274.1L862.0 1271.0L854.3 1267.6L847.4 1264.5L842.6 1262.3ZM1492.9 1072.9L1496.1 1069.3L1500.8 1064.2L1506.0 1058.5L1510.9 1053.1L1515.5 1048.1L1520.1 1043.1L1524.7 1038.0L1529.3 1032.9L1533.8 1027.7L1538.3 1022.4L1542.7 1017.0L1547.0 1011.6L1551.3 1006.1L1555.5 1000.5L1559.6 994.8L1563.6 989.0L1567.4 983.1L1571.0 977.2L1574.5 971.2L1578.2 964.9L1582.0 958.3L1586.0 951.5L1589.9 944.4L1593.6 937.3L1597.0 930.1L1600.2 922.8L1603.2 915.5L1606.1 908.1L1608.7 900.6L1611.2 893.0L1613.5 885.4L1615.6 877.7L1617.5 870.0L1619.2 862.2L1620.8 854.4L1622.1 846.5L1623.3 838.6L1624.2 830.7L1625.0 822.8L1625.5 814.8L1625.9 806.9L1626.0 798.9L1625.9 790.9L1625.8 783.0L1625.6 775.1L1625.2 767.3L1624.7 759.5L1624.1 751.7L1623.3 743.9L1622.4 736.1L1621.4 728.3L1620.2 720.6L1619.0 712.9L1617.5 705.2L1616.0 697.6L1614.4 689.9L1612.6 682.3L1610.7 674.8L1608.7 667.2L1606.6 659.7L1604.4 652.3L1602.1 644.9L1599.7 637.5L1597.1 630.2L1594.5 622.9L1591.8 615.6L1589.0 608.4L1586.1 601.2L1583.1 594.1L1580.0 586.9L1576.8 579.9L1573.6 573.0L1570.3 566.3L1566.9 559.8L1563.4 553.4L1559.8 547.0L1555.7 540.1L1551.2 532.8L1547.2 526.4L1544.4 522.0L1543.9 522.3L1546.5 526.9L1550.2 533.4L1554.4 540.8L1558.2 547.9L1561.5 554.3L1564.8 560.8L1568.0 567.4L1571.2 574.1L1574.4 581.0L1577.6 588.0L1580.7 595.1L1583.8 602.2L1586.7 609.3L1589.6 616.5L1592.3 623.7L1595.0 630.9L1597.5 638.2L1600.0 645.6L1602.3 652.9L1604.6 660.3L1606.7 667.8L1608.8 675.3L1610.7 682.8L1612.5 690.3L1614.2 697.9L1615.8 705.6L1617.2 713.2L1618.5 720.9L1619.7 728.6L1620.8 736.3L1621.7 744.1L1622.5 751.8L1623.1 759.6L1623.6 767.4L1624.0 775.2L1624.2 783.0L1624.3 790.9L1624.4 798.9L1624.3 806.8L1623.9 814.7L1623.4 822.6L1622.6 830.5L1621.7 838.4L1620.5 846.3L1619.2 854.1L1617.6 861.8L1615.9 869.6L1613.9 877.2L1611.7 884.9L1609.4 892.4L1606.8 899.9L1604.1 907.3L1601.1 914.6L1598.0 921.9L1594.7 929.0L1591.2 936.1L1587.6 943.2L1583.7 950.1L1579.7 957.0L1575.9 963.6L1572.3 969.9L1568.7 975.9L1565.2 981.7L1561.5 987.5L1557.5 993.3L1553.4 998.9L1549.2 1004.5L1545.0 1010.0L1540.7 1015.4L1536.2 1020.7L1531.8 1026.0L1527.3 1031.2L1522.9 1036.4L1518.5 1041.6L1514.1 1046.8L1509.7 1051.9L1504.9 1057.6L1499.9 1063.5L1495.5 1068.8L1492.4 1072.5ZM1511.0 474.1L1507.8 469.9L1503.2 464.0L1498.0 457.3L1493.0 451.1L1488.3 445.6L1483.6 440.0L1478.7 434.6L1473.8 429.2L1468.8 424.0L1463.8 418.8L1458.6 413.7L1453.4 408.6L1447.9 403.4L1442.3 398.3L1436.7 393.2L1431.0 388.1L1425.2 383.2L1419.4 378.3L1413.5 373.5L1407.6 368.8L1401.6 364.2L1395.6 359.6L1389.4 355.1L1383.3 350.8L1377.0 346.4L1370.8 342.2L1364.4 338.1L1358.0 334.0L1351.6 330.0L1345.1 326.1L1338.5 322.3L1331.9 318.6L1325.2 315.0L1318.5 311.5L1311.8 308.0L1305.0 304.7L1298.1 301.4L1291.3 298.3L1284.4 295.2L1277.3 292.2L1270.1 289.2L1262.8 286.3L1255.5 283.4L1248.1 280.7L1240.7 278.0L1233.2 275.5L1225.8 273.0L1218.3 270.6L1210.7 268.4L1203.1 266.2L1195.5 264.1L1187.9 262.2L1180.2 260.3L1172.5 258.6L1164.7 257.0L1156.9 255.5L1149.3 254.2L1141.7 253.0L1133.9 251.8L1125.6 250.7L1116.8 249.6L1107.4 248.3L1097.9 247.3L1088.4 246.4L1078.2 245.9L1067.3 245.7L1057.6 245.5L1050.9 245.4L1050.8 246.0L1057.6 246.3L1067.3 246.8L1078.1 247.3L1088.3 248.1L1097.7 249.2L1107.1 250.5L1116.4 252.0L1125.3 253.3L1133.5 254.5L1141.3 255.6L1148.8 256.8L1156.5 258.1L1164.2 259.6L1171.9 261.2L1179.6 262.9L1187.2 264.7L1194.8 266.7L1202.4 268.7L1210.0 270.9L1217.5 273.1L1225.0 275.5L1232.4 278.0L1239.8 280.5L1247.2 283.2L1254.5 285.9L1261.9 288.8L1269.1 291.7L1276.3 294.7L1283.3 297.7L1290.2 300.7L1297.0 303.9L1303.8 307.1L1310.6 310.5L1317.3 313.9L1323.9 317.4L1330.6 321.0L1337.1 324.7L1343.7 328.5L1350.1 332.4L1356.5 336.4L1362.9 340.4L1369.2 344.6L1375.4 348.8L1381.6 353.1L1387.8 357.5L1393.8 361.9L1399.9 366.5L1405.8 371.1L1411.7 375.8L1417.6 380.5L1423.4 385.4L1429.1 390.3L1434.8 395.3L1440.4 400.4L1445.9 405.6L1451.4 410.7L1456.6 415.8L1461.7 420.9L1466.7 426.0L1471.7 431.2L1476.8 436.4L1481.7 441.7L1486.7 447.0L1491.6 452.3L1496.8 458.3L1502.3 464.7L1507.1 470.4L1510.5 474.4ZM1002.5 238.6L997.1 239.4L989.5 240.5L980.9 241.9L972.8 243.3L965.4 244.8L958.0 246.3L950.7 247.9L943.3 249.7L936.0 251.6L928.8 253.6L921.6 255.8L914.4 258.0L907.2 260.3L900.1 262.7L893.0 265.2L885.9 267.8L878.9 270.5L871.9 273.3L865.0 276.2L858.0 279.2L851.2 282.3L844.4 285.5L837.6 288.8L830.8 292.1L824.2 295.6L817.5 299.1L810.9 302.8L804.4 306.5L797.9 310.3L791.5 314.2L785.1 318.2L778.8 322.3L772.5 326.4L766.3 330.7L760.1 335.0L754.0 339.4L748.0 343.9L742.0 348.5L736.1 353.1L730.3 357.9L724.5 362.7L718.8 367.6L713.1 372.6L707.5 377.6L702.0 382.7L696.6 387.9L691.2 393.2L685.9 398.5L680.7 403.9L675.5 409.4L670.4 415.0L665.4 420.6L660.5 426.3L655.7 432.0L650.9 437.9L646.2 443.7L641.6 449.7L637.0 455.7L632.6 461.8L628.2 467.9L624.0 474.1L619.8 480.3L615.6 486.6L611.6 493.0L607.7 499.4L603.8 505.9L600.1 512.4L596.4 519.0L592.8 525.6L589.3 532.3L585.9 539.0L582.6 545.8L579.4 552.6L576.3 559.4L573.3 566.3L570.3 573.2L567.5 580.2L564.7 587.2L562.1 594.3L559.6 601.4L557.2 608.5L554.9 615.7L552.7 622.9L550.6 630.1L548.5 638.1L546.4 646.5L544.6 654.1L543.3 659.3L543.9 659.5L545.2 654.2L547.2 646.7L549.5 638.3L551.7 630.4L553.9 623.3L556.3 616.1L558.7 609.0L561.2 601.9L563.7 594.9L566.4 587.8L569.1 580.9L571.9 573.9L574.8 567.0L577.8 560.1L580.9 553.3L584.2 546.5L587.4 539.7L590.8 533.1L594.3 526.4L597.9 519.8L601.5 513.2L605.3 506.7L609.1 500.3L613.1 493.9L617.1 487.6L621.2 481.3L625.4 475.0L629.6 468.9L634.0 462.8L638.4 456.7L642.9 450.7L647.5 444.8L652.2 438.9L657.0 433.1L661.8 427.4L666.7 421.7L671.7 416.1L676.8 410.6L681.9 405.1L687.1 399.7L692.4 394.4L697.8 389.1L703.2 384.0L708.7 378.9L714.2 373.8L719.9 368.9L725.6 364.0L731.3 359.2L737.2 354.5L743.1 349.8L749.0 345.3L755.0 340.8L761.1 336.4L767.2 332.1L773.4 327.8L779.7 323.7L786.0 319.6L792.4 315.7L798.8 311.8L805.2 308.0L811.8 304.2L818.3 300.6L824.9 297.1L831.6 293.6L838.3 290.3L845.1 287.0L851.9 283.9L858.7 280.8L865.6 277.8L872.5 274.9L879.5 272.1L886.5 269.4L893.6 266.8L900.6 264.3L907.7 261.9L914.9 259.6L922.1 257.4L929.3 255.3L936.5 253.3L943.8 251.4L951.0 249.5L958.3 247.7L965.6 246.0L973.0 244.4L981.0 242.9L989.6 241.3L997.2 240.1L1002.6 239.1ZM529.5 763.8L529.4 769.1L529.2 776.6L529.1 785.0L529.1 793.0L529.2 800.3L529.4 807.7L529.7 815.0L530.1 822.3L530.7 829.5L531.4 836.8L532.2 844.1L533.0 851.4L534.0 858.6L535.1 865.8L536.2 873.1L537.5 880.3L538.9 887.4L540.3 894.6L541.9 901.8L543.5 908.9L545.2 916.0L547.1 923.1L549.0 930.1L551.0 937.1L553.1 944.1L555.3 951.1L557.6 958.0L560.0 964.9L562.5 971.8L565.0 978.7L567.7 985.5L570.4 992.2L573.3 999.0L576.2 1005.7L579.2 1012.3L582.3 1018.9L585.5 1025.5L588.8 1032.1L592.1 1038.5L595.6 1045.0L599.1 1051.4L602.7 1057.7L606.4 1064.0L610.2 1070.3L614.0 1076.5L618.0 1082.7L622.0 1088.8L626.1 1094.8L630.3 1100.8L634.5 1106.7L638.9 1112.6L643.3 1118.4L647.8 1124.2L652.3 1129.9L657.0 1135.6L661.7 1141.1L666.5 1146.7L671.3 1152.1L676.3 1157.5L681.3 1162.8L686.3 1168.1L691.5 1173.3L696.7 1178.4L702.0 1183.5L707.3 1188.5L712.7 1193.4L718.2 1198.2L723.7 1203.0L729.3 1207.7L735.0 1212.3L740.7 1216.9L746.5 1221.3L752.4 1225.7L758.3 1230.0L764.2 1234.3L770.2 1238.4L776.3 1242.5L782.4 1246.5L788.6 1250.4L794.8 1254.2L801.1 1257.9L807.5 1261.5L813.9 1265.0L820.4 1268.4L827.5 1272.0L835.1 1275.8L841.9 1279.0L846.6 1281.3L846.9 1280.7L842.2 1278.4L835.5 1275.0L828.0 1271.2L820.9 1267.5L814.5 1263.9L808.2 1260.3L802.0 1256.6L795.7 1252.8L789.5 1248.9L783.4 1245.0L777.2 1241.1L771.2 1237.0L765.2 1232.9L759.3 1228.7L753.4 1224.4L747.5 1220.0L741.8 1215.5L736.1 1211.0L730.4 1206.4L724.8 1201.7L719.3 1196.9L713.9 1192.1L708.5 1187.2L703.1 1182.2L697.9 1177.2L692.7 1172.1L687.5 1166.9L682.5 1161.7L677.5 1156.4L672.6 1151.0L667.7 1145.5L663.0 1140.0L658.3 1134.5L653.7 1128.8L649.1 1123.2L644.6 1117.4L640.2 1111.6L635.9 1105.7L631.7 1099.8L627.5 1093.8L623.4 1087.8L619.4 1081.7L615.5 1075.6L611.6 1069.4L607.9 1063.2L604.2 1056.9L600.6 1050.6L597.1 1044.2L593.6 1037.8L590.3 1031.3L587.0 1024.8L583.8 1018.2L580.8 1011.6L577.7 1005.0L574.8 998.3L572.0 991.6L569.3 984.8L566.6 978.1L564.1 971.2L561.6 964.4L559.2 957.5L556.9 950.6L554.7 943.6L552.6 936.6L550.6 929.6L548.7 922.6L546.9 915.6L545.1 908.5L543.5 901.4L542.0 894.3L540.5 887.1L539.2 880.0L537.9 872.8L536.8 865.6L535.7 858.4L534.7 851.1L533.9 843.9L533.1 836.7L532.4 829.4L531.8 822.1L531.3 814.9L530.8 807.6L530.4 800.3L530.2 793.0L530.1 785.0L530.1 776.6L530.1 769.1L530.1 763.8ZM927.5 1311.5L932.6 1312.9L940.0 1314.9L948.3 1317.1L956.1 1319.1L963.3 1320.8L970.6 1322.4L977.9 1323.9L985.2 1325.2L992.5 1326.4L999.8 1327.5L1007.2 1328.5L1014.5 1329.4L1021.9 1330.2L1029.3 1330.9L1036.7 1331.6L1044.1 1332.1L1051.5 1332.5L1058.9 1332.8L1066.3 1333.0L1073.8 1333.1L1081.2 1333.1L1088.6 1333.0L1096.0 1332.8L1103.4 1332.5L1110.8 1332.1L1118.2 1331.6L1125.6 1331.0L1133.0 1330.3L1140.4 1329.5L1147.8 1328.6L1155.1 1327.6L1162.4 1326.6L1169.8 1325.4L1177.1 1324.1L1184.4 1322.7L1191.6 1321.2L1198.9 1319.7L1206.1 1318.0L1213.3 1316.2L1220.5 1314.3L1227.6 1312.4L1234.7 1310.3L1241.8 1308.2L1248.9 1305.9L1255.9 1303.6L1263.0 1301.2L1269.9 1298.6L1276.9 1296.0L1283.8 1293.3L1290.6 1290.5L1297.5 1287.6L1304.3 1284.6L1311.0 1281.6L1317.7 1278.4L1324.4 1275.1L1331.0 1271.8L1337.6 1268.4L1344.1 1264.8L1350.6 1261.2L1357.0 1257.5L1363.4 1253.8L1369.7 1249.9L1376.0 1245.9L1382.2 1241.9L1388.4 1237.8L1394.5 1233.6L1400.6 1229.3L1406.6 1224.9L1412.5 1220.5L1418.4 1216.0L1424.2 1211.4L1430.0 1206.7L1435.6 1201.9L1441.3 1197.1L1446.8 1192.2L1452.3 1187.2L1457.8 1182.1L1463.1 1177.0L1468.4 1171.8L1473.6 1166.5L1478.7 1161.1L1483.7 1155.7L1488.7 1150.1L1493.5 1144.5L1498.7 1138.3L1504.1 1131.6L1508.9 1125.7L1512.2 1121.5L1511.8 1121.1L1508.4 1125.2L1503.5 1131.1L1498.0 1137.7L1492.7 1143.8L1487.7 1149.3L1482.7 1154.7L1477.6 1160.0L1472.4 1165.3L1467.2 1170.6L1461.9 1175.8L1456.6 1180.9L1451.2 1185.9L1445.7 1190.9L1440.2 1195.8L1434.5 1200.6L1428.9 1205.4L1423.1 1210.0L1417.3 1214.6L1411.5 1219.1L1405.6 1223.6L1399.6 1227.9L1393.5 1232.2L1387.4 1236.4L1381.3 1240.5L1375.1 1244.5L1368.8 1248.5L1362.5 1252.3L1356.1 1256.1L1349.7 1259.8L1343.3 1263.4L1336.8 1266.9L1330.2 1270.3L1323.6 1273.6L1317.0 1276.9L1310.3 1280.0L1303.6 1283.1L1296.8 1286.1L1290.0 1288.9L1283.1 1291.7L1276.3 1294.4L1269.3 1297.0L1262.4 1299.6L1255.4 1302.0L1248.4 1304.3L1241.3 1306.6L1234.3 1308.7L1227.2 1310.8L1220.0 1312.7L1212.9 1314.6L1205.7 1316.3L1198.5 1318.0L1191.3 1319.6L1184.0 1321.0L1176.8 1322.4L1169.5 1323.7L1162.2 1324.9L1154.9 1326.0L1147.5 1327.0L1140.2 1327.8L1132.8 1328.6L1125.5 1329.3L1118.1 1329.9L1110.7 1330.4L1103.4 1330.8L1096.0 1331.1L1088.6 1331.3L1081.2 1331.4L1073.8 1331.4L1066.4 1331.3L1059.0 1331.1L1051.6 1330.8L1044.2 1330.4L1036.8 1329.9L1029.5 1329.3L1022.1 1328.5L1014.7 1327.7L1007.4 1326.8L1000.1 1325.8L992.8 1324.7L985.5 1323.5L978.2 1322.3L970.9 1321.0L963.6 1319.6L956.4 1318.0L948.5 1316.2L940.2 1314.1L932.8 1312.2L927.6 1310.9ZM1564.4 1041.1L1566.9 1036.4L1570.4 1029.6L1574.2 1022.0L1577.8 1014.8L1580.9 1008.1L1584.0 1001.4L1586.9 994.6L1589.8 987.8L1592.5 980.9L1595.1 974.0L1597.6 967.0L1600.0 960.0L1602.3 953.0L1604.5 946.0L1606.7 938.9L1608.7 931.8L1610.6 924.7L1612.5 917.5L1614.2 910.4L1615.9 903.2L1617.4 895.9L1618.9 888.7L1620.2 881.4L1621.5 874.2L1622.7 866.9L1623.7 859.6L1624.7 852.2L1625.5 844.9L1626.3 837.6L1627.0 830.2L1627.6 822.8L1628.0 815.5L1628.4 808.1L1628.7 800.7L1628.9 793.3L1628.9 786.0L1628.9 778.6L1628.8 771.2L1628.6 763.8L1628.3 756.4L1627.9 749.1L1627.3 741.7L1626.7 734.3L1626.0 727.0L1625.2 719.7L1624.3 712.3L1623.3 705.0L1622.2 697.7L1621.0 690.4L1619.7 683.2L1618.3 675.9L1616.8 668.7L1615.3 661.5L1613.6 654.3L1611.8 647.1L1609.9 640.0L1608.0 632.9L1605.9 625.8L1603.8 618.7L1601.5 611.7L1599.2 604.7L1596.7 597.7L1594.2 590.8L1591.6 583.9L1588.9 577.0L1586.1 570.2L1583.2 563.4L1580.2 556.6L1577.1 549.9L1574.0 543.2L1570.7 536.6L1567.4 530.0L1563.9 523.5L1560.4 517.0L1556.8 510.5L1553.1 504.2L1549.3 497.8L1545.5 491.5L1541.5 485.3L1537.5 479.1L1533.4 472.9L1529.2 466.9L1524.9 460.8L1520.6 454.9L1516.1 449.0L1511.6 443.1L1507.0 437.3L1502.4 431.6L1497.6 425.9L1492.8 420.4L1487.9 414.8L1482.9 409.4L1477.9 404.0L1472.8 398.6L1467.6 393.4L1462.3 388.2L1457.0 383.1L1451.5 378.1L1446.0 373.2L1440.4 368.4L1434.2 363.2L1427.6 357.8L1421.6 353.1L1417.5 349.8L1417.1 350.2L1421.2 353.6L1427.1 358.5L1433.6 363.9L1439.7 369.2L1445.1 374.1L1450.5 379.2L1455.9 384.3L1461.1 389.4L1466.4 394.6L1471.5 399.8L1476.7 405.1L1481.7 410.5L1486.6 416.0L1491.5 421.5L1496.3 427.0L1501.1 432.7L1505.7 438.4L1510.3 444.2L1514.8 450.0L1519.2 455.9L1523.6 461.8L1527.8 467.8L1532.0 473.9L1536.1 480.0L1540.1 486.2L1544.0 492.4L1547.9 498.7L1551.7 505.0L1555.3 511.4L1558.9 517.8L1562.4 524.3L1565.8 530.8L1569.2 537.4L1572.4 544.0L1575.6 550.6L1578.6 557.3L1581.6 564.1L1584.5 570.8L1587.3 577.6L1590.0 584.5L1592.6 591.4L1595.1 598.3L1597.6 605.2L1599.9 612.2L1602.1 619.2L1604.3 626.3L1606.3 633.3L1608.3 640.4L1610.2 647.5L1611.9 654.7L1613.6 661.8L1615.2 669.0L1616.7 676.2L1618.0 683.5L1619.3 690.7L1620.5 698.0L1621.6 705.3L1622.6 712.5L1623.5 719.9L1624.3 727.2L1625.0 734.5L1625.6 741.8L1626.2 749.2L1626.6 756.5L1626.9 763.9L1627.1 771.2L1627.2 778.6L1627.2 785.9L1627.2 793.3L1627.0 800.7L1626.7 808.0L1626.3 815.4L1625.9 822.7L1625.3 830.1L1624.6 837.4L1623.9 844.7L1623.0 852.0L1622.0 859.3L1621.0 866.6L1619.8 873.9L1618.6 881.1L1617.2 888.4L1615.8 895.6L1614.2 902.8L1612.6 910.0L1610.8 917.1L1609.0 924.3L1607.1 931.4L1605.0 938.4L1602.9 945.5L1600.7 952.5L1598.4 959.5L1596.0 966.5L1593.5 973.4L1590.9 980.3L1588.2 987.1L1585.5 994.0L1582.7 1000.8L1579.8 1007.6L1576.8 1014.3L1573.4 1021.6L1569.6 1029.3L1566.3 1036.1L1563.9 1040.8ZM1353.9 306.9L1348.6 303.9L1341.0 299.7L1332.5 295.1L1324.4 290.8L1316.9 287.1L1309.3 283.5L1301.6 280.0L1293.9 276.7L1286.2 273.5L1278.3 270.4L1270.5 267.5L1262.6 264.6L1254.6 261.9L1246.6 259.3L1238.6 256.8L1230.6 254.5L1222.5 252.2L1214.4 250.0L1206.2 248.0L1198.0 246.1L1189.8 244.3L1181.6 242.6L1173.3 241.1L1165.1 239.7L1156.7 238.5L1148.4 237.4L1140.1 236.4L1131.7 235.6L1122.6 234.9L1112.9 234.3L1104.2 233.9L1098.2 233.5L1098.2 234.1L1104.2 234.5L1112.8 235.1L1122.5 235.8L1131.6 236.7L1139.9 237.7L1148.2 238.8L1156.5 240.0L1164.8 241.4L1173.0 242.8L1181.3 244.4L1189.5 246.0L1197.7 247.8L1205.8 249.7L1213.9 251.7L1222.0 253.8L1230.1 256.1L1238.1 258.4L1246.1 260.9L1254.1 263.5L1262.0 266.2L1269.9 269.1L1277.7 272.0L1285.5 275.1L1293.3 278.2L1301.0 281.5L1308.7 284.8L1316.3 288.3L1323.9 291.8L1332.1 295.9L1340.7 300.5L1348.3 304.5L1353.6 307.4ZM1581.6 648.3L1580.2 643.6L1578.3 636.9L1576.2 629.3L1574.0 622.2L1571.8 615.7L1569.6 609.2L1567.3 602.8L1564.9 596.5L1562.3 590.2L1559.6 583.9L1556.9 577.7L1554.0 571.5L1551.1 565.3L1548.1 559.2L1545.0 553.1L1541.9 547.1L1538.7 541.1L1535.4 535.2L1532.0 529.3L1528.5 523.4L1525.0 517.6L1521.4 511.9L1517.7 506.2L1514.0 500.5L1510.1 494.9L1506.2 489.4L1502.2 483.9L1498.1 478.4L1494.0 473.1L1489.8 467.7L1485.6 462.5L1481.2 457.2L1476.9 452.1L1472.4 447.0L1467.9 441.9L1463.4 436.9L1458.8 432.0L1454.2 427.2L1449.5 422.3L1444.6 417.4L1439.5 412.2L1434.1 406.9L1428.6 401.6L1423.1 396.4L1417.5 391.3L1411.9 386.4L1406.1 381.4L1400.3 376.6L1393.8 371.6L1386.9 366.3L1380.6 361.7L1376.3 358.4L1375.9 358.9L1380.2 362.3L1386.3 367.1L1393.1 372.5L1399.4 377.7L1405.1 382.7L1410.6 387.7L1416.1 392.9L1421.6 398.0L1427.1 403.2L1432.5 408.5L1437.9 413.8L1443.1 418.9L1448.0 423.9L1452.7 428.7L1457.2 433.5L1461.8 438.4L1466.3 443.4L1470.8 448.4L1475.2 453.5L1479.6 458.7L1483.9 463.9L1488.1 469.1L1492.3 474.4L1496.4 479.8L1500.4 485.2L1504.4 490.7L1508.3 496.2L1512.1 501.7L1515.9 507.4L1519.5 513.1L1523.1 518.8L1526.7 524.6L1530.1 530.4L1533.5 536.3L1536.7 542.2L1540.0 548.2L1543.1 554.2L1546.2 560.2L1549.1 566.3L1552.0 572.4L1554.9 578.6L1557.6 584.8L1560.2 591.0L1562.8 597.3L1565.4 603.6L1567.9 609.9L1570.3 616.2L1572.6 622.6L1575.0 629.7L1577.4 637.1L1579.5 643.8L1581.0 648.5ZM901.7 296.0L897.1 297.6L890.5 299.9L883.1 302.6L876.2 305.2L869.9 307.7L863.6 310.2L857.3 312.8L851.0 315.6L844.9 318.4L838.7 321.4L832.7 324.5L826.6 327.6L820.6 330.9L814.6 334.2L808.7 337.6L802.9 341.1L797.1 344.7L791.4 348.4L785.7 352.2L780.1 356.1L774.6 360.2L769.1 364.3L763.8 368.5L758.5 372.8L753.2 377.1L748.1 381.6L743.0 386.2L738.0 390.8L733.0 395.5L728.2 400.2L723.4 405.0L718.7 409.9L714.0 414.9L709.5 419.9L705.0 425.0L700.6 430.2L695.9 435.9L690.9 441.9L686.5 447.4L683.5 451.1L684.0 451.5L687.1 447.8L691.7 442.5L696.8 436.6L701.7 431.1L706.3 426.1L710.9 421.2L715.5 416.3L720.2 411.4L725.0 406.6L729.8 401.8L734.6 397.0L739.5 392.4L744.5 387.8L749.5 383.3L754.7 378.8L759.9 374.5L765.1 370.2L770.5 366.0L775.9 361.9L781.4 357.9L786.9 354.1L792.6 350.3L798.3 346.6L804.0 343.0L809.9 339.5L815.7 336.1L821.7 332.8L827.6 329.6L833.7 326.5L839.7 323.4L845.8 320.5L852.0 317.6L858.1 314.7L864.3 311.9L870.5 309.2L876.7 306.5L883.6 303.7L890.9 300.8L897.4 298.3L901.9 296.5ZM847.3 1279.9L852.0 1282.1L858.7 1285.2L866.3 1288.6L873.5 1291.7L880.1 1294.4L886.9 1297.0L893.6 1299.5L900.4 1301.8L907.2 1304.0L914.1 1306.1L921.0 1308.1L927.9 1310.0L934.9 1311.8L941.8 1313.5L948.8 1315.1L955.8 1316.7L962.7 1318.2L969.6 1319.6L976.7 1320.9L983.9 1322.2L991.6 1323.4L999.5 1324.6L1007.5 1325.8L1015.4 1326.8L1023.4 1327.7L1031.3 1328.4L1039.2 1329.1L1047.2 1329.6L1055.1 1330.1L1063.1 1330.4L1071.0 1330.6L1079.0 1330.7L1087.0 1330.7L1094.9 1330.6L1102.9 1330.4L1110.9 1330.1L1118.8 1329.6L1126.8 1329.0L1134.7 1328.3L1142.6 1327.5L1150.6 1326.6L1158.5 1325.6L1166.4 1324.4L1174.2 1323.2L1182.1 1321.8L1189.9 1320.3L1197.8 1318.7L1205.5 1317.0L1213.3 1315.2L1221.1 1313.3L1228.8 1311.2L1236.5 1309.1L1244.1 1306.8L1251.8 1304.5L1259.4 1302.0L1266.9 1299.4L1274.5 1296.7L1282.0 1294.0L1289.4 1291.0L1296.8 1288.0L1304.1 1284.8L1311.4 1281.4L1318.6 1277.9L1325.7 1274.3L1333.4 1270.1L1341.5 1265.6L1348.7 1261.5L1353.6 1258.7L1353.4 1258.2L1348.2 1260.8L1340.9 1264.6L1332.7 1268.7L1324.9 1272.5L1317.6 1275.8L1310.3 1279.1L1303.0 1282.2L1295.6 1285.2L1288.3 1288.2L1280.9 1291.1L1273.4 1293.9L1266.0 1296.6L1258.4 1299.2L1250.9 1301.6L1243.3 1304.0L1235.7 1306.2L1228.0 1308.3L1220.3 1310.4L1212.6 1312.3L1204.9 1314.1L1197.1 1315.8L1189.4 1317.4L1181.6 1318.8L1173.7 1320.2L1165.9 1321.5L1158.1 1322.6L1150.2 1323.6L1142.3 1324.6L1134.4 1325.4L1126.5 1326.0L1118.6 1326.6L1110.7 1327.1L1102.8 1327.4L1094.9 1327.6L1086.9 1327.7L1079.0 1327.8L1071.1 1327.6L1063.2 1327.4L1055.3 1327.1L1047.3 1326.7L1039.4 1326.1L1031.5 1325.4L1023.7 1324.7L1015.8 1323.8L1007.9 1322.8L999.9 1321.7L992.0 1320.5L984.4 1319.2L977.2 1318.0L970.2 1316.6L963.3 1315.2L956.4 1313.8L949.5 1312.2L942.5 1310.6L935.6 1308.9L928.7 1307.1L921.8 1305.1L915.0 1303.2L908.1 1301.1L901.3 1299.0L894.5 1296.8L887.7 1294.6L880.9 1292.3L874.2 1289.9L866.9 1287.1L859.2 1284.1L852.3 1281.3L847.5 1279.4ZM1265.2 1105.4L1268.2 1103.5L1272.5 1100.8L1277.2 1097.7L1281.6 1094.6L1285.5 1091.5L1289.3 1088.3L1293.0 1085.0L1296.6 1081.6L1300.0 1078.1L1303.3 1074.5L1306.5 1070.9L1309.8 1067.3L1313.0 1063.8L1316.2 1060.2L1319.4 1056.7L1322.7 1053.3L1326.0 1050.0L1329.3 1046.7L1332.6 1043.5L1336.1 1040.3L1339.6 1037.3L1343.3 1034.3L1347.0 1031.3L1350.8 1028.3L1354.6 1025.4L1358.5 1022.5L1362.4 1019.6L1366.4 1016.6L1370.4 1013.7L1374.5 1010.7L1378.5 1007.7L1382.6 1004.5L1386.6 1001.4L1390.7 998.2L1394.7 994.9L1398.6 991.5L1402.4 988.0L1406.0 984.4L1409.7 980.9L1413.6 977.2L1417.9 973.5L1422.6 969.7L1427.4 965.8L1432.1 961.6L1436.6 957.3L1441.1 952.9L1445.4 948.3L1449.5 943.5L1453.4 937.9L1457.2 931.9L1460.4 926.5L1462.6 922.7L1462.1 922.4L1459.3 925.8L1455.3 930.6L1450.8 935.9L1446.3 940.8L1441.9 944.9L1437.3 949.0L1432.6 953.0L1428.0 957.0L1423.3 960.9L1418.6 964.9L1414.0 968.9L1409.5 972.8L1405.5 976.5L1401.9 980.2L1398.3 983.7L1394.7 987.1L1390.9 990.4L1387.0 993.7L1383.1 996.9L1379.1 1000.1L1375.1 1003.1L1371.1 1006.2L1367.1 1009.2L1363.1 1012.2L1359.1 1015.1L1355.2 1018.1L1351.2 1021.0L1347.4 1024.0L1343.6 1027.0L1339.8 1030.0L1336.1 1033.1L1332.4 1036.2L1328.9 1039.5L1325.4 1042.8L1322.1 1046.1L1318.7 1049.5L1315.4 1053.0L1312.2 1056.5L1308.9 1060.1L1305.7 1063.6L1302.4 1067.2L1299.2 1070.7L1295.9 1074.3L1292.6 1077.8L1289.3 1081.4L1286.0 1085.0L1282.7 1088.5L1279.3 1091.9L1275.5 1095.5L1271.3 1099.3L1267.5 1102.6L1264.8 1104.9ZM1464.6 1168.6L1468.1 1164.8L1473.1 1159.5L1478.7 1153.4L1483.9 1147.6L1488.5 1142.1L1493.0 1136.6L1497.5 1131.0L1501.8 1125.3L1506.0 1119.5L1510.1 1113.7L1514.1 1107.8L1518.0 1101.9L1521.9 1096.0L1525.8 1090.0L1529.5 1084.0L1533.2 1077.9L1536.9 1071.9L1540.5 1065.8L1544.0 1059.6L1547.5 1053.5L1551.0 1047.3L1554.4 1041.1L1557.8 1034.9L1561.1 1028.7L1564.4 1022.4L1567.7 1016.1L1570.8 1009.8L1573.9 1003.4L1577.0 997.0L1579.9 990.5L1582.8 984.0L1585.6 977.5L1588.2 970.9L1590.8 964.3L1593.2 957.6L1595.5 950.8L1597.9 943.4L1600.3 935.6L1602.3 928.5L1603.8 923.6L1603.2 923.5L1601.6 928.3L1599.4 935.3L1596.9 943.1L1594.3 950.4L1591.8 957.0L1589.2 963.6L1586.5 970.2L1583.7 976.7L1580.9 983.2L1578.1 989.7L1575.1 996.1L1572.1 1002.5L1569.0 1008.9L1565.9 1015.2L1562.7 1021.5L1559.4 1027.7L1556.1 1034.0L1552.7 1040.2L1549.3 1046.4L1545.8 1052.5L1542.3 1058.6L1538.7 1064.8L1535.1 1070.8L1531.5 1076.9L1527.8 1082.9L1524.1 1088.9L1520.3 1094.9L1516.4 1100.8L1512.4 1106.7L1508.4 1112.6L1504.3 1118.4L1500.2 1124.1L1496.0 1129.8L1491.7 1135.5L1487.4 1141.2L1482.9 1146.7L1477.9 1152.7L1472.5 1158.9L1467.6 1164.3L1464.2 1168.2ZM1081.9 273.4L1078.5 271.6L1073.7 269.1L1068.5 266.2L1064.1 263.2L1060.5 260.1L1057.2 256.7L1054.5 253.3L1052.9 250.3L1052.4 247.9L1052.5 245.8L1053.7 243.9L1056.2 241.9L1061.6 239.8L1069.2 237.7L1076.7 235.9L1081.9 234.6L1081.7 234.0L1076.5 235.0L1068.9 236.4L1061.1 238.1L1055.4 240.1L1052.2 242.4L1050.6 245.1L1050.3 248.0L1051.1 251.1L1052.8 254.4L1055.6 258.0L1059.1 261.6L1062.9 264.8L1067.6 267.6L1073.1 270.3L1078.2 272.4L1081.7 274.0ZM1229.1 311.7L1216.4 307.9L1198.2 302.5L1178.1 296.5L1160.1 291.3L1144.4 287.0L1129.4 283.1L1115.3 279.4L1102.5 275.9L1090.6 272.4L1079.5 268.9L1070.2 265.8L1063.6 263.7L1063.4 264.3L1069.8 267.0L1078.8 270.8L1089.7 275.1L1101.5 279.3L1114.3 283.1L1128.4 286.8L1143.4 290.7L1159.1 294.7L1177.4 299.3L1197.6 304.5L1216.1 309.1L1228.9 312.3ZM1206.7 596.9L1204.2 605.3L1200.5 617.3L1196.3 631.1L1192.1 644.7L1187.7 658.1L1182.9 672.1L1178.3 686.5L1174.6 700.7L1172.5 714.8L1171.4 728.8L1170.4 742.8L1168.6 756.8L1165.6 771.2L1162.0 786.0L1158.1 800.4L1154.6 813.6L1151.4 825.3L1148.1 835.9L1145.3 845.9L1143.6 855.8L1143.0 865.9L1143.4 875.7L1144.6 885.0L1146.7 893.4L1149.7 901.1L1153.8 908.2L1158.6 914.3L1164.2 919.2L1170.6 922.6L1177.8 924.9L1185.5 925.8L1193.2 925.4L1201.2 923.1L1209.5 919.3L1217.5 914.7L1224.8 910.2L1230.9 906.0L1236.4 901.8L1241.7 896.9L1247.6 891.0L1254.3 883.7L1261.5 875.3L1268.9 866.3L1276.1 856.8L1283.3 846.9L1290.5 836.3L1297.6 825.5L1304.2 814.7L1310.4 804.0L1316.4 793.2L1321.9 782.3L1326.8 771.6L1331.2 760.9L1335.1 750.4L1338.4 739.9L1341.0 729.3L1342.8 718.7L1344.0 708.1L1344.4 697.5L1343.8 686.9L1342.2 676.0L1339.6 664.9L1336.3 654.1L1332.3 644.0L1327.7 634.7L1322.4 625.8L1316.4 617.5L1309.6 609.7L1302.2 602.5L1294.2 595.7L1285.2 589.5L1275.1 584.2L1262.2 579.6L1247.4 575.8L1233.6 572.8L1224.1 570.7L1223.9 571.3L1233.4 573.6L1247.1 577.0L1261.8 581.1L1274.3 585.8L1284.1 591.3L1292.7 597.5L1300.4 604.4L1307.6 611.7L1314.1 619.3L1320.0 627.4L1325.2 636.0L1329.7 645.2L1333.6 655.1L1336.9 665.7L1339.4 676.5L1341.0 687.1L1341.6 697.5L1341.2 707.9L1340.0 718.3L1338.2 728.7L1335.7 739.1L1332.5 749.5L1328.6 759.9L1324.2 770.4L1319.3 781.1L1313.9 791.8L1308.0 802.6L1301.8 813.3L1295.2 824.0L1288.2 834.8L1281.0 845.3L1273.9 855.2L1266.7 864.5L1259.4 873.5L1252.3 881.8L1245.6 889.0L1239.8 894.9L1234.6 899.6L1229.3 903.7L1223.2 907.8L1216.1 912.3L1208.2 916.8L1200.2 920.5L1192.8 922.6L1185.6 923.0L1178.4 922.1L1171.7 920.0L1165.8 916.8L1160.7 912.4L1156.1 906.7L1152.3 899.9L1149.3 892.6L1147.3 884.5L1146.1 875.5L1145.8 865.9L1146.4 856.2L1148.1 846.5L1150.8 836.6L1154.1 826.1L1157.4 814.4L1160.8 801.1L1164.7 786.7L1168.4 771.8L1171.4 757.2L1173.2 743.1L1174.2 729.0L1175.3 715.1L1177.4 701.3L1180.8 687.2L1185.1 672.9L1189.7 658.8L1193.9 645.3L1197.8 631.5L1201.6 617.7L1205.0 605.6L1207.3 597.1ZM1312.2 590.8L1308.5 587.6L1303.2 583.0L1297.2 577.9L1291.3 572.9L1285.7 568.2L1280.0 563.2L1274.2 558.4L1268.5 554.1L1262.9 550.4L1257.4 547.2L1251.9 544.3L1246.7 541.7L1241.6 539.2L1236.6 536.9L1231.5 535.0L1226.4 533.5L1221.0 532.3L1215.5 531.4L1209.8 531.1L1204.1 531.9L1198.4 534.0L1192.6 537.0L1187.1 541.0L1181.9 545.8L1177.3 551.5L1173.1 558.2L1169.2 565.5L1165.4 573.2L1161.7 581.6L1158.2 590.9L1154.8 600.0L1151.9 608.2L1149.4 614.9L1147.2 620.7L1145.3 626.4L1143.5 632.6L1142.1 639.5L1141.0 646.6L1139.8 654.1L1138.4 662.3L1136.6 671.6L1134.4 681.8L1132.2 692.4L1130.3 702.7L1128.8 712.8L1127.4 722.7L1126.2 732.7L1124.9 742.8L1123.6 753.1L1122.3 763.5L1121.0 774.0L1119.5 784.8L1117.8 796.1L1115.8 807.8L1114.0 819.3L1112.5 829.8L1111.5 839.0L1110.7 847.4L1110.2 855.4L1109.9 863.6L1109.7 872.1L1109.7 880.7L1110.1 889.3L1111.3 897.9L1113.4 906.5L1116.1 915.1L1119.5 923.4L1123.4 930.8L1127.9 937.2L1133.1 942.9L1138.7 947.8L1144.6 952.1L1150.9 955.7L1157.6 958.8L1164.6 961.1L1171.8 962.5L1179.2 963.0L1186.7 962.6L1194.4 961.4L1202.0 959.4L1209.5 956.6L1217.0 953.0L1224.4 948.5L1231.9 943.2L1239.4 936.8L1246.9 929.4L1254.3 921.5L1261.7 913.3L1269.3 904.8L1276.9 895.7L1284.4 886.6L1291.4 877.8L1297.8 869.4L1303.8 861.1L1309.6 853.0L1315.1 845.2L1320.7 837.5L1326.2 829.9L1331.4 822.6L1335.8 815.5L1339.1 808.8L1341.6 802.5L1343.8 796.5L1346.3 790.7L1349.4 785.0L1352.7 779.5L1356.1 774.0L1359.3 768.3L1362.5 762.5L1365.6 756.7L1368.5 750.8L1371.0 745.1L1373.0 739.5L1374.6 734.2L1375.9 728.9L1376.8 723.6L1377.3 718.3L1377.4 713.1L1377.2 708.0L1376.8 703.0L1376.1 698.2L1375.1 693.6L1373.8 689.0L1372.4 684.5L1371.0 680.3L1369.4 676.3L1367.5 672.0L1365.2 667.0L1362.2 660.8L1358.7 653.8L1354.9 646.6L1351.1 640.2L1346.9 634.2L1342.3 628.5L1338.1 623.7L1335.2 620.3L1334.8 620.7L1337.5 624.2L1341.3 629.3L1345.6 635.2L1349.5 641.2L1353.0 647.7L1356.4 654.9L1359.6 662.0L1362.4 668.2L1364.7 673.2L1366.6 677.4L1368.1 681.3L1369.6 685.5L1370.9 689.9L1372.1 694.3L1373.1 698.8L1373.8 703.4L1374.2 708.2L1374.4 713.1L1374.3 718.1L1373.8 723.2L1372.9 728.3L1371.7 733.4L1370.2 738.6L1368.2 743.9L1365.8 749.5L1362.9 755.3L1359.8 761.1L1356.7 766.9L1353.5 772.4L1350.1 777.9L1346.8 783.5L1343.7 789.3L1341.0 795.4L1338.8 801.4L1336.4 807.6L1333.2 814.1L1328.9 820.9L1323.8 828.2L1318.3 835.7L1312.7 843.4L1307.1 851.3L1301.4 859.4L1295.4 867.6L1289.0 876.0L1282.0 884.7L1274.6 893.8L1267.0 902.8L1259.5 911.3L1252.1 919.4L1244.7 927.3L1237.4 934.6L1230.1 940.8L1222.8 946.0L1215.5 950.3L1208.3 953.9L1201.0 956.6L1193.7 958.5L1186.4 959.6L1179.2 960.0L1172.2 959.5L1165.4 958.2L1158.7 956.0L1152.3 953.1L1146.2 949.5L1140.5 945.4L1135.2 940.7L1130.3 935.3L1126.0 929.2L1122.2 922.1L1119.0 914.1L1116.3 905.7L1114.3 897.3L1113.1 889.1L1112.7 880.6L1112.7 872.1L1112.9 863.6L1113.2 855.5L1113.7 847.6L1114.4 839.3L1115.5 830.2L1117.0 819.7L1118.8 808.3L1120.7 796.5L1122.5 785.2L1123.9 774.4L1125.3 763.9L1126.6 753.5L1127.9 743.2L1129.2 733.1L1130.4 723.1L1131.7 713.2L1133.3 703.3L1135.2 693.0L1137.3 682.5L1139.5 672.3L1141.4 662.9L1142.8 654.6L1143.9 647.0L1145.0 640.0L1146.5 633.4L1148.2 627.2L1150.0 621.7L1152.2 615.9L1154.7 609.2L1157.7 601.0L1161.0 591.9L1164.5 582.8L1168.2 574.4L1171.9 566.9L1175.7 559.7L1179.7 553.3L1184.1 547.8L1188.9 543.3L1194.2 539.6L1199.6 536.7L1204.9 534.9L1210.0 534.1L1215.2 534.4L1220.4 535.3L1225.6 536.5L1230.6 537.9L1235.4 539.7L1240.3 541.9L1245.3 544.3L1250.6 547.0L1255.9 549.8L1261.2 553.0L1266.7 556.5L1272.5 560.6L1278.4 565.2L1284.3 569.9L1290.1 574.5L1296.1 579.1L1302.4 584.0L1307.9 588.2L1311.8 591.2ZM1109.7 976.1L1112.0 978.7L1115.2 982.3L1119.3 986.4L1124.2 989.9L1130.0 992.9L1136.6 995.7L1143.8 998.0L1151.1 999.6L1158.4 1000.2L1165.9 1000.2L1173.6 999.4L1181.1 998.2L1188.6 996.3L1196.1 993.8L1203.6 990.8L1211.1 987.4L1218.5 983.7L1226.0 979.6L1233.5 975.0L1241.0 969.8L1248.4 963.9L1255.8 957.3L1263.2 950.3L1270.6 943.0L1278.0 935.4L1285.4 927.5L1292.8 919.1L1300.2 910.4L1308.0 900.9L1315.9 890.8L1323.4 880.8L1329.9 871.9L1335.0 864.6L1339.0 858.3L1342.6 852.3L1346.4 845.8L1350.4 838.5L1354.4 831.0L1358.4 823.3L1362.4 815.7L1366.4 808.2L1370.3 800.7L1374.3 793.2L1378.4 785.8L1382.8 778.4L1387.4 770.9L1391.9 763.6L1395.9 756.8L1399.4 750.6L1402.6 744.9L1405.3 739.2L1407.5 733.5L1409.1 727.6L1410.0 721.8L1410.5 716.0L1410.6 710.0L1410.4 704.0L1409.8 697.9L1408.8 691.6L1407.6 684.7L1406.1 677.0L1404.3 668.6L1402.1 659.9L1399.5 651.5L1396.3 643.2L1392.6 634.8L1388.7 626.7L1384.7 619.1L1380.7 612.0L1376.6 605.4L1372.3 598.9L1367.7 592.4L1362.7 585.8L1357.3 579.1L1351.8 572.6L1346.2 566.1L1340.5 559.8L1334.7 553.6L1328.8 547.4L1323.0 541.4L1317.2 535.5L1311.5 529.7L1305.7 524.0L1299.8 518.5L1294.0 513.2L1288.2 508.2L1282.4 503.3L1276.5 498.5L1270.7 493.9L1264.8 489.3L1258.9 484.9L1252.9 480.7L1246.3 476.2L1239.3 471.8L1233.0 467.9L1228.6 465.1L1228.2 465.7L1232.5 468.6L1238.6 472.8L1245.4 477.6L1251.7 482.3L1257.3 486.9L1262.9 491.7L1268.5 496.5L1274.1 501.5L1279.8 506.4L1285.5 511.3L1291.3 516.3L1297.0 521.5L1302.7 527.0L1308.3 532.8L1314.1 538.6L1319.8 544.6L1325.6 550.6L1331.4 556.7L1337.2 562.8L1342.8 569.1L1348.4 575.5L1353.9 582.0L1359.3 588.5L1364.3 595.0L1368.9 601.3L1373.2 607.6L1377.3 614.0L1381.3 620.9L1385.4 628.4L1389.5 636.3L1393.3 644.4L1396.5 652.5L1399.1 660.8L1401.2 669.3L1403.0 677.6L1404.4 685.3L1405.7 692.1L1406.6 698.3L1407.2 704.2L1407.4 710.0L1407.3 715.8L1406.8 721.4L1405.9 727.0L1404.5 732.5L1402.4 738.0L1399.7 743.4L1396.6 749.0L1393.1 755.2L1389.1 762.0L1384.7 769.2L1380.0 776.7L1375.6 784.2L1371.5 791.7L1367.5 799.2L1363.5 806.7L1359.6 814.3L1355.6 821.9L1351.6 829.5L1347.6 837.0L1343.6 844.2L1339.9 850.7L1336.3 856.6L1332.3 862.8L1327.3 870.1L1320.8 878.9L1313.4 888.8L1305.5 898.9L1297.8 908.4L1290.4 917.0L1283.1 925.3L1275.7 933.2L1268.4 940.8L1261.0 948.0L1253.7 955.0L1246.4 961.4L1239.0 967.2L1231.7 972.3L1224.4 976.9L1217.1 980.9L1209.7 984.6L1202.4 987.9L1195.0 990.8L1187.7 993.2L1180.5 995.0L1173.1 996.2L1165.8 996.9L1158.5 997.0L1151.5 996.4L1144.5 995.1L1137.5 993.1L1130.9 990.7L1125.2 988.1L1120.3 985.0L1116.1 981.4L1112.6 978.0L1110.1 975.7ZM1329.2 575.1L1325.3 571.5L1319.7 566.5L1313.6 560.9L1308.2 556.1L1304.1 552.2L1300.4 548.6L1296.8 545.2L1293.0 541.8L1288.7 538.4L1284.2 534.9L1279.7 531.7L1275.3 528.7L1271.2 526.3L1267.4 524.4L1263.5 522.5L1259.1 520.2L1254.2 517.3L1248.9 514.0L1243.3 510.5L1237.7 507.1L1232.0 503.7L1226.2 500.2L1220.3 496.8L1214.4 493.9L1208.4 491.6L1202.4 489.6L1196.5 488.0L1191.0 486.9L1185.8 486.3L1180.8 486.2L1176.2 486.5L1172.0 487.5L1168.1 489.5L1164.6 492.2L1161.8 494.9L1159.8 496.8L1160.2 497.2L1162.3 495.6L1165.4 493.2L1168.9 490.8L1172.6 489.3L1176.5 488.8L1180.8 488.7L1185.5 489.1L1190.4 489.9L1195.8 491.0L1201.5 492.5L1207.4 494.4L1213.2 496.7L1218.9 499.5L1224.7 502.8L1230.5 506.3L1236.1 509.7L1241.7 513.1L1247.3 516.5L1252.7 519.8L1257.7 522.8L1262.1 525.2L1266.0 527.1L1269.8 529.0L1273.7 531.3L1278.0 534.2L1282.4 537.4L1286.8 540.8L1291.0 544.2L1295.0 547.3L1298.7 550.5L1302.6 553.8L1307.0 557.5L1312.5 562.1L1318.9 567.4L1324.7 572.2L1328.8 575.5ZM1429.3 761.9L1431.1 758.3L1433.7 753.2L1436.5 747.2L1438.9 741.0L1440.7 734.7L1442.2 728.0L1443.5 721.0L1444.3 713.9L1444.6 706.7L1444.4 699.2L1444.0 691.8L1443.3 684.8L1442.5 678.2L1441.4 671.8L1440.1 665.6L1438.4 659.5L1436.4 653.5L1434.1 647.6L1431.5 641.8L1428.7 636.1L1425.6 630.6L1422.3 625.3L1418.8 620.0L1415.2 614.7L1411.4 609.5L1407.5 604.4L1403.6 599.1L1399.8 593.7L1396.3 587.9L1392.9 581.8L1389.5 575.5L1385.8 569.0L1382.1 562.1L1378.3 554.8L1374.2 547.4L1369.6 540.1L1364.2 533.1L1358.3 526.3L1352.3 519.6L1346.3 513.3L1340.5 507.2L1334.7 501.4L1328.9 495.8L1323.1 490.2L1317.4 484.7L1311.7 479.3L1305.9 474.0L1300.0 468.8L1294.0 463.7L1288.0 458.6L1281.7 453.7L1275.2 448.8L1268.4 443.9L1261.4 439.0L1254.2 434.4L1247.1 430.1L1240.0 426.2L1232.8 422.8L1225.8 419.6L1219.4 416.3L1214.1 412.7L1209.4 408.8L1204.0 404.9L1197.1 401.4L1187.8 398.3L1176.9 395.5L1165.9 393.2L1156.2 391.8L1148.6 391.3L1142.3 391.6L1136.0 392.6L1128.6 394.4L1119.4 396.9L1109.1 400.2L1098.5 404.0L1088.0 408.0L1077.9 412.6L1067.8 417.7L1057.8 422.7L1047.8 426.8L1038.0 429.9L1028.2 432.4L1018.3 434.5L1007.8 436.2L996.2 437.6L983.9 438.5L971.8 439.2L960.7 440.2L951.6 441.1L943.5 441.8L935.5 443.1L926.7 445.7L916.5 449.9L905.5 455.4L894.9 461.4L885.9 467.4L878.8 473.4L873.2 479.4L868.4 485.7L864.0 492.0L859.8 498.7L856.2 505.5L853.0 512.4L850.0 519.6L847.1 527.7L844.5 536.5L842.3 544.4L840.7 549.9L841.3 550.1L843.1 544.7L845.7 536.9L848.8 528.3L852.0 520.4L855.3 513.5L858.8 506.8L862.6 500.3L866.8 494.0L871.2 487.7L875.9 481.7L881.2 475.8L887.9 470.2L896.7 464.3L907.1 458.4L917.9 453.0L927.9 448.9L936.2 446.4L943.9 445.2L951.9 444.5L961.1 443.6L972.0 442.6L984.1 441.9L996.5 440.9L1008.2 439.6L1018.9 437.8L1029.0 435.7L1038.9 433.2L1049.0 430.0L1059.2 425.8L1069.3 420.8L1079.4 415.7L1089.4 411.2L1099.7 407.2L1110.2 403.4L1120.3 400.1L1129.4 397.6L1136.7 396.0L1142.7 395.0L1148.6 394.7L1155.8 395.2L1165.3 396.6L1176.1 398.8L1186.8 401.6L1195.7 404.6L1202.1 407.9L1207.0 411.7L1211.8 415.7L1217.4 419.7L1224.0 423.3L1230.9 426.7L1238.0 430.1L1244.9 433.9L1251.8 438.3L1258.8 442.9L1265.7 447.8L1272.4 452.6L1278.7 457.5L1284.8 462.4L1290.8 467.5L1296.8 472.6L1302.6 477.8L1308.3 483.0L1314.0 488.3L1319.7 493.8L1325.4 499.3L1331.2 505.0L1336.9 510.7L1342.7 516.7L1348.6 523.0L1354.6 529.5L1360.4 536.2L1365.6 542.9L1370.2 549.8L1374.4 557.0L1378.3 564.1L1382.2 571.0L1386.0 577.5L1389.6 583.7L1393.3 589.7L1397.0 595.5L1400.9 601.1L1404.8 606.4L1408.7 611.5L1412.4 616.7L1416.0 621.9L1419.4 627.1L1422.7 632.3L1425.7 637.7L1428.4 643.2L1431.0 648.9L1433.2 654.6L1435.2 660.5L1436.8 666.4L1438.1 672.5L1439.1 678.7L1439.9 685.2L1440.5 692.1L1441.0 699.4L1441.1 706.6L1440.9 713.7L1440.3 720.6L1439.4 727.5L1438.2 734.1L1436.7 740.4L1434.8 746.6L1432.5 752.7L1430.3 758.0L1428.7 761.7ZM833.3 576.9L830.0 586.4L825.3 600.0L819.8 615.4L814.3 630.1L808.8 644.3L802.9 658.8L796.9 673.1L791.3 686.2L786.0 698.0L780.8 708.9L775.9 719.1L771.6 728.3L767.9 736.0L764.8 742.5L761.8 749.0L758.8 756.8L755.6 766.4L752.4 777.1L749.2 788.3L746.2 799.2L743.1 809.7L740.1 820.3L737.2 831.0L734.8 841.6L732.7 852.3L730.9 863.1L729.6 873.7L729.1 884.0L729.5 894.1L730.6 904.0L732.4 913.3L734.9 921.4L738.5 927.8L742.8 932.8L747.5 937.1L752.1 941.6L756.5 946.5L760.9 951.5L765.9 956.5L772.0 961.6L779.7 966.7L788.4 971.9L797.5 976.9L806.1 981.4L814.1 985.1L821.9 988.2L829.4 991.4L837.1 995.4L845.0 1000.6L853.0 1006.7L861.0 1013.2L868.8 1019.5L876.1 1025.5L882.9 1031.4L890.3 1037.5L898.8 1044.1L908.9 1051.1L920.1 1058.5L931.7 1066.1L943.0 1073.8L954.1 1081.8L965.2 1090.1L976.3 1098.3L987.4 1106.3L998.5 1114.0L1009.6 1121.5L1020.7 1128.8L1031.8 1135.9L1042.9 1143.0L1054.0 1150.0L1065.2 1156.6L1076.4 1162.6L1087.5 1168.1L1098.7 1173.1L1109.9 1177.3L1121.2 1180.6L1132.8 1182.7L1144.6 1183.9L1156.0 1184.2L1166.3 1183.5L1175.3 1181.8L1183.3 1178.9L1190.5 1175.4L1196.9 1171.3L1202.5 1166.6L1207.1 1161.3L1211.2 1155.7L1215.2 1150.1L1218.9 1144.4L1222.4 1138.6L1225.9 1132.6L1229.9 1126.2L1234.5 1119.5L1239.4 1112.4L1244.7 1104.9L1250.7 1097.1L1257.3 1088.7L1264.6 1079.9L1272.3 1070.8L1280.3 1061.7L1288.7 1052.2L1297.7 1042.4L1306.8 1032.7L1315.7 1023.5L1324.5 1015.0L1333.2 1006.8L1342.0 998.9L1351.0 991.2L1360.2 983.6L1369.6 976.3L1379.2 969.0L1389.3 961.7L1400.0 954.4L1411.4 947.2L1422.7 939.8L1433.6 932.2L1444.0 924.5L1454.2 916.7L1463.8 908.6L1472.6 900.0L1480.4 890.6L1487.3 880.7L1493.5 870.8L1499.0 861.5L1503.8 853.0L1508.0 844.9L1511.6 836.9L1514.9 828.8L1517.9 819.6L1520.6 809.8L1522.8 801.1L1524.3 795.1L1523.7 794.9L1521.6 800.8L1518.5 809.2L1514.9 818.5L1511.1 827.2L1507.3 834.9L1503.3 842.5L1498.9 850.2L1493.8 858.5L1488.3 867.6L1482.3 877.3L1475.7 887.0L1468.4 896.0L1460.0 904.4L1450.6 912.3L1440.6 920.1L1430.4 927.8L1419.7 935.3L1408.4 942.7L1397.1 950.1L1386.3 957.5L1376.2 964.8L1366.4 972.2L1357.0 979.6L1347.6 987.2L1338.5 995.0L1329.6 1003.0L1320.9 1011.2L1312.1 1019.9L1303.0 1029.1L1293.9 1038.9L1285.0 1048.8L1276.5 1058.3L1268.5 1067.6L1260.8 1076.8L1253.6 1085.7L1246.9 1094.1L1240.9 1102.1L1235.6 1109.7L1230.7 1116.9L1226.1 1123.8L1222.1 1130.3L1218.5 1136.3L1215.1 1142.0L1211.4 1147.5L1207.5 1153.1L1203.6 1158.5L1199.4 1163.4L1194.3 1167.7L1188.3 1171.5L1181.6 1174.8L1174.1 1177.4L1165.7 1179.1L1155.9 1179.7L1144.9 1179.5L1133.4 1178.3L1122.2 1176.2L1111.3 1173.1L1100.4 1168.9L1089.4 1164.0L1078.4 1158.6L1067.4 1152.7L1056.4 1146.1L1045.3 1139.2L1034.2 1132.1L1023.1 1125.0L1012.1 1117.7L1001.0 1110.3L990.0 1102.7L978.9 1094.7L967.8 1086.4L956.7 1078.2L945.6 1070.2L934.1 1062.4L922.4 1054.9L911.3 1047.6L901.2 1040.7L892.8 1034.3L885.5 1028.3L878.6 1022.4L871.2 1016.5L863.2 1010.3L855.1 1004.0L846.9 997.9L838.7 992.6L830.8 988.5L823.1 985.3L815.4 982.2L807.5 978.6L799.0 974.1L790.0 969.1L781.4 964.0L774.0 959.0L768.1 954.2L763.3 949.3L758.9 944.4L754.5 939.4L749.7 934.8L745.1 930.6L741.1 926.0L737.9 920.2L735.5 912.5L733.7 903.6L732.7 893.9L732.3 884.0L732.8 874.0L734.1 863.5L735.9 852.9L738.0 842.2L740.4 831.7L743.2 821.2L746.2 810.6L749.2 800.0L752.3 789.1L755.4 778.0L758.6 767.4L761.8 757.8L764.8 750.2L767.6 743.8L770.8 737.4L774.4 729.7L778.8 720.5L783.8 710.4L789.0 699.4L794.3 687.4L799.7 674.2L805.4 659.9L811.0 645.1L816.3 630.9L821.4 616.0L826.5 600.4L830.8 586.7L833.9 577.1ZM854.5 607.8L853.3 613.3L851.7 621.2L849.8 630.1L848.0 638.8L846.3 647.9L844.5 657.7L842.8 666.6L841.7 672.7L842.3 672.9L843.7 666.8L845.8 658.0L848.1 648.2L850.0 639.2L851.6 630.5L853.0 621.5L854.2 613.5L855.1 608.0ZM819.2 680.9L816.7 688.4L813.2 699.2L809.2 711.4L805.7 723.2L802.9 734.4L800.3 746.0L797.6 757.4L794.5 768.2L790.6 778.8L786.2 789.2L781.8 798.9L777.7 807.5L773.8 814.9L770.0 821.4L766.7 826.7L764.4 830.4L764.8 830.8L767.5 827.2L771.2 822.2L775.5 815.9L779.7 808.5L784.0 800.0L788.4 790.2L792.8 779.7L796.7 769.0L799.9 758.0L802.6 746.5L805.2 735.0L807.9 723.8L811.1 712.0L814.5 699.6L817.6 688.7L819.8 681.1ZM764.8 931.8L762.6 928.6L759.4 924.0L756.2 918.6L754.1 912.8L753.2 906.3L753.0 899.1L753.4 891.5L754.5 884.2L756.3 877.2L758.8 870.1L761.9 863.2L765.6 856.7L770.5 850.5L776.4 844.4L782.4 838.8L787.5 834.0L791.9 830.0L795.7 826.7L798.9 824.1L801.2 822.2L800.8 821.8L798.4 823.5L795.1 825.9L791.0 829.0L786.5 832.8L781.1 837.4L774.9 842.9L768.7 848.9L763.6 855.3L759.6 862.0L756.3 869.1L753.8 876.4L752.1 883.8L751.1 891.3L750.8 899.1L751.3 906.5L752.5 913.2L755.0 919.2L758.5 924.6L762.0 929.1L764.4 932.2ZM970.1 630.7L972.8 634.5L976.7 639.9L980.7 646.4L983.6 653.3L985.2 660.6L986.2 668.8L986.4 677.5L986.0 686.7L984.7 696.5L982.6 707.1L980.1 717.9L977.5 728.7L974.7 739.6L971.5 750.7L968.5 761.5L966.2 771.1L964.7 778.9L963.6 785.4L963.1 791.9L963.4 799.7L964.7 809.6L966.8 820.7L969.4 831.9L971.9 842.2L974.7 851.7L977.8 860.6L980.8 868.9L983.2 876.1L984.8 881.7L986.1 886.0L986.9 890.2L987.4 895.5L987.7 902.5L987.9 910.3L987.4 918.4L986.0 926.1L983.7 933.3L980.4 940.4L976.5 947.3L972.2 953.8L966.9 959.5L960.7 964.7L954.6 970.1L949.5 976.3L945.7 983.4L942.6 991.2L940.6 999.2L940.1 1007.1L941.3 1014.9L944.0 1022.7L947.8 1030.2L952.1 1037.2L957.2 1043.7L963.0 1049.7L969.4 1055.4L976.1 1061.0L983.0 1066.5L990.3 1071.8L998.0 1077.0L1005.7 1081.9L1013.7 1086.7L1021.9 1091.4L1030.2 1095.8L1038.5 1099.8L1046.6 1103.3L1054.6 1106.5L1062.8 1109.2L1071.2 1111.7L1079.7 1113.8L1088.3 1115.7L1097.3 1117.1L1107.0 1117.6L1118.0 1117.2L1129.9 1115.9L1141.5 1114.1L1151.7 1111.6L1159.9 1108.7L1166.7 1105.0L1172.8 1101.0L1178.7 1096.6L1184.2 1092.0L1189.2 1086.9L1194.1 1081.6L1199.5 1075.9L1205.7 1069.8L1212.3 1063.3L1219.1 1056.4L1226.1 1049.2L1233.2 1041.7L1240.4 1033.8L1247.8 1025.6L1255.7 1016.7L1264.1 1007.1L1272.9 996.9L1282.0 986.2L1291.2 975.2L1300.6 963.8L1310.3 951.9L1320.0 939.8L1329.6 927.8L1339.4 915.5L1349.3 903.0L1358.9 891.0L1367.6 880.4L1375.8 870.9L1383.5 862.3L1390.1 855.2L1394.7 850.2L1394.3 849.8L1389.5 854.7L1382.8 861.6L1374.8 870.0L1366.4 879.2L1357.4 889.8L1347.6 901.6L1337.5 914.0L1327.6 926.2L1317.9 938.1L1308.2 950.2L1298.6 962.1L1289.2 973.6L1280.0 984.5L1270.9 995.2L1262.1 1005.4L1253.7 1014.9L1245.9 1023.8L1238.4 1032.1L1231.3 1039.9L1224.3 1047.4L1217.3 1054.6L1210.4 1061.5L1203.9 1068.0L1197.7 1074.1L1192.2 1079.8L1187.3 1085.1L1182.5 1090.0L1177.1 1094.6L1171.3 1098.9L1165.4 1102.8L1158.8 1106.3L1150.9 1109.2L1141.0 1111.5L1129.5 1113.4L1117.8 1114.6L1107.0 1115.0L1097.6 1114.5L1088.7 1113.2L1080.3 1111.3L1071.8 1109.1L1063.6 1106.8L1055.5 1104.0L1047.6 1100.9L1039.5 1097.4L1031.4 1093.5L1023.1 1089.1L1015.0 1084.5L1007.1 1079.7L999.4 1074.8L991.8 1069.7L984.6 1064.4L977.7 1059.0L971.1 1053.5L964.8 1047.9L959.1 1042.0L954.3 1035.8L950.1 1028.9L946.4 1021.7L943.9 1014.2L942.7 1006.9L943.2 999.6L945.1 992.0L948.0 984.5L951.7 977.7L956.4 971.9L962.4 966.7L968.7 961.4L974.2 955.4L978.7 948.7L982.7 941.6L986.1 934.3L988.6 926.7L990.0 918.7L990.4 910.4L990.3 902.4L990.0 895.3L989.5 889.8L988.6 885.4L987.3 881.0L985.6 875.3L983.3 868.0L980.3 859.8L977.2 850.9L974.5 841.6L971.9 831.3L969.3 820.1L967.3 809.2L966.0 799.5L965.7 791.9L966.2 785.7L967.2 779.4L968.8 771.7L971.1 762.1L974.0 751.4L977.2 740.3L980.1 729.3L982.7 718.5L985.2 707.6L987.4 697.0L988.6 686.9L988.9 677.5L988.4 668.6L987.1 660.3L985.2 652.7L981.9 645.7L977.6 639.3L973.4 634.0L970.5 630.3ZM1018.0 582.7L1019.1 588.6L1020.7 597.0L1022.2 606.7L1023.1 616.5L1023.3 626.4L1023.1 637.0L1022.4 647.8L1021.2 658.5L1019.4 669.0L1017.1 679.6L1014.3 690.1L1011.4 700.6L1007.9 711.2L1004.1 721.9L1000.3 732.5L997.2 742.7L995.0 752.4L993.4 761.8L992.2 770.9L991.6 779.8L991.5 788.4L991.9 796.6L992.9 804.9L994.4 814.0L996.7 824.1L999.7 835.0L1002.9 846.0L1005.7 856.3L1008.2 866.3L1010.6 876.0L1012.6 885.0L1014.1 892.8L1015.0 898.7L1015.4 903.1L1015.5 907.3L1015.5 912.4L1015.5 918.8L1015.4 925.9L1015.0 933.2L1014.1 940.3L1012.6 947.1L1010.6 954.0L1008.2 961.0L1005.8 968.3L1003.0 976.3L1000.0 984.7L997.0 992.8L994.5 999.5L992.5 1004.2L990.7 1007.6L989.3 1010.8L988.7 1014.9L988.7 1019.9L989.2 1025.3L990.6 1031.1L993.5 1037.2L998.0 1043.8L1003.9 1050.8L1010.5 1057.8L1017.4 1064.0L1024.3 1069.3L1031.6 1073.9L1039.3 1078.1L1047.3 1082.0L1055.8 1085.7L1064.8 1089.1L1074.0 1092.0L1083.1 1094.0L1092.2 1095.0L1101.2 1095.3L1110.2 1094.9L1119.0 1094.0L1127.5 1092.5L1136.0 1090.5L1144.1 1087.9L1151.8 1085.0L1159.0 1081.7L1165.9 1077.9L1172.3 1073.9L1178.4 1069.7L1184.4 1064.9L1190.3 1059.6L1195.3 1054.8L1198.8 1051.5L1198.4 1051.1L1194.7 1054.3L1189.6 1058.8L1183.5 1063.8L1177.4 1068.3L1171.3 1072.2L1164.8 1076.0L1158.0 1079.5L1150.8 1082.6L1143.2 1085.4L1135.2 1087.9L1127.0 1090.0L1118.6 1091.4L1110.0 1092.3L1101.2 1092.7L1092.3 1092.4L1083.5 1091.4L1074.6 1089.4L1065.6 1086.6L1056.7 1083.3L1048.3 1079.6L1040.4 1075.8L1032.9 1071.7L1025.8 1067.1L1019.0 1062.0L1012.3 1055.9L1005.8 1049.1L1000.1 1042.2L995.7 1035.8L993.1 1030.2L991.7 1024.8L991.3 1019.7L991.3 1015.1L991.8 1011.5L993.0 1008.7L994.8 1005.3L996.9 1000.5L999.4 993.7L1002.4 985.6L1005.5 977.1L1008.2 969.1L1010.7 961.8L1013.1 954.8L1015.1 947.8L1016.7 940.7L1017.6 933.4L1018.0 926.0L1018.1 918.8L1018.1 912.4L1018.1 907.2L1018.0 903.0L1017.6 898.4L1016.7 892.4L1015.1 884.5L1013.1 875.4L1010.7 865.6L1008.3 855.7L1005.4 845.3L1002.3 834.3L999.3 823.5L997.0 813.4L995.5 804.5L994.5 796.4L994.1 788.3L994.2 780.0L994.8 771.1L995.9 762.2L997.6 752.9L999.8 743.3L1002.8 733.3L1006.5 722.8L1010.4 712.1L1013.8 701.4L1016.8 690.8L1019.6 680.2L1022.0 669.5L1023.8 658.9L1024.8 648.0L1025.3 637.1L1025.2 626.4L1024.7 616.3L1023.6 606.5L1021.7 596.8L1019.9 588.4L1018.6 582.5ZM1070.1 568.4L1068.8 574.3L1067.0 582.6L1064.8 592.3L1062.5 602.1L1059.8 611.9L1056.7 622.4L1053.6 633.3L1050.5 644.2L1047.7 655.4L1044.9 667.0L1042.1 678.4L1039.4 689.3L1036.5 699.4L1033.5 709.1L1030.7 718.7L1028.0 728.6L1025.6 739.1L1023.4 749.8L1021.4 760.5L1020.0 771.3L1019.3 782.9L1019.2 795.2L1019.3 806.1L1019.4 813.7L1020.0 813.7L1020.2 806.1L1020.4 795.2L1020.9 783.0L1022.0 771.5L1023.7 760.9L1025.9 750.3L1028.4 739.7L1031.0 729.4L1033.6 719.5L1036.4 710.0L1039.4 700.3L1042.2 690.1L1045.1 679.1L1047.9 667.7L1050.7 656.2L1053.5 645.0L1056.3 634.0L1059.2 623.1L1061.9 612.5L1064.3 602.5L1066.4 592.6L1068.2 582.9L1069.7 574.5L1070.7 568.6ZM1147.7 514.3L1144.2 520.0L1139.0 528.2L1133.3 537.4L1128.1 546.3L1123.7 554.7L1119.3 563.3L1115.3 572.1L1111.6 581.3L1108.4 591.0L1105.5 601.2L1103.0 611.4L1100.5 621.7L1098.4 631.8L1096.5 642.0L1094.6 652.2L1092.5 662.3L1090.0 672.9L1087.3 683.8L1084.5 694.0L1082.0 702.5L1079.8 708.3L1077.7 712.1L1075.6 716.0L1073.2 721.5L1070.4 729.0L1067.4 737.7L1064.4 747.2L1061.9 757.0L1059.9 767.1L1058.2 777.8L1056.9 788.7L1056.2 799.5L1056.2 810.2L1056.7 820.9L1057.7 831.5L1059.0 842.1L1060.7 852.7L1062.9 863.3L1065.2 873.8L1067.5 884.3L1069.9 894.9L1072.4 905.5L1074.7 916.0L1076.5 926.5L1077.9 938.0L1078.8 950.2L1079.5 961.1L1080.0 968.7L1080.6 968.7L1080.4 961.1L1080.0 950.2L1079.5 937.9L1078.5 926.3L1076.9 915.6L1074.9 904.9L1072.6 894.3L1070.5 883.7L1068.2 873.1L1065.9 862.6L1063.7 852.2L1062.0 841.7L1060.7 831.2L1059.7 820.7L1059.2 810.1L1059.2 799.7L1059.9 789.0L1061.2 778.2L1062.9 767.6L1064.9 757.6L1067.3 748.0L1070.2 738.7L1073.3 730.0L1076.0 722.5L1078.3 717.3L1080.4 713.5L1082.5 709.5L1084.8 703.5L1087.4 694.8L1090.2 684.5L1092.9 673.6L1095.5 662.9L1097.6 652.7L1099.5 642.6L1101.3 632.4L1103.5 622.3L1105.9 612.2L1108.5 601.9L1111.3 591.9L1114.4 582.3L1117.9 573.2L1121.7 564.3L1125.7 555.7L1129.9 547.3L1134.7 538.2L1140.0 528.8L1144.9 520.5L1148.3 514.7ZM1220.3 648.9L1218.7 653.4L1216.3 659.8L1213.8 667.5L1211.9 675.9L1210.6 685.1L1209.8 695.3L1209.2 706.0L1208.8 716.4L1208.7 726.8L1208.9 737.4L1209.1 747.6L1208.8 756.6L1207.8 764.5L1206.3 771.5L1204.8 777.8L1203.5 783.5L1202.7 788.4L1202.0 792.5L1201.5 796.2L1201.2 799.9L1201.0 804.0L1201.0 808.0L1201.1 811.5L1201.2 814.0L1201.8 814.0L1201.9 811.5L1201.9 808.0L1202.1 804.0L1202.4 800.1L1203.0 796.4L1203.7 792.8L1204.5 788.8L1205.5 783.9L1206.8 778.2L1208.3 771.9L1209.8 764.8L1210.8 756.8L1211.1 747.6L1211.0 737.4L1210.8 726.8L1210.8 716.4L1211.1 706.0L1211.5 695.4L1212.1 685.2L1213.1 676.1L1214.9 667.8L1217.1 660.1L1219.4 653.7L1220.9 649.1ZM1232.7 861.8L1240.8 853.6L1252.4 841.9L1264.9 828.3L1275.6 814.4L1284.3 798.8L1292.2 781.2L1298.7 765.2L1303.3 754.1L1302.7 753.9L1297.9 764.9L1291.1 780.8L1283.1 798.2L1274.4 813.6L1263.9 827.4L1251.6 841.2L1240.2 853.1L1232.3 861.4ZM1204.7 444.3L1201.1 442.1L1195.8 438.8L1189.6 435.6L1183.2 433.5L1176.6 433.0L1169.7 433.4L1162.6 434.6L1155.5 436.5L1148.5 439.2L1141.5 442.7L1134.6 446.9L1128.1 451.5L1122.1 456.8L1116.6 462.6L1111.1 468.6L1105.0 474.4L1097.9 480.0L1090.2 485.8L1082.2 491.5L1074.4 497.2L1066.4 503.4L1058.0 509.9L1050.7 515.7L1045.5 519.8L1045.9 520.2L1051.2 516.4L1058.8 510.9L1067.3 504.7L1075.6 498.8L1083.5 493.3L1091.6 487.8L1099.6 482.3L1107.0 476.6L1113.3 470.7L1118.9 464.7L1124.2 458.9L1129.9 453.9L1136.3 449.4L1143.0 445.4L1149.8 442.0L1156.5 439.3L1163.2 437.3L1170.0 435.9L1176.6 435.3L1182.8 435.5L1189.0 437.1L1195.2 439.9L1200.6 442.8L1204.5 444.9ZM1131.8 415.8L1126.4 419.7L1118.6 425.4L1109.8 431.8L1101.1 437.8L1092.6 443.5L1083.8 449.5L1074.9 455.0L1066.3 459.7L1058.3 463.3L1050.7 466.3L1043.0 468.5L1034.9 470.0L1025.1 470.5L1014.1 470.0L1004.0 469.2L997.0 468.7L997.0 469.3L1003.9 470.3L1013.9 471.8L1025.0 473.0L1035.1 473.0L1043.7 471.6L1051.7 469.3L1059.5 466.1L1067.7 462.3L1076.4 457.7L1085.5 452.1L1094.4 446.2L1102.9 440.2L1111.3 433.8L1119.7 426.8L1127.1 420.6L1132.2 416.2ZM1115.4 500.8L1112.3 503.8L1107.8 508.1L1103.0 512.9L1099.0 517.2L1096.0 521.1L1093.4 525.1L1091.3 528.5L1089.8 530.8L1090.2 531.2L1092.1 529.1L1094.7 526.1L1097.8 522.5L1101.0 518.8L1104.7 514.4L1109.0 509.3L1113.0 504.5L1115.8 501.2ZM967.6 411.7L960.3 412.2L949.9 412.9L938.1 414.1L926.9 416.1L916.3 419.3L905.4 423.2L895.1 427.7L886.1 432.4L878.7 437.5L872.6 443.0L867.4 448.5L862.8 454.0L858.5 459.8L854.8 465.8L851.8 471.1L849.7 474.8L850.3 475.2L852.8 471.7L856.4 466.9L860.6 461.4L865.2 456.0L869.9 450.8L875.0 445.4L880.7 440.0L887.7 435.2L896.5 430.6L906.6 426.3L917.3 422.5L927.7 419.3L938.6 416.7L950.1 414.8L960.4 413.3L967.6 412.3ZM965.0 481.7L960.7 481.8L954.5 482.0L947.4 482.6L940.4 484.2L933.6 486.9L926.5 490.4L919.5 494.8L913.1 500.1L907.4 506.7L902.2 514.3L897.6 522.4L893.8 530.2L890.8 537.8L888.6 545.5L887.0 552.9L885.7 559.8L884.9 565.7L884.6 571.0L884.6 576.2L884.8 582.0L885.1 589.5L885.7 597.9L886.3 605.6L886.7 611.0L887.3 611.0L887.1 605.6L886.8 597.8L886.5 589.4L886.4 582.0L886.6 576.2L886.8 571.1L887.3 566.0L888.3 560.2L889.6 553.5L891.2 546.2L893.3 538.6L896.2 531.2L900.0 523.6L904.5 515.7L909.5 508.3L914.9 501.9L920.9 496.7L927.6 492.3L934.4 488.7L941.0 485.8L947.6 484.0L954.6 483.0L960.7 482.6L965.0 482.3ZM1047.5 992.0L1047.7 995.7L1048.0 1001.0L1048.7 1007.0L1050.0 1013.0L1052.0 1019.0L1054.6 1025.3L1057.8 1031.6L1061.6 1037.3L1066.0 1042.4L1071.0 1047.0L1076.5 1051.2L1082.6 1055.1L1089.5 1058.8L1097.0 1062.2L1104.8 1065.1L1112.5 1067.3L1120.0 1068.6L1127.5 1069.3L1135.0 1069.3L1142.5 1068.8L1150.1 1067.7L1157.7 1066.0L1165.2 1063.8L1172.5 1061.2L1179.5 1058.1L1186.3 1054.5L1192.9 1050.6L1199.3 1046.5L1205.6 1042.2L1211.6 1037.6L1217.4 1032.9L1222.8 1028.2L1228.0 1023.3L1233.0 1018.1L1237.2 1013.4L1240.2 1010.2L1239.8 1009.8L1236.6 1012.9L1232.2 1017.3L1227.0 1022.3L1221.6 1027.0L1216.2 1031.4L1210.3 1035.8L1204.1 1040.2L1197.9 1044.3L1191.5 1048.3L1185.0 1052.2L1178.4 1055.7L1171.5 1058.8L1164.4 1061.3L1157.1 1063.5L1149.6 1065.1L1142.3 1066.2L1135.0 1066.7L1127.7 1066.7L1120.4 1066.0L1113.1 1064.7L1105.6 1062.6L1098.0 1059.8L1090.6 1056.5L1084.0 1052.9L1078.0 1049.1L1072.7 1045.0L1067.9 1040.5L1063.6 1035.7L1059.9 1030.3L1056.6 1024.4L1053.8 1018.3L1051.6 1012.6L1050.1 1006.8L1049.1 1000.9L1048.5 995.6L1048.1 992.0ZM1053.6 1128.3L1058.8 1131.3L1066.4 1135.6L1074.8 1140.2L1082.9 1144.0L1090.5 1146.7L1098.1 1148.8L1105.5 1150.5L1112.5 1151.9L1118.9 1152.9L1124.9 1153.5L1130.7 1153.7L1136.6 1153.4L1142.7 1152.7L1148.8 1151.5L1154.8 1149.8L1160.7 1147.4L1166.3 1144.2L1171.8 1140.3L1176.9 1136.1L1181.5 1131.8L1185.9 1126.9L1190.0 1121.7L1193.4 1116.9L1195.8 1113.6L1195.4 1113.2L1192.7 1116.4L1189.0 1120.9L1184.6 1125.8L1180.1 1130.2L1175.3 1134.2L1170.1 1138.1L1164.7 1141.7L1159.3 1144.6L1153.8 1146.7L1148.1 1148.3L1142.2 1149.5L1136.4 1150.2L1130.7 1150.5L1125.1 1150.2L1119.3 1149.6L1113.1 1148.7L1106.1 1147.6L1098.7 1146.2L1091.2 1144.3L1083.7 1142.0L1075.6 1138.7L1067.0 1134.5L1059.2 1130.5L1053.8 1127.7Z" fill="#6b0000"/>
<path d="M1512.2 625.4 L1497.2 612.6 L1496.8 632.3ZM1017.7 333.7 L999.4 342.1 L1017.5 351.0ZM636.0 694.6 L642.7 712.8 L652.6 696.1ZM873.1 1231.9 L889.0 1232.9 L879.7 1220.0ZM1580.3 902.0 L1578.7 888.6 L1569.4 898.3ZM1328.9 334.4 L1315.5 333.5 L1323.3 344.5ZM719.4 902.5 L726.8 912.6 L729.9 900.5ZM1355.0 1061.0 L1362.3 1046.8 L1346.7 1050.1ZM1541.5 647.1 L1527.7 632.1 L1524.7 652.3ZM1173.5 322.0 L1155.2 326.9 L1170.6 338.1ZM603.4 732.7 L611.1 750.6 L620.1 733.3ZM990.2 1292.1 L1007.0 1288.0 L993.2 1277.6ZM1476.9 730.1 L1471.6 718.5 L1465.9 730.0ZM1131.3 374.9 L1117.9 380.5 L1130.6 387.3ZM697.2 654.2 L699.5 667.3 L708.2 657.2ZM1093.7 1253.1 L1108.6 1244.0 L1092.2 1238.2ZM1586.5 775.0 L1578.7 759.4 L1571.5 775.3ZM1350.5 371.0 L1333.7 369.0 L1342.7 383.3ZM720.0 399.7 L716.0 411.7 L727.8 407.1ZM936.6 1291.2 L952.5 1288.8 L940.6 1278.0ZM1468.6 1122.1 L1472.9 1110.8 L1461.4 1114.7ZM1301.8 1008.3 L1308.3 995.9 L1294.5 998.6ZM1445.9 565.9 L1433.6 557.9 L1435.2 572.5ZM729.7 513.4 L727.6 527.6 L740.0 520.3ZM810.4 1169.5 L824.7 1173.4 L818.7 1159.8ZM722.3 380.3 L717.7 391.7 L729.5 388.0ZM608.0 1034.1 L618.3 1042.2 L618.1 1029.1ZM1173.1 1315.4 L1183.2 1308.3 L1171.3 1304.9ZM1626.8 739.6 L1620.9 730.3 L1617.3 740.7ZM1246.2 275.8 L1234.0 277.1 L1242.6 285.7ZM713.5 367.0 L709.2 377.2 L719.8 374.1ZM604.8 1068.9 L614.0 1075.0 L612.9 1064.0ZM1188.5 1325.8 L1197.3 1319.2 L1186.6 1316.5ZM1632.8 790.0 L1628.2 780.0 L1623.3 789.9ZM1186.3 239.6 L1175.6 242.3 L1184.4 248.9ZM1533.9 525.1 L1524.5 518.7 L1525.5 530.0ZM738.4 385.2 L734.2 395.8 L745.1 392.4ZM1194.0 1323.6 L1204.2 1315.9 L1191.8 1312.8ZM1384.5 1009.0 L1392.3 993.3 L1375.2 997.1ZM1545.3 1065.0 L1546.1 1054.0 L1537.0 1060.2ZM1075.4 263.4 L1064.4 264.3 L1072.0 272.2ZM1148.8 819.9 L1150.9 832.2 L1159.1 822.8ZM1235.2 907.7 L1240.8 896.5 L1228.6 899.2ZM1208.3 527.3 L1197.6 534.4 L1209.9 538.2ZM1106.1 858.8 L1111.2 870.5 L1117.0 859.2ZM1381.2 707.3 L1374.7 696.3 L1370.2 708.3ZM1339.8 864.5 L1341.5 851.5 L1330.3 858.4ZM1281.4 528.0 L1268.8 526.1 L1275.3 537.1ZM1428.4 627.2 L1417.0 620.0 L1418.5 633.4ZM965.2 435.7 L953.6 442.5 L966.3 447.2ZM753.2 760.6 L754.9 773.6 L764.0 764.2ZM936.0 1074.4 L951.2 1076.7 L943.4 1063.4ZM1230.6 1133.2 L1232.4 1117.9 L1219.4 1126.2ZM1441.8 932.0 L1449.8 916.7 L1432.9 920.1ZM792.0 763.2 L793.9 774.6 L801.5 766.0ZM798.4 830.0 L803.4 820.2 L792.6 822.4ZM983.1 891.5 L989.3 901.9 L993.5 890.6ZM1148.2 1116.5 L1157.7 1108.9 L1145.9 1106.3ZM1376.2 876.6 L1379.3 865.9 L1369.1 870.3ZM1011.6 908.0 L1016.8 919.0 L1022.0 908.0ZM1036.6 683.9 L1039.1 696.4 L1047.3 686.6ZM1071.4 715.6 L1071.9 728.4 L1081.5 719.9ZM1200.7 778.8 L1203.2 789.5 L1210.0 780.8ZM1105.6 468.3 L1101.0 480.3 L1113.1 476.3ZM1060.8 457.8 L1052.6 467.7 L1065.5 467.8ZM1090.2 522.7 L1088.1 533.6 L1097.9 528.4ZM942.0 409.6 L931.8 416.3 L943.4 420.0ZM881.1 566.5 L885.2 577.2 L890.9 567.3ZM1132.0 1157.7 L1143.6 1151.5 L1131.5 1146.4Z" fill="#6b0000"/>
<circle cx="1079" cy="783" r="559.9" fill="none" stroke="#6b0000" stroke-width="2.2" stroke-dasharray="22 3 9 2" opacity=".8"/>
<path d="M1149.6 233.9L1161.1 230.9L1159.9 240.0ZM1359.2 304.0L1371.0 305.7L1366.3 313.6ZM1509.5 438.4L1519.9 444.2L1512.7 449.9ZM1617.0 652.1L1624.0 661.8L1615.0 663.9ZM1620.4 894.9L1618.0 883.2L1627.0 884.9ZM1570.4 1036.9L1569.3 1048.8L1561.2 1044.5ZM1416.6 1220.2L1410.6 1230.5L1405.0 1223.1ZM1218.5 1315.7L1208.9 1322.8L1206.7 1313.9ZM923.3 1314.4L911.5 1315.6L914.2 1306.8ZM719.7 1206.2L708.4 1202.4L714.5 1195.5ZM578.4 1013.0L569.7 1004.8L578.1 1001.1ZM533.6 856.5L527.7 846.2L536.8 845.0ZM549.8 628.0L548.7 616.2L557.5 618.8ZM627.3 462.9L630.1 451.3L637.5 456.7ZM803.8 299.9L811.2 290.5L815.6 298.6ZM967.7 244.3L977.6 237.7L979.3 246.7Z" fill="#6b0000"/>
<path d="M1082 221V388" stroke="#fff" stroke-width="5.4"/><path d="M1082 388V590" stroke="#fff" stroke-width="3.1"/><path d="M1081.5 590V770" stroke="#fff" stroke-width="1.5" stroke-dasharray="7 4" opacity=".9"/>
<path d="M1042.6 835.0L1044.8 841.2L1047.4 848.4L1049.8 855.4L1055.7 860.0L1061.8 864.1L1056.9 868.6L1053.5 871.2L1048.9 875.6L1047.7 882.7L1044.5 888.4L1043.0 893.9L1039.4 898.5L1035.9 905.3L1032.6 910.5L1030.4 917.4L1027.7 923.1L1026.1 928.3L1022.6 933.2L1018.9 939.0L1014.1 943.7L1012.0 950.4L1008.2 958.3L1000.8 957.1L994.9 955.5L992.6 961.5L988.9 967.8L983.0 968.7L976.2 967.5L971.8 967.3L966.3 967.1L959.6 966.8L952.5 967.1L944.9 967.6L939.0 966.1L931.9 964.8L926.6 964.6L921.1 966.6L916.3 971.6L910.2 973.8L905.7 977.5L899.2 978.9L893.5 981.9L884.1 984.8L880.3 974.9L880.6 969.4L878.6 964.0L879.2 959.0L877.2 952.3L880.2 946.3L882.9 941.2L885.2 934.4L887.7 928.5L892.9 923.5L895.6 918.7L899.9 916.1L904.8 912.7L911.2 909.5L919.2 906.9L926.3 906.6L927.1 899.6L927.5 893.1L930.7 885.9L936.1 881.2L939.6 875.8L945.7 873.0L949.3 867.2L953.0 860.7L958.6 855.3L957.0 848.8L956.2 842.8L955.0 838.2L957.0 831.8L960.4 826.2L968.1 819.0L974.3 822.2L979.8 823.1L990.0 822.6L995.1 823.7L1001.5 824.2L1008.2 825.8L1015.0 827.8L1020.7 830.9L1027.2 834.8L1035.0 833.7L1042.6 835.0M1017.3 998.0L1021.9 1003.9L1023.7 1013.5L1016.0 1018.0L1009.5 1017.6L1005.9 1019.4L999.6 1020.4L994.3 1018.1L988.7 1015.8L984.2 1011.8L981.8 1001.2L983.3 995.0L990.9 990.6L995.9 999.4L1002.3 998.8L1009.0 998.3L1017.3 998.0M1053.5 1074.2L1057.4 1076.5L1064.3 1081.5L1068.5 1084.2L1067.2 1090.6L1065.3 1096.4L1070.6 1104.7L1074.5 1111.2L1078.5 1115.4L1080.8 1120.6L1083.8 1123.2L1089.2 1128.2L1087.6 1133.7L1079.0 1138.3L1072.9 1137.7L1067.6 1138.6L1062.6 1141.3L1057.1 1140.7L1051.8 1142.1L1044.4 1141.9L1048.6 1138.4L1051.4 1133.4L1047.5 1129.3L1052.4 1121.1L1061.5 1117.0L1059.1 1108.2L1051.0 1103.6L1047.3 1095.1L1048.4 1088.8L1047.5 1082.8L1053.5 1074.2M1038.4 1099.8L1042.8 1103.8L1047.8 1107.3L1044.0 1116.4L1040.7 1124.7L1035.5 1125.5L1028.6 1126.5L1021.4 1127.4L1019.7 1119.3L1021.1 1111.6L1022.2 1105.4L1028.1 1102.8L1032.8 1099.8L1038.4 1099.8M1159.1 947.2L1153.8 951.0L1149.2 956.6L1145.5 964.0L1139.7 969.9L1136.3 976.0L1132.7 983.4L1130.7 990.8L1130.2 996.1L1129.5 1002.6L1127.4 1010.6L1125.1 1018.8L1121.7 1025.2L1117.2 1030.8L1112.2 1035.5L1107.0 1039.4L1102.0 1045.4L1102.6 1051.3L1103.1 1058.2L1105.8 1065.3L1106.7 1070.6L1111.2 1074.2L1115.2 1078.1L1120.8 1074.1L1124.9 1072.5L1131.3 1065.4L1134.1 1066.6L1138.3 1074.3L1143.6 1081.6L1148.0 1089.0L1150.7 1093.4L1157.5 1090.9L1165.0 1083.0L1164.0 1076.7L1165.1 1071.9L1164.5 1062.5L1166.8 1057.4L1170.8 1052.5L1162.1 1046.5L1158.2 1038.7L1158.2 1029.6L1161.5 1025.0L1162.6 1019.0L1165.6 1008.5L1166.1 998.7L1172.5 993.1L1180.3 997.3L1179.0 1007.7L1174.5 1013.0L1172.3 1020.0L1174.2 1028.5L1178.2 1036.2L1185.4 1039.8L1195.3 1038.2L1200.5 1033.2L1204.8 1029.9L1210.8 1025.8L1217.1 1027.1L1211.5 1032.2L1203.8 1038.9L1195.2 1043.9L1194.9 1049.5L1198.9 1052.3L1202.0 1055.5L1203.3 1062.1L1194.0 1060.7L1189.5 1067.9L1191.4 1075.9L1193.3 1083.8L1188.0 1090.8L1182.1 1091.2L1176.5 1095.4L1169.5 1098.4L1159.9 1102.7L1152.8 1102.8L1147.0 1105.1L1141.9 1106.7L1135.6 1103.8L1132.5 1096.2L1134.4 1087.6L1133.9 1079.4L1131.2 1079.0L1124.2 1085.2L1123.2 1093.6L1126.0 1101.3L1129.4 1108.9L1126.5 1112.5L1119.7 1114.2L1111.2 1117.5L1106.4 1123.4L1100.3 1131.6L1091.3 1135.8L1088.4 1142.0L1080.3 1145.8L1071.4 1148.0L1067.0 1145.6L1068.7 1153.1L1059.6 1153.5L1054.3 1153.5L1048.5 1153.5L1050.7 1158.8L1057.2 1161.0L1062.4 1163.1L1067.5 1166.1L1070.9 1171.2L1070.7 1179.6L1067.6 1189.8L1062.0 1188.8L1054.1 1189.8L1049.2 1189.2L1042.2 1189.3L1036.5 1187.7L1031.2 1185.5L1024.0 1184.8L1018.5 1187.2L1013.4 1188.0L1015.2 1195.0L1013.7 1204.6L1007.8 1213.1L1010.3 1216.6L1009.7 1225.6L1020.5 1227.2L1025.3 1229.1L1030.1 1233.1L1034.7 1234.7L1043.7 1231.4L1050.2 1232.0L1055.3 1233.1L1061.7 1232.5L1071.2 1227.4L1077.5 1222.0L1076.7 1215.9L1082.7 1209.6L1092.3 1204.9L1096.2 1200.2L1102.2 1197.3L1101.8 1191.3L1107.7 1189.9L1113.1 1189.2L1121.8 1190.4L1131.2 1185.2L1139.7 1179.9L1149.1 1180.4L1153.8 1186.4L1159.8 1189.5L1164.3 1191.1L1174.0 1194.3L1180.0 1195.9L1185.6 1195.4L1194.6 1196.9L1199.9 1201.9L1198.6 1208.6L1201.8 1208.3L1207.4 1200.3L1202.5 1197.2L1203.4 1192.4L1214.3 1192.2L1210.6 1188.1L1204.9 1186.6L1200.4 1185.1L1194.1 1184.4L1186.5 1184.3L1180.5 1184.0L1174.5 1177.9L1169.7 1175.0L1164.2 1173.9L1163.6 1167.7L1171.8 1163.7L1172.3 1168.6L1179.2 1167.5L1184.8 1172.4L1191.2 1174.2L1198.4 1176.1L1206.6 1175.7L1213.1 1176.6L1218.6 1177.2L1220.7 1185.4L1227.8 1189.5L1232.5 1190.5L1238.2 1193.5L1244.7 1199.3L1251.6 1199.6L1254.8 1193.2L1259.1 1187.4L1254.5 1184.8L1248.6 1182.6L1244.8 1177.4L1251.7 1174.5L1253.8 1175.6L1254.2 1169.2L1259.3 1167.1L1264.9 1164.1L1268.9 1167.1L1270.1 1171.4L1274.9 1175.9L1282.4 1178.9L1293.3 1177.8L1300.4 1175.6L1308.8 1173.1L1313.6 1170.4L1321.2 1166.7L1325.6 1162.7L1329.2 1158.8L1333.4 1153.2L1337.8 1150.8L1344.1 1147.8L1348.5 1155.3L1349.6 1160.2L1350.2 1167.5L1350.2 1173.9L1348.4 1179.5L1342.2 1183.6L1335.4 1188.6M1284.3 1153.3L1290.1 1150.9L1295.1 1147.4L1299.5 1142.9L1305.4 1137.1L1309.1 1130.7L1318.1 1124.5L1324.0 1123.3L1329.7 1121.8L1335.6 1119.1L1342.6 1114.4L1348.6 1108.3L1353.1 1104.0L1357.6 1095.7L1349.0 1093.7L1339.5 1095.6L1331.9 1098.1L1325.3 1098.3L1315.2 1099.9L1316.9 1095.3L1317.6 1088.4L1318.9 1079.2L1313.8 1083.7L1310.5 1090.3L1306.7 1095.7L1305.3 1100.3L1308.1 1104.3L1303.5 1110.4L1299.8 1116.7L1292.2 1115.1L1286.9 1114.2L1280.4 1111.7L1275.6 1119.5L1274.9 1126.4L1272.8 1137.0L1271.6 1145.3L1273.4 1151.8L1282.4 1152.9L1284.3 1153.3M1376.3 1023.8L1373.4 1029.5L1370.4 1036.3L1369.6 1043.1L1368.9 1048.6L1370.7 1056.9L1376.7 1058.3L1381.5 1060.2L1390.3 1060.3L1400.0 1059.1L1405.8 1059.2L1407.6 1066.7L1410.8 1072.4L1420.9 1069.9L1426.1 1064.1L1433.4 1059.9L1438.8 1053.5L1441.9 1046.7L1435.7 1044.1L1428.0 1041.2L1422.2 1041.6L1416.2 1039.0L1410.8 1037.6L1407.1 1034.8L1401.4 1035.9L1395.2 1039.1L1386.9 1038.6L1388.6 1031.0L1389.4 1023.4L1390.2 1017.5L1383.8 1019.4L1376.3 1023.8M1033.0 1235.7L1038.9 1235.9L1044.1 1237.9L1048.4 1239.5L1055.0 1240.8L1063.0 1241.7L1068.4 1241.1L1073.3 1238.1L1080.2 1238.5L1085.8 1235.7L1092.4 1233.3L1097.8 1232.5L1102.5 1231.6L1108.2 1231.6L1114.1 1230.2L1121.5 1228.9L1127.5 1227.4L1133.6 1227.7L1139.8 1226.4L1144.6 1225.6L1150.7 1223.7L1156.6 1223.1L1163.5 1226.0L1166.7 1234.1L1161.4 1240.7L1170.2 1243.5L1177.4 1243.6L1185.1 1242.5L1190.0 1242.1L1197.8 1241.1L1203.2 1240.1L1209.5 1240.6L1215.1 1240.5L1221.6 1242.0L1226.5 1241.5L1232.4 1241.4L1240.7 1239.6L1245.0 1234.3L1248.1 1228.4L1251.8 1221.7L1257.3 1218.8L1264.4 1217.7L1269.5 1216.3L1276.2 1217.1L1282.4 1215.3L1288.1 1214.4L1294.4 1212.4L1298.6 1209.3L1304.8 1207.6L1311.6 1202.6L1315.3 1198.6L1321.8 1195.1L1328.8 1191.3L1335.4 1188.6L1340.0 1192.8L1347.3 1194.8L1352.4 1196.1L1358.5 1197.4L1365.5 1199.0L1371.5 1200.0L1376.6 1200.2L1382.0 1200.5L1388.2 1199.1L1395.7 1200.2L1400.7 1200.1L1406.5 1202.2L1413.7 1200.8L1422.9 1200.1L1428.2 1196.4L1432.4 1194.1L1437.8 1190.7L1444.1 1190.1L1448.3 1186.0L1455.3 1183.7L1460.9 1178.4L1469.0 1173.0L1471.6 1169.8L1476.7 1163.4L1480.5 1158.8L1484.3 1156.8L1488.0 1151.2L1491.2 1146.1L1494.7 1142.3L1499.4 1137.4L1502.7 1131.2L1507.0 1127.1L1508.9 1128.6L1507.5 1135.0L1504.6 1140.1L1500.7 1145.5L1497.6 1153.3L1493.1 1158.6L1491.0 1162.7L1487.1 1168.8L1482.2 1172.3L1477.4 1175.7L1473.4 1179.7L1470.4 1185.5L1466.9 1188.5L1462.4 1193.3L1458.0 1196.6M1033.0 1235.7L1027.5 1240.8L1023.9 1244.8L1018.3 1245.8L1010.6 1248.2L1003.4 1250.1L999.3 1255.5L996.7 1259.3L988.4 1262.3L982.4 1266.5L976.0 1266.5L969.5 1269.7L964.0 1269.4L958.0 1272.1L952.2 1274.4L946.9 1276.1L941.1 1278.3L932.3 1279.0L926.4 1282.2L930.1 1292.1L924.9 1299.8L916.7 1300.8L920.7 1307.3L925.0 1310.5L930.2 1312.9L936.5 1314.9L944.0 1318.0L949.8 1321.0L958.6 1326.0L963.0 1328.5L969.6 1329.5L974.4 1329.9L979.4 1331.6L985.5 1333.3L991.6 1335.0L999.8 1335.4L1006.0 1337.5L1012.1 1339.2L1016.6 1339.2L1022.5 1337.8L1029.3 1339.1L1033.5 1339.8L1040.0 1340.5L1046.4 1340.7L1053.2 1340.8L1059.5 1341.7L1065.0 1341.7L1072.1 1342.3L1079.0 1341.4L1086.3 1340.0L1090.0 1339.9L1097.0 1340.6L1103.3 1340.1L1111.0 1338.4L1117.1 1338.6L1122.7 1338.9L1131.3 1339.8L1137.5 1339.4L1142.7 1339.7L1149.4 1336.7L1155.9 1336.9L1161.7 1336.1L1166.6 1335.7L1173.3 1334.9L1171.6 1336.2L1171.6 1336.3M1340.0 1192.8L1345.3 1195.3L1352.4 1196.1L1356.7 1188.5L1359.1 1183.0L1361.0 1190.2L1367.5 1189.5L1373.5 1188.1L1378.9 1188.3L1384.7 1188.8L1390.6 1187.9L1395.8 1187.2L1401.9 1186.0L1410.3 1187.0L1417.9 1186.8L1422.8 1184.4L1428.4 1184.1L1433.8 1182.5L1440.1 1179.8L1448.0 1181.5L1455.7 1180.0L1461.1 1174.4L1464.7 1169.8L1468.9 1166.1L1471.7 1160.4L1475.0 1157.3L1478.4 1151.6L1483.1 1149.2L1486.7 1143.7L1490.5 1137.3L1493.8 1132.2L1497.1 1127.7L1499.2 1122.4L1503.9 1115.9L1506.8 1111.3L1511.1 1104.8L1513.3 1101.2L1515.8 1094.5L1518.0 1088.0L1522.6 1082.2L1525.0 1075.6L1525.7 1072.1L1527.9 1065.7L1527.0 1057.6L1527.2 1049.4L1527.0 1043.7L1518.6 1050.3L1514.0 1054.4L1508.6 1059.8L1505.2 1064.0L1498.0 1063.5L1495.3 1071.3L1494.2 1076.0L1492.6 1081.8L1490.3 1087.4L1486.1 1091.5L1483.4 1096.0L1478.5 1100.8L1471.4 1103.0L1463.6 1105.7L1452.8 1108.0L1444.7 1106.5L1444.9 1101.1L1450.2 1096.4L1456.8 1092.3L1463.1 1089.5L1470.1 1088.5L1473.3 1085.0L1479.0 1080.2L1482.7 1078.2L1487.0 1074.0L1491.9 1066.4L1494.9 1060.3L1500.1 1056.4L1503.4 1051.1L1508.8 1047.2L1513.0 1043.8L1517.2 1037.4L1518.7 1031.6L1523.3 1026.9L1526.8 1021.1L1529.3 1017.1L1532.0 1012.0L1533.2 1007.0L1537.9 1000.8L1539.5 995.7L1543.0 989.4L1544.5 985.4L1551.8 980.8L1556.2 975.5L1559.5 972.3L1563.6 969.0L1567.0 963.7L1572.7 957.8L1574.1 952.6L1577.3 946.0L1578.8 939.6L1584.2 939.4L1591.2 937.6L1599.9 932.4L1604.2 927.8L1608.0 924.8L1611.7 919.9L1615.5 914.8L1618.0 909.7L1621.2 903.2L1621.6 895.4L1623.0 888.9L1621.9 880.7L1617.8 875.1L1612.7 877.1L1611.5 869.0L1612.3 862.7L1611.3 857.3L1610.9 850.8L1610.0 845.1L1609.6 838.8L1608.6 832.1L1607.3 828.1L1605.1 820.1L1605.2 815.2L1599.9 810.3L1600.1 803.9L1598.8 798.4L1599.4 794.0L1599.9 787.5L1599.5 781.8L1597.2 774.0L1600.6 764.8L1605.4 755.4L1608.5 749.2L1611.0 743.0L1617.1 740.6L1615.0 733.6L1614.0 726.8L1613.7 718.9L1613.7 712.6L1615.8 707.5L1619.6 702.2L1625.4 701.3L1628.7 702.8L1628.5 696.5L1629.2 690.7L1628.4 683.2L1628.4 673.2L1625.8 666.3L1625.6 660.0L1624.4 652.1L1622.7 645.4L1623.4 653.3L1624.2 659.1L1624.7 667.0L1623.9 671.7L1624.5 677.1L1625.6 683.7L1625.4 688.9L1624.4 694.7L1619.4 687.7L1615.4 683.6L1616.6 678.5L1615.2 672.4L1616.2 665.9L1614.6 659.3L1613.0 653.8L1614.7 648.8L1613.4 642.8L1614.6 639.5L1612.1 634.3L1609.2 627.9L1608.1 622.3L1605.1 617.1L1603.5 611.1L1599.1 608.1L1597.2 602.5L1592.7 603.1L1591.8 610.9L1590.6 616.8L1591.1 623.7L1591.7 632.3L1590.9 638.1L1582.3 632.0L1580.3 626.9L1576.7 622.6L1574.0 617.4L1574.8 611.4L1573.4 603.0L1566.3 595.9L1564.7 590.0L1560.8 586.7L1558.1 580.9L1556.4 574.6L1552.4 570.2L1549.6 564.7L1547.2 560.1L1542.4 555.3L1540.3 551.0L1535.1 545.9L1528.5 541.0L1521.7 535.8L1516.5 532.4L1511.9 529.7L1506.6 527.8L1501.3 524.2L1493.1 524.3L1494.2 533.5L1485.5 530.9L1483.5 537.4L1483.1 542.1L1482.6 550.1L1479.8 558.1L1473.8 554.0L1465.6 550.7L1459.4 547.1L1455.4 543.2L1456.4 547.7L1459.0 554.7L1462.2 558.6L1466.4 563.8L1466.4 570.0L1463.9 578.3L1458.6 573.4L1451.2 568.1L1445.4 563.5L1441.1 561.1L1446.4 557.8L1450.7 555.2L1445.0 551.2L1442.0 547.3L1436.8 541.6L1433.6 534.7L1441.1 529.4L1439.5 522.8L1435.8 517.0L1443.8 513.0L1451.6 509.3L1445.8 501.5L1440.1 498.0L1434.2 493.3L1427.0 496.2L1425.0 501.1L1424.5 507.2L1424.9 517.6L1417.6 518.4L1411.6 516.2L1404.8 512.6L1397.2 512.5L1392.1 512.7L1386.8 509.1L1379.1 503.2L1372.2 500.0L1366.4 496.9L1361.9 495.2L1354.8 495.0L1347.2 495.4L1339.1 496.9L1332.5 496.4L1325.5 498.2L1321.2 497.9L1314.1 499.8L1309.7 505.0L1305.8 508.5L1301.1 513.5L1294.8 517.7L1288.6 521.3L1293.5 527.4L1297.7 532.8L1299.4 537.0L1303.9 541.8L1300.9 548.5L1299.7 554.4L1294.7 554.5L1286.3 553.7L1281.5 554.2L1276.6 555.0L1270.1 554.0L1263.5 555.2L1257.2 554.9L1250.9 554.9L1244.7 550.9L1239.2 545.6L1234.6 541.3L1229.1 538.9L1223.7 534.6L1219.1 530.3L1212.6 529.6L1207.7 528.2L1201.6 526.0L1196.0 529.0L1190.6 529.3L1185.3 532.6L1178.9 532.2L1170.6 531.5L1164.8 531.8L1157.1 532.6L1150.4 534.0L1155.0 526.3L1162.5 520.7L1168.0 517.0L1174.2 512.4L1181.7 508.4L1188.7 507.0L1193.4 504.4L1199.4 502.2L1203.1 497.5L1208.6 493.6L1212.4 490.2L1213.5 482.6L1216.3 476.5L1217.9 471.0L1218.8 464.5L1218.1 458.5L1211.3 459.9L1207.0 461.8L1201.5 462.9L1194.5 465.7L1190.1 468.9L1185.2 472.7L1181.6 476.3L1176.5 479.1L1170.7 483.0L1168.0 491.0L1167.4 497.4L1163.5 506.7L1157.3 507.2L1153.4 509.9L1146.9 510.8L1142.5 508.8L1136.6 509.1L1130.9 507.4L1125.3 506.3L1119.1 508.8L1112.1 513.0L1105.8 516.4L1100.3 518.1L1094.5 518.8L1088.1 522.4L1081.2 528.3L1086.2 536.1L1089.5 541.7L1087.3 546.1L1082.5 549.4L1079.0 554.8L1072.9 550.4L1068.4 546.8L1062.2 542.1L1055.1 543.4L1049.6 543.3L1046.6 552.6L1039.4 558.3L1043.2 561.1L1048.5 565.9L1055.8 567.5L1061.7 570.2L1068.0 573.1L1073.6 576.0L1079.0 580.1L1082.4 583.8L1088.9 587.2L1092.5 589.8L1099.6 588.2L1103.7 586.4L1110.5 584.4L1110.7 593.8L1117.8 592.2L1126.5 592.4L1131.8 594.4L1137.5 597.2L1142.1 599.8L1146.0 606.6L1147.4 613.7L1152.3 616.0L1157.3 619.1L1162.1 621.2L1167.5 623.3L1171.2 627.5L1172.5 634.8L1175.9 639.3L1179.2 644.9L1184.0 647.6L1186.3 652.8L1192.2 651.3L1198.1 650.7L1204.2 653.4L1212.6 658.4L1215.4 668.6L1213.8 674.5L1209.7 680.9L1213.6 687.9L1216.6 693.7L1218.0 699.8L1219.7 708.2L1223.6 711.7L1228.8 716.3L1228.7 721.1L1228.9 727.7L1230.5 733.8L1226.5 729.0L1222.4 725.1L1214.2 725.2L1207.8 727.0L1205.7 734.4L1203.3 740.6L1199.7 746.1L1195.0 754.1L1202.4 756.8L1207.0 760.1L1213.4 764.1L1215.7 769.5L1217.4 775.7L1221.8 783.1L1224.1 788.1L1232.3 791.9L1237.9 794.1L1236.5 801.5L1236.1 809.3L1245.4 810.8L1248.6 819.0L1246.5 827.9L1254.6 833.3L1260.7 835.8L1265.2 835.8L1270.1 838.4L1276.6 839.7L1284.2 842.9L1290.9 845.8L1290.5 855.8L1287.5 850.7L1279.9 849.1L1275.9 845.7L1269.0 843.6L1262.0 840.7L1256.5 838.1L1248.8 836.5L1243.7 835.4L1237.2 832.9L1233.1 839.1L1235.8 844.5L1238.4 847.6L1242.9 852.6L1248.0 854.3L1255.6 858.0L1265.4 858.3L1269.0 861.7L1261.8 863.7L1253.8 866.4L1254.5 871.5L1253.4 878.0L1253.1 883.5L1252.8 888.1L1251.4 895.0L1247.6 897.6L1243.1 902.2L1240.4 909.0L1240.0 918.1L1237.8 922.0L1234.7 928.2L1226.9 925.8L1225.0 934.2L1230.2 937.8L1234.4 943.9L1233.2 951.2L1228.5 961.2L1234.2 968.0L1230.4 972.5L1228.7 978.1L1222.4 977.4L1214.3 977.7L1209.5 975.3L1203.5 971.0L1196.8 967.9L1205.7 967.4L1212.6 962.9L1218.6 960.4L1224.5 956.4L1222.8 948.4L1212.7 945.2L1203.7 945.4L1197.2 945.6L1188.4 948.4L1178.8 949.0L1172.6 945.2L1165.4 945.8L1159.1 947.2M1196.4 829.3L1197.6 834.0L1199.2 841.0L1199.4 845.7L1200.5 852.9L1201.5 861.0L1206.3 867.1L1208.7 875.5L1212.1 881.7L1216.2 889.0L1221.7 891.9L1226.3 894.0L1231.2 890.9L1233.6 885.3L1226.8 882.0L1222.4 880.4L1218.0 876.6L1214.2 870.8L1211.0 863.9L1208.2 859.1L1205.6 851.7L1204.7 845.7L1202.8 840.4L1200.9 833.5L1196.4 829.3M1105.9 876.6L1098.1 881.5L1100.5 888.6L1102.9 895.2L1107.1 899.9L1109.7 902.6L1114.6 907.1L1117.5 898.1L1119.1 887.4L1118.1 877.5L1112.3 874.5L1105.9 876.6M1115.5 873.3L1125.5 876.2L1119.7 868.3L1115.5 873.3M1166.4 775.4L1171.2 772.3L1174.3 766.8L1179.4 763.5L1187.1 761.7L1193.7 761.7L1189.2 768.5L1185.8 775.5L1178.1 774.9L1172.0 776.3L1166.4 775.4M1169.8 682.1L1167.9 676.4L1165.2 668.6L1175.1 664.3L1176.1 671.0L1178.0 676.8L1169.8 682.1M1157.5 666.6L1155.2 661.0L1151.6 657.3L1159.1 659.6L1157.5 666.6M1082.1 605.0L1072.6 600.5L1080.6 598.5L1082.1 605.0M1145.7 843.0L1153.1 839.2L1158.2 836.4L1163.4 831.7L1157.2 836.2L1153.5 841.2L1145.7 843.0M1277.4 522.6L1279.8 516.5L1283.0 511.8L1285.9 506.4L1288.6 498.8L1292.5 492.4L1300.2 489.3L1307.0 484.8L1308.2 476.6L1310.8 469.7L1318.9 475.9L1315.4 482.4L1310.1 487.2L1304.1 494.0L1300.5 498.5L1296.9 505.4L1293.1 511.9L1288.1 515.0L1281.6 519.0L1277.4 522.6M1321.1 473.1L1318.5 468.0L1315.5 464.0L1312.6 456.7L1310.5 452.4L1311.4 444.9L1316.6 446.2L1323.3 448.5L1329.9 450.0L1334.6 453.1L1340.5 456.5L1346.3 458.8L1340.0 466.4L1334.3 468.4L1327.8 470.4L1321.1 473.1M1343.4 456.5L1345.1 450.2L1345.5 441.9L1352.4 441.6L1357.2 439.4L1361.6 436.8L1366.5 431.8L1374.4 431.0L1378.5 434.1L1385.2 437.7L1388.9 442.0L1393.9 445.3L1398.5 446.6L1405.1 447.6L1405.9 456.1L1410.1 460.5L1414.4 463.0L1418.8 468.4L1424.6 471.8L1430.0 477.9L1424.7 475.3L1417.8 474.0L1413.0 471.5L1407.2 468.5L1403.3 464.7L1397.3 462.6L1394.1 458.6L1388.3 454.8L1380.8 455.9L1375.9 447.4L1369.8 449.5L1364.1 449.1L1355.2 453.8L1349.7 454.7L1343.4 456.5M1430.4 477.5L1440.5 481.8L1445.1 473.6L1439.7 467.3L1434.2 467.1L1428.6 468.2L1430.4 477.5M1415.2 464.0L1412.7 455.1L1417.5 457.3L1423.9 461.4L1425.6 468.8L1421.5 465.9L1415.2 464.0M1511.3 517.0L1519.5 515.8L1525.8 516.7L1523.6 524.2L1516.7 520.5L1511.3 517.0M1572.8 598.4L1581.1 605.2L1580.8 613.1L1577.1 608.9L1574.6 603.8L1572.8 598.4M1535.0 509.0L1536.5 502.4L1536.3 497.2L1540.6 494.5L1543.7 499.6L1547.9 505.7L1545.3 513.8L1541.0 511.4L1535.0 509.0M1529.1 462.0L1527.8 453.4L1534.3 460.6L1538.3 464.9L1541.5 471.6L1544.7 478.2L1548.9 482.3L1551.0 488.1L1547.5 481.2L1541.7 476.8L1536.5 472.1L1534.1 468.0L1529.1 462.0M1575.1 530.2L1573.7 523.5L1568.9 519.1L1567.4 512.3L1573.0 520.3L1569.6 511.1L1572.0 518.6L1576.6 524.0M1609.4 600.4L1607.2 594.9L1603.9 588.4L1602.6 582.0L1599.7 576.9L1596.4 569.3L1594.7 564.1L1590.9 559.9L1588.6 554.5L1585.3 548.8L1583.4 542.4L1579.7 535.7L1575.1 530.2M1635.0 731.4L1635.5 725.4L1634.2 720.0L1633.6 716.0L1632.4 709.2L1632.2 703.4L1632.5 698.3L1631.8 692.0L1631.1 685.9L1628.7 679.8L1628.4 674.6L1627.8 667.0L1626.6 661.6L1624.5 652.0M1635.0 731.4L1633.8 724.4L1635.0 716.7L1634.2 710.9L1635.1 704.3L1633.4 698.2L1632.3 690.4M1623.7 877.1L1626.7 870.2L1630.1 862.4L1629.0 869.4L1629.3 875.1L1625.8 881.4L1623.7 877.1M1174.4 1213.4L1179.5 1213.0L1185.6 1211.2L1190.2 1209.2L1196.8 1207.8L1196.2 1217.3L1188.9 1215.9L1182.8 1216.1L1175.2 1216.9L1174.4 1213.4M1147.2 1199.6L1150.2 1205.0L1151.5 1211.7L1142.7 1214.3L1141.5 1208.8L1139.5 1202.7L1147.2 1199.6M1146.0 1187.8L1146.3 1198.4L1141.1 1193.9L1146.0 1187.8M1261.6 1201.0L1269.1 1199.6L1274.7 1197.5L1282.1 1194.0L1277.2 1198.3L1271.0 1200.5L1261.6 1201.0M1337.7 1158.0L1336.0 1164.0L1332.3 1169.2L1327.1 1172.5L1328.0 1167.9L1332.7 1163.1L1337.7 1158.0M537.7 905.0L536.8 898.8L536.2 891.0L534.2 884.0L532.9 877.1L532.0 872.4L529.7 865.9L528.9 860.3L529.8 855.7L529.3 847.7L527.2 842.3L527.7 837.6L527.8 831.2L529.6 821.4L530.1 813.7L532.9 805.9L531.9 800.2L534.3 792.7L533.5 787.8L533.8 780.5L535.8 775.5L536.6 767.8L536.3 762.2L537.6 757.8L539.1 750.9L540.7 746.0L541.4 740.7L540.7 734.3L542.4 726.9L542.7 721.9L544.5 715.4L544.3 711.0L545.8 702.9L548.4 697.0L549.8 691.6L552.1 685.7L553.4 678.8L556.5 673.4L558.1 667.5L559.4 661.6L563.3 655.7L566.3 651.2L568.2 646.1L576.0 643.5L581.1 640.5L584.6 636.6L588.1 632.1L593.5 626.2L597.2 623.2L600.2 618.1L609.3 612.0L614.2 607.2L620.3 602.3L625.5 599.5L631.6 597.8L636.4 595.1L641.3 590.2L644.4 583.1L633.6 582.8L629.1 587.3L624.4 589.5L619.3 592.6L612.9 595.0L607.7 599.7L603.7 602.4L596.9 607.1L592.2 610.6L596.0 607.0L598.1 600.5L601.9 595.4L605.7 591.8L611.1 587.2L618.6 582.8L627.2 580.0L634.4 575.5L640.3 571.9L646.7 569.6L655.1 567.0L662.1 564.5L670.3 561.1L676.2 555.8L680.6 548.3L688.5 546.3L696.6 544.0L701.5 543.1L708.2 542.2L713.2 542.8L720.0 542.5L725.5 541.9L729.7 544.1L734.6 548.5L740.5 551.2L745.3 553.8L748.8 557.6L753.0 561.6L757.1 565.9L764.8 567.6L772.2 570.5L768.9 574.3L764.2 578.6L771.0 581.5L777.5 577.7L783.6 576.2L788.4 573.0L795.7 570.2L800.0 566.6L804.8 568.5L811.7 570.4L817.9 569.9L825.6 570.5L831.3 571.4L839.7 572.8L845.9 573.1L852.9 572.5L859.2 573.1L867.0 574.6L874.4 576.2L880.0 577.0L886.1 573.0L890.5 572.0L895.7 568.4L901.4 565.6L906.3 562.0L910.7 558.1L917.1 556.0L923.9 555.1L930.9 554.9L936.0 549.6L937.1 539.1L940.9 535.3L943.3 529.8L945.5 537.1L948.4 542.5L943.9 548.9L947.8 544.6L951.4 538.0L952.0 528.2L952.8 518.4L954.6 512.5L958.8 506.6L962.9 499.2L964.9 493.4L971.4 488.0L975.5 482.6L981.3 477.8L987.2 472.9L982.7 477.6L977.6 482.2L974.3 487.3L970.5 491.9L967.4 496.4L965.5 502.0L965.9 512.6L971.1 511.9L977.2 510.8L982.5 507.8L988.9 505.8L993.1 509.3L999.2 510.3L1004.0 512.7L1008.1 518.8L1014.2 523.3L1013.9 529.9L1012.2 537.2L1005.8 541.2L999.6 545.6L1001.6 554.2L1008.9 551.4L1016.5 549.7L1022.7 553.4L1030.6 555.4L1026.1 558.8L1020.8 562.6L1017.3 568.0L1009.0 567.7L1017.8 572.5L1023.9 577.2L1030.6 581.3L1025.3 589.3L1023.7 597.1L1020.6 603.1L1016.6 607.7L1011.2 611.7L1008.1 617.7L1001.2 617.4L995.2 618.6L989.5 621.3L982.6 622.5L973.9 625.5L967.6 626.8L961.1 628.8L955.9 631.0L949.9 633.1L943.2 634.8L940.5 641.3L937.7 646.5L934.4 653.1L932.0 659.7L927.2 668.6L917.1 671.7L914.7 678.6L913.0 683.2L906.8 687.2L901.5 689.9L896.7 694.1L886.1 695.1L885.5 701.6L885.3 705.5L883.2 711.7L876.8 719.3L878.6 724.8L877.0 731.0L878.7 736.7L875.6 742.5L872.8 747.3L868.5 751.5L872.8 757.2L877.2 761.8L886.5 761.1L893.8 765.0L901.7 767.5L894.1 770.5L887.3 774.6L882.6 779.6L873.4 781.2L875.3 790.1L880.3 795.4L885.0 798.3L886.9 808.3L880.9 811.1L875.4 811.6L866.7 814.7L861.1 811.7L854.1 808.6L854.1 798.7L849.1 797.0L842.2 794.6L833.2 789.4L833.1 778.7L824.4 778.6L820.1 774.7L817.1 768.4L812.0 764.3L805.4 762.0L799.5 759.5L789.3 760.2L783.1 765.8L776.2 769.8L773.0 776.8L771.8 783.0L768.0 789.7L765.6 796.7L762.9 802.6L760.0 810.9L761.5 817.1L762.4 824.7L756.6 825.9L751.5 826.4L744.5 828.8L740.7 833.6L734.6 840.6L733.4 847.1L738.7 848.9L744.1 849.9L751.3 845.9L758.7 842.4L762.6 846.0L767.5 849.8L773.3 853.6L778.7 852.0L782.8 849.1L788.8 847.3L794.3 844.8L800.5 842.2L807.6 840.1L813.0 839.5L819.5 838.9L825.0 837.9L827.0 844.2L827.7 850.5L828.3 854.9L824.9 862.3L822.7 868.8L823.8 876.9L817.1 879.1L812.3 882.7L810.1 888.1L807.6 893.8L813.3 895.6L822.1 899.3L827.5 901.3L823.8 906.2L821.9 911.9L817.8 916.1L815.3 922.2L810.5 928.8L806.7 936.4L803.8 941.9L802.6 949.0L800.6 952.8L800.9 960.2L798.1 967.4L796.5 975.0L786.8 974.2L780.9 971.2L775.3 967.1L768.7 962.2L765.9 956.3L762.0 950.3L759.0 947.0L756.2 940.4L751.2 934.4L747.6 930.0L742.3 925.9L737.1 922.1L732.0 916.2L724.7 911.4L717.7 908.8L722.3 911.7L726.1 917.2L731.1 920.0L734.5 924.0L738.8 928.0L743.6 932.8L746.8 937.9L746.7 942.9L741.9 943.3L735.5 943.2L731.7 947.9L728.7 953.8L730.8 958.1L733.9 964.8L735.3 969.6L733.3 974.6L729.8 969.3L724.0 965.2L720.9 961.5L717.5 958.8L713.4 953.8L708.1 950.5L712.9 944.5L721.3 951.3L718.2 944.6L715.1 937.5L711.3 933.0L705.4 930.2L702.0 924.6L696.8 920.6L689.6 918.6L685.8 921.5L685.4 926.3L681.0 917.7L675.2 910.3L672.6 905.6L669.5 900.4L662.3 900.1L657.3 896.0L650.5 894.4L644.3 891.4L635.0 897.0L630.1 889.1L627.2 884.6L622.7 878.3L619.4 872.4L614.1 865.0L607.8 860.9L603.5 854.9L594.4 859.8L591.1 865.4L586.6 868.9L578.9 867.6L577.5 861.5L581.8 852.9L587.6 845.1L592.0 842.8L594.4 837.8L595.6 832.1L593.3 822.9L595.7 816.6L595.8 808.3L594.6 801.9L594.2 798.2L594.2 791.5L589.3 787.3L590.6 782.6L590.5 776.1L589.9 770.2L591.7 763.1L590.9 757.4L592.8 750.7L590.4 742.6L589.7 735.9L589.2 729.3L587.9 724.7L585.4 719.8L577.9 719.7L571.1 714.3L564.8 712.6L557.4 719.0L551.5 727.6L550.9 734.1L548.6 741.3L548.1 748.0L547.9 753.1L548.0 758.4L547.3 764.4L549.1 770.0L550.2 776.5L555.3 780.3L556.3 786.7L555.8 795.0L557.4 801.2L557.4 810.3L552.3 806.0L547.4 803.4L544.2 799.8L539.9 794.3L539.3 798.9L539.0 806.1L539.9 811.3L541.3 818.5L541.5 823.4L541.5 830.0L540.6 838.0L540.8 846.2L535.9 844.9L531.5 842.5L530.6 850.3L530.0 856.8L531.0 864.9L533.3 871.0L534.3 878.8L535.0 883.8L536.1 891.5L537.0 898.2L537.7 905.0L540.5 910.9L543.0 916.5L545.0 921.1L546.2 926.2L549.5 932.8L552.3 937.4L555.0 943.9L555.5 950.6L558.8 955.0L556.8 957.7L560.8 965.2L563.0 970.8L566.2 978.6L567.5 984.5L569.2 989.5L571.4 996.2L572.6 1002.2L575.2 1007.3L578.2 1012.3L580.8 1018.4L583.2 1022.3L585.2 1027.0L587.8 1033.3L591.2 1042.4L593.2 1047.8L596.8 1053.9L598.5 1060.4L602.3 1067.4L603.7 1072.9L606.6 1078.2L611.1 1086.9L614.3 1092.0L618.0 1096.4L620.3 1102.1L623.0 1107.2L627.5 1111.1L631.5 1114.8L632.7 1119.3L637.0 1124.7L640.1 1129.6L643.9 1135.4L646.4 1139.6L649.2 1143.6M537.7 905.0L535.0 901.6L533.1 906.0L531.4 898.6L529.2 892.9L527.4 887.2L526.5 880.4M923.9 810.3L923.8 818.8L918.0 824.4L911.9 829.3L909.3 835.7L907.8 841.4L905.5 844.8L904.8 851.6L899.6 856.7L893.3 859.9L891.7 866.1L888.4 872.1L886.9 878.8L883.5 883.5L882.4 889.7L876.9 888.6L870.8 886.8L860.1 885.1L854.1 887.5L848.7 891.8L842.4 888.4L843.6 882.0L846.1 874.7L838.0 870.7L840.7 866.2L843.4 859.5L845.1 852.9L845.7 845.5L844.5 839.1L842.8 833.2L847.9 838.0L850.5 842.6L855.4 847.1L865.1 848.4L873.7 845.8L875.7 838.2L879.5 832.7L886.2 828.1L891.0 821.3L889.3 815.5L889.0 809.7L889.7 803.9L892.2 796.1L893.1 789.6L896.4 784.6L904.5 784.9L910.3 784.5L915.0 788.8L919.9 791.3L922.4 799.5L923.9 810.3M923.0 732.3L916.4 737.9L910.5 738.0L902.2 737.3L897.4 741.7L890.7 746.4L882.3 741.2L881.7 735.4L880.4 729.8L884.1 722.4L887.2 717.0L888.5 710.6L889.7 702.7L896.2 700.2L900.8 696.1L906.1 695.4L912.9 696.5L922.6 698.1L928.7 706.4L929.2 716.3L921.5 722.5L923.0 732.3M949.6 703.7L944.1 707.9L940.6 710.5L935.8 713.2L934.2 707.4L931.5 701.2L925.6 692.7L927.4 684.5L937.9 682.3L943.2 687.8L947.7 692.8L947.5 699.1L949.6 703.7M1014.8 806.4L1014.0 811.2L1014.3 817.4L1004.5 819.4L998.6 817.2L992.4 817.3L987.5 816.3L981.9 813.6L975.6 810.7L965.8 811.2L959.0 810.7L950.7 809.1L949.6 803.5L947.9 795.7L948.2 789.9L957.7 787.2L967.2 786.9L977.0 790.1L986.5 786.2L991.3 779.9L1000.9 783.0L1003.0 787.6L1006.5 793.2L1012.7 799.5L1014.8 806.4M952.1 800.8L945.5 804.0L940.7 807.4L931.9 806.3L929.8 800.1L929.7 795.1L929.2 788.2L931.4 782.3L933.9 777.9L943.5 775.9L950.9 783.0L952.0 789.2L951.7 795.1L952.1 800.8M994.3 778.6L988.9 782.1L981.7 787.2L972.0 786.7L965.3 781.0L972.5 777.1L977.3 772.3L986.9 773.3L994.3 778.6M954.4 742.5L948.0 743.6L943.6 745.5L940.1 740.5L938.1 731.7L941.5 723.2L945.9 721.5L952.2 718.4L959.6 724.8L957.6 733.9L954.4 742.5M924.4 758.5L918.2 761.4L911.6 762.4L902.9 756.7L906.2 751.8L911.9 749.0L918.2 749.2L922.9 751.2L924.4 758.5M924.8 770.9L919.8 775.1L915.0 780.1L909.3 776.1L906.0 772.4L914.0 765.7L919.4 768.4L924.8 770.9M851.7 802.9L849.9 808.1L848.2 813.6L844.8 820.1L839.5 822.1L831.8 822.2L829.8 816.5L830.1 809.8L827.9 805.0L831.8 800.3L837.8 795.6L845.2 798.7L851.7 802.9M950.0 760.3L939.9 763.5L936.0 757.8L942.1 751.4L945.2 756.4L950.0 760.3M968.9 763.6L961.6 766.5L960.2 757.8L968.6 755.5L968.9 763.6M966.4 737.5L960.4 739.8L960.2 730.1L969.9 729.8L966.4 737.5M884.4 755.7L877.2 761.8L877.7 756.1L875.9 750.8L884.4 755.7M791.8 980.4L785.8 983.0L780.0 984.6L783.7 992.8L786.1 999.7L782.1 1006.7L777.1 1012.1L769.7 1011.9L766.4 1005.6L763.7 999.7L761.3 994.3L758.4 988.6L757.7 981.3L754.1 976.7L760.1 975.8L765.2 975.3L772.6 976.2L778.7 975.8L784.6 977.7L791.8 980.4M752.8 938.6L753.8 944.5L755.6 950.3L755.3 956.6L753.5 952.3L752.3 945.9L752.8 938.6M735.1 950.7L734.1 958.9L734.9 966.0L733.4 955.3L735.1 950.7M567.0 850.4L568.3 857.1L569.7 863.7L569.7 869.1L569.7 874.7L570.2 881.9L569.6 888.7L569.6 895.3L570.4 900.4L569.7 905.8L572.3 912.2L572.0 919.4L572.1 925.5L569.6 920.2L567.8 913.4L567.7 907.7L564.7 902.8L564.0 897.2L565.7 892.1L564.7 885.3L566.1 878.1L565.9 871.7L564.7 866.7L564.6 859.9L564.6 851.9L564.6 846.2L563.3 838.1L560.6 830.2L563.0 836.8L565.9 842.5L567.0 850.4M574.5 937.2L575.0 942.5L579.1 947.2L580.8 953.3L582.3 957.1L583.0 963.5L583.9 970.4L584.3 977.9L582.6 973.0L579.8 968.0L577.7 962.0L575.1 956.5L572.4 950.7L571.3 945.1L569.9 938.0L567.9 931.6L566.0 926.2L570.0 931.0L574.5 937.2M558.0 890.9L559.5 898.1L559.0 903.0L561.2 909.2L560.3 905.1L557.5 898.6L558.0 890.9M588.6 989.2L592.2 994.5L593.6 1002.2L589.7 995.7L588.6 989.2M594.7 1045.9L595.9 1050.8L592.3 1044.0L594.7 1045.9M863.2 302.8L853.8 304.5L860.7 299.6L864.2 300.5L863.2 302.8M884.4 299.0L880.7 299.4L884.9 297.7L884.4 299.0M1014.1 512.7L1009.3 509.5L1017.1 508.5L1014.1 512.7M1042.3 537.2L1036.3 537.0L1030.7 534.7L1037.2 534.9L1042.6 533.6L1042.3 537.2M943.3 516.6L942.7 509.6L949.2 510.9L943.3 516.6M837.8 558.1L827.3 558.0L820.3 556.5L827.4 557.0L834.2 556.3L837.8 558.1M800.7 563.2L796.9 566.1L791.8 569.1L786.0 573.4L780.0 574.2L775.7 578.4L768.4 577.4L773.4 572.1L780.5 567.7L786.0 566.6L795.0 565.3L800.7 563.2M709.7 794.6L703.6 786.3L699.8 780.9L697.8 774.6L695.2 769.6L693.6 779.6L694.5 787.0L695.1 793.1L694.9 798.8L693.6 806.6L694.3 811.9L694.5 818.7L701.4 816.0L705.9 807.1L708.8 802.0L709.7 794.6M690.5 813.6L683.4 812.1L677.7 811.3L672.9 808.6L666.8 806.1L661.2 802.0L666.2 809.7L676.2 808.3L680.5 812.7L685.2 817.5L690.5 813.6M692.8 823.6L691.8 828.5L692.3 834.4L690.1 841.1L688.4 846.5L685.6 852.4L678.9 846.4L674.2 841.3L676.1 834.7L678.2 830.1L686.3 828.4L692.8 823.6M675.6 861.4L671.1 857.7L669.1 851.6L665.2 844.0L662.4 837.8L663.6 831.8L665.8 838.9L668.6 844.3L670.1 849.6L672.1 856.1L675.6 861.4M687.4 877.7L680.4 871.4L679.0 863.7L677.4 856.7L682.2 863.7L685.3 870.3L687.4 877.7M751.3 734.0L745.8 737.6L740.0 741.4L732.3 741.2L724.5 742.6L729.6 736.4L733.4 732.6L739.0 730.2L744.3 728.2L751.3 734.0M888.2 675.1L879.0 678.9L877.9 674.1L878.9 667.1L877.3 661.8L881.3 652.1L891.0 653.8L888.4 660.0L888.3 666.1L888.2 675.1M838.0 695.3L834.0 686.5L832.7 679.9L830.5 672.4L833.6 667.3L834.8 661.3L840.1 662.3L839.8 669.6L840.8 676.9L840.3 682.5L837.8 690.4L838.0 695.3M806.7 699.8L806.6 689.2L806.9 678.6L809.3 679.5L809.0 690.0L806.7 699.8M787.7 723.7L780.1 719.5L777.1 714.4L783.7 714.8L787.7 723.7M1375.7 676.2L1386.5 675.3L1393.1 678.2L1401.0 681.5L1406.2 687.0L1410.0 691.6L1415.6 695.9L1418.1 699.7L1412.8 694.5L1409.1 689.6L1403.6 683.9L1396.4 679.9L1388.8 676.5L1381.9 674.5L1375.7 676.2M1456.0 856.3L1455.1 861.4L1456.4 866.9L1455.9 873.5L1457.4 879.4L1456.1 885.2L1457.0 891.4L1460.9 890.3L1459.5 883.3L1459.3 874.3L1458.5 869.0L1458.4 861.5L1458.1 856.7L1456.0 856.3M1413.9 972.5L1414.9 983.3L1419.4 993.3L1428.5 988.8L1429.2 982.7L1428.2 974.2L1421.5 969.0L1413.9 972.5M1216.0 1011.0L1215.0 1018.5L1224.3 1022.9L1228.8 1018.1L1227.1 1011.1L1221.0 1010.7L1216.0 1011.0M1226.1 993.1L1229.2 1001.5L1238.1 1003.6L1234.5 995.5L1226.1 993.1M1144.9 1061.7L1142.4 1069.2L1148.9 1067.7L1144.9 1061.7M1211.0 1312.3L1213.3 1313.6L1220.5 1311.0L1211.0 1312.3M531.7 823.2L530.8 831.0L530.7 822.3L531.7 823.2M555.8 957.1L554.8 961.5L552.9 953.9L555.8 957.1M924.2 811.7L923.7 816.2L920.8 818.6L917.2 817.6L915.0 813.4L915.6 808.7L918.6 806.4L922.1 807.7L924.2 811.7M887.2 756.0L885.3 760.2L881.9 761.6L878.9 759.4L878.1 754.8L880.1 750.5L883.6 749.2L886.5 751.6L887.2 756.0M940.0 770.8L938.7 773.3L936.0 774.3L933.4 773.0L932.5 770.2L933.8 767.6L936.6 766.8L939.2 768.2L940.0 770.8M976.4 760.2L974.3 763.2L970.7 763.9L967.7 761.9L967.0 758.2L969.2 755.1L972.8 754.5L975.8 756.7L976.4 760.2M970.1 723.1L966.3 726.7L961.8 726.8L959.1 723.1L960.1 717.6L964.2 713.8L968.7 714.1L971.1 718.0L970.1 723.1M972.6 740.0L970.3 742.9L967.2 743.4L965.2 741.1L965.5 737.2L968.0 734.1L971.1 733.8L973.0 736.3L972.6 740.0M977.3 744.0L975.5 746.2L973.2 746.6L971.7 744.8L971.9 741.9L973.7 739.6L976.0 739.3L977.5 741.1L977.3 744.0M968.8 770.4L967.4 773.1L964.6 774.0L962.0 772.6L961.2 769.6L962.7 766.8L965.5 766.0L968.1 767.6L968.8 770.4M826.4 815.4L825.9 819.2L823.7 821.2L821.0 819.9L819.5 816.2L820.0 812.3L822.3 810.4L824.9 811.7L826.4 815.4M822.2 828.3L821.8 830.6L820.2 831.9L818.2 831.3L817.1 829.2L817.4 826.8L819.1 825.6L821.1 826.2L822.2 828.3M748.4 833.6L747.9 836.6L745.9 838.1L743.5 837.3L742.2 834.5L742.7 831.5L744.7 830.0L747.0 830.9L748.4 833.6M877.5 832.1L876.9 835.4L874.2 837.5L870.7 837.1L868.7 834.3L869.2 830.9L872.1 828.9L875.5 829.4L877.5 832.1M838.7 895.0L838.9 897.1L837.6 898.7L835.6 898.7L834.1 897.2L833.9 895.1L835.2 893.6L837.2 893.6L838.7 895.0M935.6 893.1L935.9 895.7L933.9 898.4L930.7 899.7L928.2 898.7L927.9 896.0L930.0 893.3L933.1 892.1L935.6 893.1M1127.3 923.4L1128.4 923.5L1129.0 924.3L1129.0 925.4L1128.3 926.1L1127.3 926.0L1126.6 925.2L1126.6 924.1L1127.3 923.4M1052.8 962.4L1054.1 962.9L1054.5 964.0L1053.8 964.9L1052.4 965.1L1051.1 964.5L1050.7 963.4L1051.4 962.6L1052.8 962.4M1150.1 827.5L1152.7 825.4L1155.8 825.5L1157.5 828.1L1156.7 831.6L1153.9 833.8L1150.9 833.3L1149.4 830.7L1150.1 827.5M1157.3 824.7L1159.4 822.6L1161.7 822.4L1163.0 824.4L1162.5 827.4L1160.3 829.5L1157.9 829.5L1156.8 827.5L1157.3 824.7M1176.7 805.6L1177.6 804.2L1179.1 803.9L1180.3 804.8L1180.5 806.4L1179.6 807.8L1178.1 808.1L1176.9 807.1L1176.7 805.6M1144.0 670.4L1141.5 667.7L1141.4 664.6L1144.0 663.0L1147.8 663.8L1150.4 666.7L1150.3 669.8L1147.6 671.3L1144.0 670.4M1172.0 661.8L1170.2 659.1L1170.8 656.2L1173.4 654.8L1176.6 655.8L1178.4 658.7L1177.7 661.5L1175.1 662.8L1172.0 661.8M858.0 573.2L854.8 574.5L851.4 573.0L849.8 569.7L850.9 566.5L854.0 565.2L857.4 566.7L859.0 570.1L858.0 573.2M870.6 571.0L868.5 571.4L865.9 569.9L864.4 567.3L864.8 565.1L867.0 564.6L869.6 566.2L871.1 568.8L870.6 571.0M755.7 947.7L757.8 952.7L757.9 955.2L755.9 953.7L753.0 949.1L751.0 944.0L751.0 941.6L752.9 943.1L755.7 947.7M1009.9 457.8L1006.2 458.2L1004.5 457.7L1005.8 456.6L1009.4 455.4L1013.1 455.0L1014.8 455.5L1013.4 456.7L1009.9 457.8M1043.2 442.6L1040.7 442.6L1039.6 442.2L1040.6 441.5L1043.1 441.0L1045.6 441.0L1046.7 441.5L1045.7 442.1L1043.2 442.6M1121.2 448.8L1119.2 448.3L1118.4 447.7L1119.3 447.2L1121.4 447.3L1123.5 447.8L1124.2 448.4L1123.3 448.9L1121.2 448.8M1155.5 471.4L1153.7 470.7L1153.0 469.9L1154.0 469.4L1156.0 469.6L1157.8 470.3L1158.5 471.2L1157.5 471.7L1155.5 471.4M1226.3 458.4L1224.9 457.1L1224.8 455.6L1226.0 454.7L1227.8 454.9L1229.2 456.2L1229.3 457.7L1228.1 458.6L1226.3 458.4M1257.9 446.4L1256.9 445.4L1256.8 444.2L1257.8 443.6L1259.3 443.9L1260.3 445.0L1260.4 446.1L1259.4 446.7L1257.9 446.4M1287.4 449.5L1285.6 447.7L1285.5 446.0L1287.2 445.2L1289.6 446.0L1291.3 447.8L1291.4 449.6L1289.8 450.3L1287.4 449.5M1473.6 474.7L1473.1 473.5L1473.5 472.5L1474.6 472.4L1475.7 473.1L1476.1 474.3L1475.7 475.3L1474.7 475.5L1473.6 474.7M1101.6 1214.0L1103.7 1214.3L1104.7 1215.1L1103.8 1216.0L1101.7 1216.5L1099.6 1216.3L1098.6 1215.4L1099.5 1214.5L1101.6 1214.0M938.9 1256.1L940.6 1256.7L941.2 1257.3L940.4 1257.5L938.6 1257.1L936.8 1256.5L936.2 1255.9L937.1 1255.7L938.9 1256.1M946.9 1259.4L948.0 1259.9L948.4 1260.3L947.8 1260.5L946.6 1260.3L945.5 1259.9L945.1 1259.4L945.7 1259.2L946.9 1259.4M859.8 1275.4L861.0 1276.0L861.4 1276.4L860.8 1276.4L859.6 1275.9L858.4 1275.3L857.9 1274.9L858.5 1274.9L859.8 1275.4M605.9 1039.9L606.3 1040.8L606.2 1041.3L605.8 1041.1L605.2 1040.3L604.8 1039.3L604.9 1038.8L605.3 1039.0L605.9 1039.9M604.5 1046.0L604.7 1046.7L604.6 1047.0L604.3 1046.9L603.9 1046.4L603.6 1045.7L603.7 1045.4L604.1 1045.5L604.5 1046.0M1520.8 1106.4L1522.8 1103.7L1523.8 1102.6L1523.1 1103.8L1521.1 1106.6L1519.1 1109.3L1518.1 1110.3L1518.8 1109.1L1520.8 1106.4M897.0 296.1L895.7 296.5L895.1 296.4L895.5 296.0L896.7 295.4L898.0 295.1L898.5 295.2L898.1 295.6L897.0 296.1M868.3 303.1L866.5 303.8L865.7 303.9L866.3 303.4L868.1 302.5L869.9 301.8L870.7 301.7L870.1 302.2L868.3 303.1" fill="none" stroke="#fff" stroke-width="2.6" stroke-linejoin="round" stroke-linecap="round"/>
</g>
<text x="463.5" y="199.6" font-size="57.6" font-weight="bold" fill="#000" textLength="1233" lengthAdjust="spacingAndGlyphs">O3__, 380 K (~141 hPa), 2025-11-23T00, Sun.</text>
<defs><linearGradient id="cb" x1="0" y1="1" x2="0" y2="0"><stop offset="0.000" stop-color="#10004a"/><stop offset="0.030" stop-color="#2a0066"/><stop offset="0.070" stop-color="#480086"/><stop offset="0.100" stop-color="#6006c0"/><stop offset="0.150" stop-color="#5a18ea"/><stop offset="0.200" stop-color="#2058ff"/><stop offset="0.250" stop-color="#0088f0"/><stop offset="0.300" stop-color="#00a8d0"/><stop offset="0.350" stop-color="#00d0b0"/><stop offset="0.400" stop-color="#00f080"/><stop offset="0.450" stop-color="#30ff50"/><stop offset="0.500" stop-color="#70ff30"/><stop offset="0.550" stop-color="#a8ee10"/><stop offset="0.600" stop-color="#dcd800"/><stop offset="0.650" stop-color="#ffb400"/><stop offset="0.700" stop-color="#ff8c00"/><stop offset="0.750" stop-color="#ff5a00"/><stop offset="0.800" stop-color="#f03000"/><stop offset="0.850" stop-color="#b40010"/><stop offset="0.900" stop-color="#8c0010"/><stop offset="0.950" stop-color="#780008"/><stop offset="1.000" stop-color="#6b0000"/></linearGradient></defs>
<rect x="1692" y="488" width="27.5" height="586.5" fill="url(#cb)"/>
<path d="M1692.5 1074.5V488.5H1719" fill="none" stroke="#9a9a9a" stroke-width="1.6"/>
<path d="M1719.2 490V1074.5" fill="none" stroke="#555" stroke-width="0.8" opacity=".6"/>
<text x="1739" y="1085.6" font-size="33.6" font-weight="bold" fill="#000">0.0</text>
<path d="M1692 1015.8h5M1714 1015.8h5.5" stroke="#222" stroke-width="1.3"/>
<text x="1739" y="1027.0" font-size="33.6" font-weight="bold" fill="#000">0.30</text>
<path d="M1692 957.2h5M1714 957.2h5.5" stroke="#222" stroke-width="1.3"/>
<text x="1739" y="968.5" font-size="33.6" font-weight="bold" fill="#000">0.60</text>
<path d="M1692 898.6h5M1714 898.6h5.5" stroke="#222" stroke-width="1.3"/>
<text x="1739" y="909.9" font-size="33.6" font-weight="bold" fill="#000">0.90</text>
<path d="M1692 840.1h5M1714 840.1h5.5" stroke="#222" stroke-width="1.3"/>
<text x="1739" y="851.4" font-size="33.6" font-weight="bold" fill="#000">1.20</text>
<path d="M1692 781.5h5M1714 781.5h5.5" stroke="#222" stroke-width="1.3"/>
<text x="1739" y="792.8" font-size="33.6" font-weight="bold" fill="#000">1.50</text>
<path d="M1692 723.0h5M1714 723.0h5.5" stroke="#222" stroke-width="1.3"/>
<text x="1739" y="734.3" font-size="33.6" font-weight="bold" fill="#000">1.80</text>
<path d="M1692 664.5h5M1714 664.5h5.5" stroke="#222" stroke-width="1.3"/>
<text x="1739" y="675.8" font-size="33.6" font-weight="bold" fill="#000">2.10</text>
<path d="M1692 605.9h5M1714 605.9h5.5" stroke="#222" stroke-width="1.3"/>
<text x="1739" y="617.2" font-size="33.6" font-weight="bold" fill="#000">2.40</text>
<path d="M1692 547.4h5M1714 547.4h5.5" stroke="#222" stroke-width="1.3"/>
<text x="1739" y="558.6" font-size="33.6" font-weight="bold" fill="#000">2.70</text>
<text x="1739" y="500.1" font-size="33.6" font-weight="bold" fill="#000">3.00</text>
<text x="1784" y="1398.8" font-size="47.2" font-weight="bold" text-anchor="middle" fill="#000">Analysis</text>
<text x="130" y="1482.6" font-size="23" font-weight="bold" fill="#000" textLength="282.5" lengthAdjust="spacingAndGlyphs">Tue Nov 25 01:09:30 2025</text>
<text x="1515.2" y="1482.8" font-size="20.8" font-weight="bold" fill="#000" textLength="516" lengthAdjust="spacingAndGlyphs">Paul A. Newman &amp; Leslie R. Lait (NASA/GSFC)</text>
<rect x="319.5" y="1344.5" width="303" height="91" fill="none" stroke="#8a3030" stroke-width="1.2"/>
<text x="470.8" y="1366.5" font-size="19.5" font-weight="bold" text-anchor="middle" fill="#000">m/s</text>
<text x="361.2" y="1389" font-size="19" font-weight="bold" text-anchor="middle" fill="#6b0000">5</text>
<text x="415.9" y="1389" font-size="19" font-weight="bold" text-anchor="middle" fill="#6b0000">55</text>
<text x="470.8" y="1389" font-size="19" font-weight="bold" text-anchor="middle" fill="#6b0000">105</text>
<text x="532.0" y="1389" font-size="19" font-weight="bold" text-anchor="middle" fill="#6b0000">55</text>
<text x="592.0" y="1389" font-size="19" font-weight="bold" text-anchor="middle" fill="#6b0000">5</text>
<path d="M327 1412.1H615.5" stroke="#6b0000" stroke-width="1.2"/>
<rect x="384" y="1407.8" width="173.5" height="8.6" fill="#6b0000"/>
<rect x="442" y="1403.6" width="59" height="17" fill="#6b0000"/>
<path d="M351.0 1405.6L361.8 1412.1L351.0 1418.6Z" fill="#6b0000"/>
<path d="M581.0 1405.6L592.5 1412.1L581.0 1418.6Z" fill="#6b0000"/>
<path d="M409.0 1403.3L428.4 1412.1L409.0 1420.9Z" fill="#6b0000"/>
<path d="M525.3 1403.3L544.7 1412.1L525.3 1420.9Z" fill="#6b0000"/>
<path d="M463.3 1395.4L495.6 1412.1L463.3 1428.8Z" fill="#6b0000"/>
</svg></body></html>
